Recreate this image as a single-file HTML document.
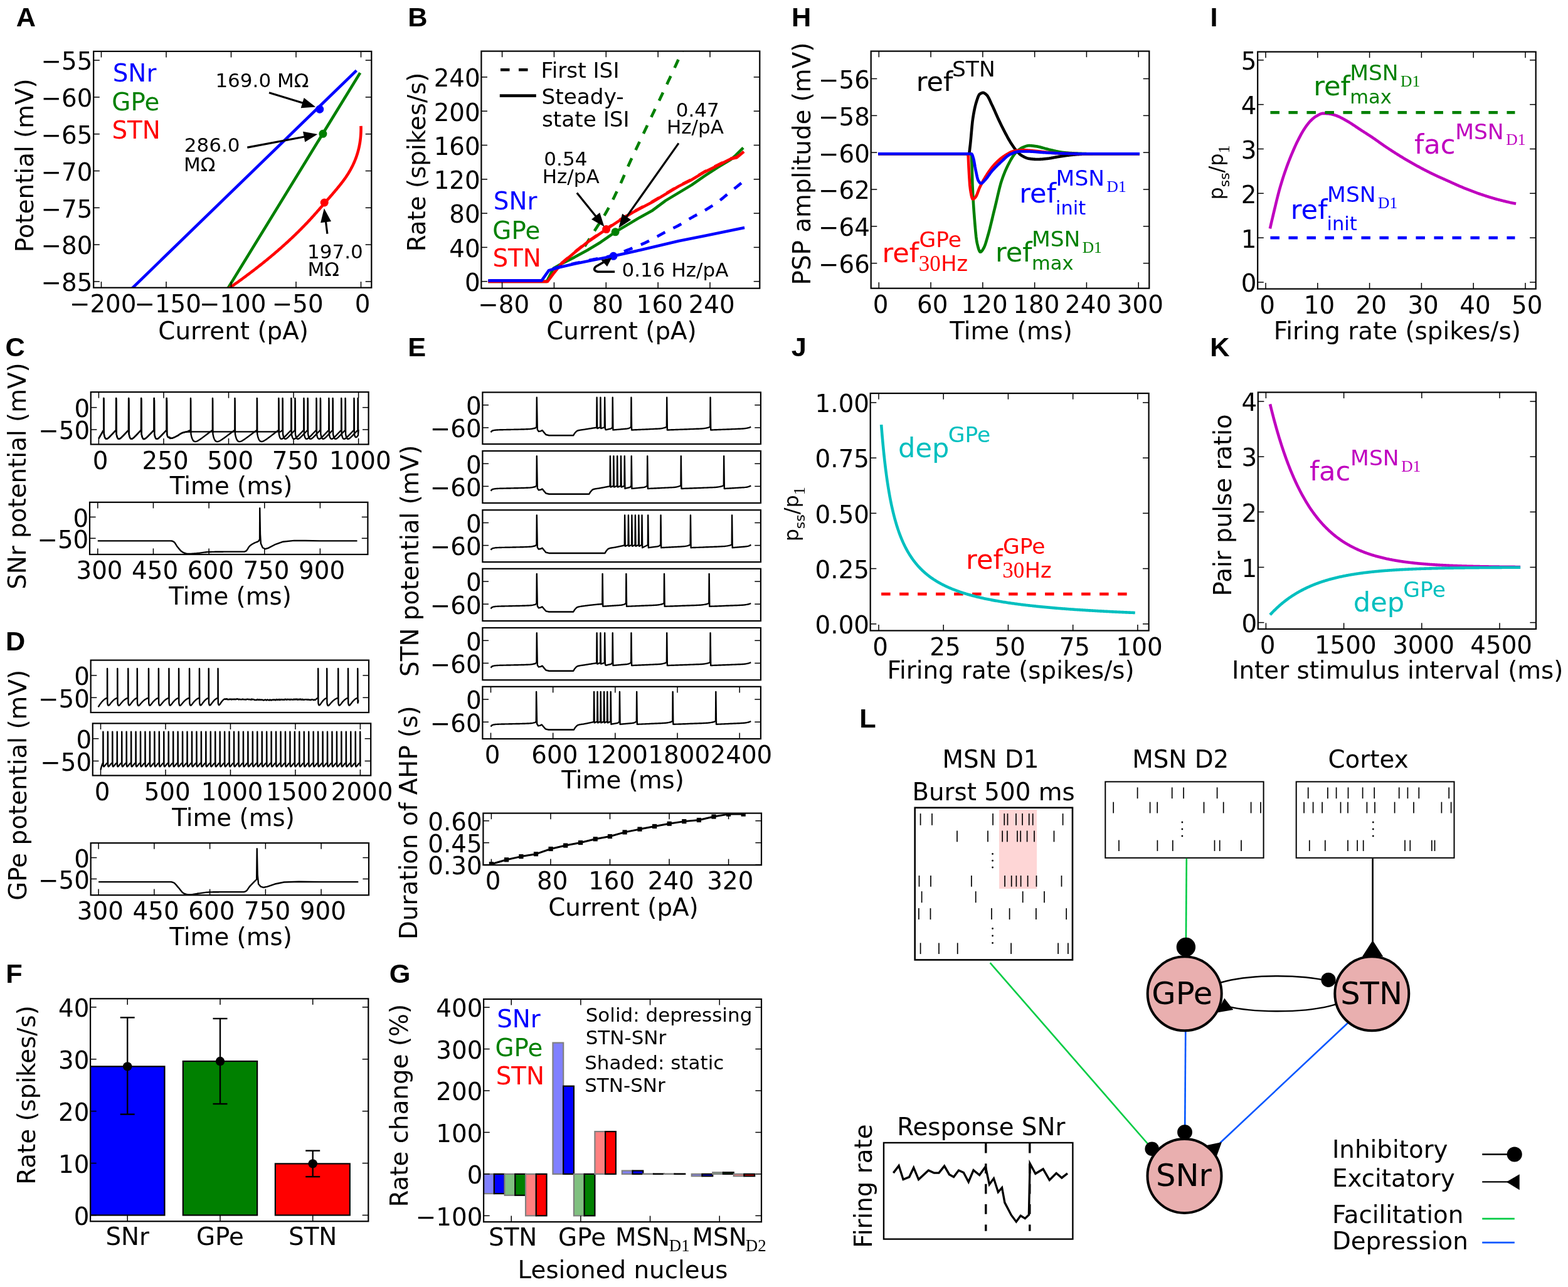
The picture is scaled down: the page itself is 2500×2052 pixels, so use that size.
<!DOCTYPE html>
<html><head><meta charset="utf-8"><title>Figure</title>
<style>html,body{margin:0;padding:0;background:#fff;}svg{display:block;}
text{font-family:'DejaVu Sans','Liberation Sans',sans-serif;}</style></head>
<body><svg xmlns="http://www.w3.org/2000/svg" width="2500" height="2052" viewBox="0 0 2500 2052">
<rect x="0" y="0" width="2500" height="2052" fill="#fff"/>
<text x="25.87" y="41.8" font-size="43.3" font-weight="bold" style="font-family:'Liberation Sans', Arial, sans-serif">A</text>
<text x="650.3" y="41.7" font-size="43.3" font-weight="bold" style="font-family:'Liberation Sans', Arial, sans-serif">B</text>
<text x="1262.1" y="41.7" font-size="43.3" font-weight="bold" style="font-family:'Liberation Sans', Arial, sans-serif">H</text>
<text x="1929.4" y="41.7" font-size="43.3" font-weight="bold" style="font-family:'Liberation Sans', Arial, sans-serif">I</text>
<text x="8.42" y="567.6" font-size="43.3" font-weight="bold" style="font-family:'Liberation Sans', Arial, sans-serif">C</text>
<text x="650.3" y="567.6" font-size="43.3" font-weight="bold" style="font-family:'Liberation Sans', Arial, sans-serif">E</text>
<text x="1261.64" y="567.6" font-size="43.3" font-weight="bold" style="font-family:'Liberation Sans', Arial, sans-serif">J</text>
<text x="1929.3" y="567.6" font-size="43.3" font-weight="bold" style="font-family:'Liberation Sans', Arial, sans-serif">K</text>
<text x="8.9" y="1037.1" font-size="43.3" font-weight="bold" style="font-family:'Liberation Sans', Arial, sans-serif">D</text>
<text x="1370.2" y="1160.2" font-size="43.3" font-weight="bold" style="font-family:'Liberation Sans', Arial, sans-serif">L</text>
<text x="9.2" y="1566.6" font-size="43.3" font-weight="bold" style="font-family:'Liberation Sans', Arial, sans-serif">F</text>
<text x="620.82" y="1566.6" font-size="43.3" font-weight="bold" style="font-family:'Liberation Sans', Arial, sans-serif">G</text>
<clipPath id="c1"><rect x="149.2" y="81.9" width="443.1" height="376.8"/></clipPath>
<polyline points="206.5,463.7 568.4,112.3" fill="none" stroke="#0000ff" stroke-width="4.6" stroke-linejoin="round" stroke-linecap="butt" clip-path="url(#c1)"/>
<polyline points="360.9,463.7 574.2,116.1" fill="none" stroke="#008000" stroke-width="4.6" stroke-linejoin="round" stroke-linecap="butt" clip-path="url(#c1)"/>
<polyline points="359.07,463.8 360.6,462.75 362.14,461.69 363.66,460.63 365.18,459.58 366.7,458.52 368.21,457.47 369.72,456.41 371.22,455.36 372.71,454.3 374.2,453.24 375.69,452.19 377.16,451.13 378.64,450.08 380.11,449.02 381.57,447.96 383.03,446.91 384.48,445.85 385.93,444.8 387.37,443.74 388.8,442.68 390.24,441.63 391.66,440.57 393.08,439.52 394.5,438.46 395.91,437.41 397.31,436.35 398.71,435.29 400.11,434.24 401.49,433.18 402.88,432.13 404.26,431.07 405.63,430.01 407,428.96 408.36,427.9 409.72,426.85 411.07,425.79 412.41,424.73 413.76,423.68 415.09,422.62 416.42,421.57 417.75,420.51 419.07,419.46 420.38,418.4 421.69,417.34 423,416.29 424.3,415.23 425.59,414.18 426.88,413.12 428.16,412.06 429.44,411.01 430.71,409.95 431.98,408.9 433.24,407.84 434.5,406.78 435.75,405.73 437,404.67 438.24,403.62 439.48,402.56 440.71,401.51 441.93,400.45 443.15,399.39 444.37,398.34 445.58,397.28 446.78,396.23 447.98,395.17 449.18,394.11 450.37,393.06 451.55,392 452.73,390.95 453.9,389.89 455.07,388.84 456.23,387.78 457.39,386.72 458.55,385.67 459.69,384.61 460.84,383.56 461.97,382.5 463.11,381.44 464.23,380.39 465.35,379.33 466.47,378.28 467.58,377.22 468.69,376.16 469.79,375.11 470.88,374.05 471.98,373 473.06,371.94 474.14,370.89 475.22,369.83 476.29,368.77 477.35,367.72 478.41,366.66 479.47,365.61 480.51,364.55 481.56,363.49 482.6,362.44 483.63,361.38 484.66,360.33 485.68,359.27 486.7,358.21 487.72,357.16 488.72,356.1 489.73,355.05 490.73,353.99 491.72,352.94 492.71,351.88 493.69,350.82 494.67,349.77 495.64,348.71 496.6,347.66 497.57,346.6 498.52,345.54 499.48,344.49 500.42,343.43 501.37,342.38 502.31,341.32 503.24,340.27 504.18,339.21 505.11,338.15 506.03,337.1 506.96,336.04 507.88,334.99 508.8,333.93 509.72,332.87 510.64,331.82 511.56,330.76 512.47,329.71 513.39,328.65 514.3,327.59 515.22,326.54 516.13,325.48 517.05,324.43 517.97,323.37 518.88,322.32 519.8,321.26 520.72,320.2 521.64,319.15 522.56,318.09 523.48,317.04 524.4,315.98 525.32,314.92 526.24,313.87 527.15,312.81 528.07,311.76 528.98,310.7 529.89,309.64 530.8,308.59 531.7,307.53 532.61,306.48 533.5,305.42 534.4,304.37 535.29,303.31 536.18,302.25 537.06,301.2 537.93,300.14 538.8,299.09 539.67,298.03 540.53,296.97 541.38,295.92 542.22,294.86 543.06,293.81 543.89,292.75 544.71,291.69 545.52,290.64 546.32,289.58 547.11,288.53 547.9,287.47 548.67,286.42 549.43,285.36 550.18,284.3 550.92,283.25 551.65,282.19 552.36,281.14 553.07,280.08 553.76,279.02 554.43,277.97 555.1,276.91 555.75,275.86 556.39,274.8 557.02,273.75 557.64,272.69 558.24,271.63 558.84,270.58 559.42,269.52 559.99,268.47 560.54,267.41 561.09,266.35 561.62,265.3 562.15,264.24 562.66,263.19 563.16,262.13 563.65,261.07 564.13,260.02 564.6,258.96 565.05,257.91 565.5,256.85 565.93,255.8 566.36,254.74 566.77,253.68 567.17,252.63 567.57,251.57 567.95,250.52 568.32,249.46 568.68,248.4 569.03,247.35 569.37,246.29 569.7,245.24 570.02,244.18 570.33,243.12 570.64,242.07 570.93,241.01 571.21,239.96 571.48,238.9 571.74,237.85 572,236.79 572.24,235.73 572.47,234.68 572.7,233.62 572.91,232.57 573.12,231.51 573.32,230.45 573.51,229.4 573.69,228.34 573.86,227.29 574.02,226.23 574.17,225.17 574.32,224.12 574.45,223.06 574.58,222.01 574.7,220.95 574.81,219.9 574.92,218.84 575.01,217.78 575.1,216.73 575.18,215.67 575.25,214.62 575.31,213.56 575.37,212.5 575.41,211.45 575.45,210.39 575.49,209.34 575.51,208.28 575.53,207.23 575.54,206.17 575.54,205.11 575.54,204.06 575.53,203 575.51,201.95 575.48,200.89" fill="none" stroke="#ff0000" stroke-width="4.6" stroke-linejoin="round" stroke-linecap="butt" clip-path="url(#c1)"/>
<circle cx="509.7" cy="174.2" r="6.5" fill="#0000ff" stroke="none" stroke-width="0"/>
<circle cx="514.9" cy="213.3" r="6.5" fill="#008000" stroke="none" stroke-width="0"/>
<circle cx="517.2" cy="323" r="6.5" fill="#ff0000" stroke="none" stroke-width="0"/>
<line x1="161.5" y1="458.7" x2="161.5" y2="449.1" stroke="#000" stroke-width="1.5" stroke-linecap="butt"/>
<line x1="161.5" y1="81.9" x2="161.5" y2="91.5" stroke="#000" stroke-width="1.5" stroke-linecap="butt"/>
<line x1="265" y1="458.7" x2="265" y2="449.1" stroke="#000" stroke-width="1.5" stroke-linecap="butt"/>
<line x1="265" y1="81.9" x2="265" y2="91.5" stroke="#000" stroke-width="1.5" stroke-linecap="butt"/>
<line x1="368.5" y1="458.7" x2="368.5" y2="449.1" stroke="#000" stroke-width="1.5" stroke-linecap="butt"/>
<line x1="368.5" y1="81.9" x2="368.5" y2="91.5" stroke="#000" stroke-width="1.5" stroke-linecap="butt"/>
<line x1="472" y1="458.7" x2="472" y2="449.1" stroke="#000" stroke-width="1.5" stroke-linecap="butt"/>
<line x1="472" y1="81.9" x2="472" y2="91.5" stroke="#000" stroke-width="1.5" stroke-linecap="butt"/>
<line x1="575.5" y1="458.7" x2="575.5" y2="449.1" stroke="#000" stroke-width="1.5" stroke-linecap="butt"/>
<line x1="575.5" y1="81.9" x2="575.5" y2="91.5" stroke="#000" stroke-width="1.5" stroke-linecap="butt"/>
<line x1="149.2" y1="96.1" x2="158.8" y2="96.1" stroke="#000" stroke-width="1.5" stroke-linecap="butt"/>
<line x1="592.3" y1="96.1" x2="582.7" y2="96.1" stroke="#000" stroke-width="1.5" stroke-linecap="butt"/>
<line x1="149.2" y1="154.9" x2="158.8" y2="154.9" stroke="#000" stroke-width="1.5" stroke-linecap="butt"/>
<line x1="592.3" y1="154.9" x2="582.7" y2="154.9" stroke="#000" stroke-width="1.5" stroke-linecap="butt"/>
<line x1="149.2" y1="213.7" x2="158.8" y2="213.7" stroke="#000" stroke-width="1.5" stroke-linecap="butt"/>
<line x1="592.3" y1="213.7" x2="582.7" y2="213.7" stroke="#000" stroke-width="1.5" stroke-linecap="butt"/>
<line x1="149.2" y1="272.5" x2="158.8" y2="272.5" stroke="#000" stroke-width="1.5" stroke-linecap="butt"/>
<line x1="592.3" y1="272.5" x2="582.7" y2="272.5" stroke="#000" stroke-width="1.5" stroke-linecap="butt"/>
<line x1="149.2" y1="331.3" x2="158.8" y2="331.3" stroke="#000" stroke-width="1.5" stroke-linecap="butt"/>
<line x1="592.3" y1="331.3" x2="582.7" y2="331.3" stroke="#000" stroke-width="1.5" stroke-linecap="butt"/>
<line x1="149.2" y1="390.1" x2="158.8" y2="390.1" stroke="#000" stroke-width="1.5" stroke-linecap="butt"/>
<line x1="592.3" y1="390.1" x2="582.7" y2="390.1" stroke="#000" stroke-width="1.5" stroke-linecap="butt"/>
<line x1="149.2" y1="448.9" x2="158.8" y2="448.9" stroke="#000" stroke-width="1.5" stroke-linecap="butt"/>
<line x1="592.3" y1="448.9" x2="582.7" y2="448.9" stroke="#000" stroke-width="1.5" stroke-linecap="butt"/>
<rect x="149.2" y="81.9" width="443.1" height="376.8" fill="none" stroke="#000" stroke-width="2.2"/>
<text x="164.2" y="497.7" font-size="38.8" text-anchor="middle">−200</text>
<text x="267.7" y="497.7" font-size="38.8" text-anchor="middle">−150</text>
<text x="371.2" y="497.7" font-size="38.8" text-anchor="middle">−100</text>
<text x="474.7" y="497.7" font-size="38.8" text-anchor="middle">−50</text>
<text x="578.2" y="497.7" font-size="38.8" text-anchor="middle">0</text>
<text x="147.5" y="111.44" font-size="38.8" text-anchor="end">−55</text>
<text x="147.5" y="170.24" font-size="38.8" text-anchor="end">−60</text>
<text x="147.5" y="229.04" font-size="38.8" text-anchor="end">−65</text>
<text x="147.5" y="287.84" font-size="38.8" text-anchor="end">−70</text>
<text x="147.5" y="346.64" font-size="38.8" text-anchor="end">−75</text>
<text x="147.5" y="405.44" font-size="38.8" text-anchor="end">−80</text>
<text x="147.5" y="464.24" font-size="38.8" text-anchor="end">−85</text>
<text x="372.08" y="540.7" font-size="38.8" text-anchor="middle">Current (pA)</text>
<text x="53.3" y="263.84" font-size="38.8" text-anchor="middle" transform="rotate(-90 53.3 263.84)">Potential (mV)</text>
<text x="179.74" y="129.7" font-size="38.8" fill="#0000ff">SNr</text>
<text x="178.32" y="175.8" font-size="38.8" fill="#008000">GPe</text>
<text x="178.44" y="221" font-size="38.8" fill="#ff0000">STN</text>
<text x="343.39" y="138.7" font-size="31">169.0 MΩ</text>
<text x="293.83" y="241.9" font-size="31">286.0</text>
<text x="293.06" y="272.6" font-size="31">MΩ</text>
<text x="490.09" y="412.3" font-size="31">197.0</text>
<text x="490.46" y="440.3" font-size="31">MΩ</text>
<line x1="429" y1="147.7" x2="483.13" y2="164.33" stroke="#000" stroke-width="3.2" stroke-linecap="butt"/>
<polygon points="503.2,170.5 479.67,172.16 484.67,155.91" fill="#000"/>
<line x1="394.3" y1="235.1" x2="485.66" y2="217.97" stroke="#000" stroke-width="3.2" stroke-linecap="butt"/>
<polygon points="506.3,214.1 486.24,226.51 483.11,209.8" fill="#000"/>
<line x1="521.9" y1="372.8" x2="519.42" y2="353.14" stroke="#000" stroke-width="3.2" stroke-linecap="butt"/>
<polygon points="516.8,332.3 527.98,353.07 511.12,355.19" fill="#000"/>
<clipPath id="c2"><rect x="767.4" y="81.6" width="443.9" height="378.1"/></clipPath>
<polyline points="778.32,448.83 871.93,448.83 882.34,428.03 894.82,420.75 915.62,410.35 936.42,398.91 957.23,386.42 981.15,369.78 998.83,359.38 1019.64,346.9 1040.44,335.46 1061.24,319.85 1082.04,307.37 1102.85,294.89 1123.65,280.33 1144.45,266.81 1165.26,254.32 1171.5,249.12 1185.02,235.6" fill="none" stroke="#008000" stroke-width="4.6" stroke-linejoin="round" stroke-linecap="butt" clip-path="url(#c2)"/>
<polyline points="932.26,392.66 933.63,390.54 934.99,388.41 936.35,386.27 937.72,384.14 939.08,382 940.44,379.85 941.81,377.71 943.17,375.56 944.54,373.41 945.9,371.25 947.26,369.09 948.63,366.95 949.99,364.83 951.35,362.72 952.72,360.61 954.08,358.51 955.44,356.41 956.81,354.29 958.17,352.16 959.53,350.01 960.9,347.84 962.26,345.62 963.63,343.38 964.99,341.08 966.35,338.74 967.72,336.34 969.08,333.89 970.44,331.38 971.81,328.83 973.17,326.23 974.53,323.59 975.9,320.91 977.26,318.19 978.62,315.44 979.99,312.65 981.35,309.84 982.72,307 984.08,304.14 985.44,301.26 986.81,298.36 988.17,295.45 989.53,292.5 990.9,289.47 992.26,286.38 993.62,283.24 994.99,280.06 996.35,276.87 997.71,273.67 999.08,270.5 1000.44,267.35 1001.8,264.25 1003.17,261.22 1004.53,258.24 1005.9,255.28 1007.26,252.36 1008.62,249.45 1009.99,246.56 1011.35,243.69 1012.71,240.82 1014.08,237.96 1015.44,235.09 1016.8,232.23 1018.17,229.35 1019.53,226.46 1020.89,223.57 1022.26,220.68 1023.62,217.79 1024.99,214.91 1026.35,212.03 1027.71,209.15 1029.08,206.28 1030.44,203.41 1031.8,200.55 1033.17,197.68 1034.53,194.82 1035.89,191.96 1037.26,189.1 1038.62,186.24 1039.98,183.38 1041.35,180.53 1042.71,177.67 1044.08,174.81 1045.44,171.96 1046.8,169.1 1048.17,166.24 1049.53,163.38 1050.89,160.52 1052.26,157.66 1053.62,154.79 1054.98,151.92 1056.35,149.05 1057.71,146.18 1059.07,143.3 1060.44,140.42 1061.8,137.53 1063.16,134.64 1064.53,131.75 1065.89,128.85 1067.26,125.95 1068.62,123.04 1069.98,120.12 1071.35,117.2 1072.71,114.27 1074.07,111.34 1075.44,108.39 1076.8,105.45 1078.16,102.49 1079.53,99.52 1080.89,96.55 1082.25,93.57 1083.62,90.58 1084.98,87.58 1086.35,84.57 1087.71,81.56 1089.07,78.51 1090.44,75.42 1091.8,72.31 1093.16,69.18 1094.53,66.06" fill="none" stroke="#008000" stroke-width="4.6" stroke-linejoin="round" stroke-linecap="butt" stroke-dasharray="14.5,14.5" clip-path="url(#c2)"/>
<polyline points="894.82,420.12 915.62,402.44 936.42,385.8 966.59,365 988.43,350.43 1009.23,337.95 1040.44,321.31 1061.24,308.83 1082.04,296.35 1102.85,285.95 1123.65,273.46 1144.45,263.06 1165.26,252.66 1174.62,250.58 1186.06,241.22" fill="none" stroke="#ff0000" stroke-width="4.6" stroke-linejoin="round" stroke-linecap="butt" stroke-dasharray="14.5,14.5" clip-path="url(#c2)"/>
<polyline points="778.32,448.83 872.97,448.83 882.34,436.35 894.82,420.75 915.62,403.07 936.42,386.42 966.59,365.62 988.43,351.06 1009.23,338.58 1040.44,321.93 1061.24,309.45 1082.04,296.97 1102.85,286.57 1123.65,274.09 1144.45,263.69 1165.26,253.28 1174.62,251.2 1186.06,241.84" fill="none" stroke="#ff0000" stroke-width="4.6" stroke-linejoin="round" stroke-linecap="butt" clip-path="url(#c2)"/>
<polyline points="882.34,428.03 884.37,427.52 886.41,427.02 888.45,426.51 890.49,426.02 892.53,425.52 894.57,425.03 896.61,424.53 898.64,424.05 900.68,423.56 902.72,423.08 904.76,422.61 906.8,422.13 908.84,421.66 910.87,421.2 912.91,420.73 914.95,420.27 916.99,419.82 919.03,419.37 921.07,418.92 923.1,418.48 925.14,418.04 927.18,417.6 929.22,417.17 931.26,416.74 933.3,416.31 935.33,415.88 937.37,415.46 939.41,415.04 941.45,414.62 943.49,414.2 945.53,413.78 947.57,413.36 949.6,412.94 951.64,412.53 953.68,412.11 955.72,411.7 957.76,411.28 959.8,410.88 961.83,410.5 963.87,410.13 965.91,409.77 967.95,409.4 969.99,409.01 972.03,408.61 974.06,408.18 976.1,407.71 978.14,407.2 980.18,406.62 982.22,405.96 984.26,405.24 986.3,404.47 988.33,403.66 990.37,402.82 992.41,401.97 994.45,401.11 996.49,400.27 998.53,399.44 1000.56,398.64 1002.6,397.84 1004.64,397.04 1006.68,396.24 1008.72,395.43 1010.76,394.63 1012.79,393.81 1014.83,392.99 1016.87,392.16 1018.91,391.31 1020.95,390.45 1022.99,389.58 1025.03,388.69 1027.06,387.79 1029.1,386.86 1031.14,385.9 1033.18,384.92 1035.22,383.89 1037.26,382.84 1039.29,381.76 1041.33,380.66 1043.37,379.55 1045.41,378.42 1047.45,377.29 1049.49,376.15 1051.52,375.02 1053.56,373.89 1055.6,372.78 1057.64,371.68 1059.68,370.59 1061.72,369.54 1063.76,368.51 1065.79,367.5 1067.83,366.51 1069.87,365.52 1071.91,364.53 1073.95,363.54 1075.99,362.53 1078.02,361.5 1080.06,360.44 1082.1,359.35 1084.14,358.21 1086.18,357.03 1088.22,355.81 1090.25,354.57 1092.29,353.31 1094.33,352.04 1096.37,350.78 1098.41,349.53 1100.45,348.3 1102.48,347.11 1104.52,345.95 1106.56,344.82 1108.6,343.72 1110.64,342.62 1112.68,341.54 1114.72,340.45 1116.75,339.35 1118.79,338.24 1120.83,337.1 1122.87,335.92 1124.91,334.7 1126.95,333.47 1128.98,332.22 1131.02,330.94 1133.06,329.65 1135.1,328.33 1137.14,326.99 1139.18,325.62 1141.21,324.22 1143.25,322.79 1145.29,321.33 1147.33,319.81 1149.37,318.24 1151.41,316.63 1153.45,314.98 1155.48,313.31 1157.52,311.63 1159.56,309.94 1161.6,308.26 1163.64,306.6 1165.68,304.96 1167.71,303.33 1169.75,301.7 1171.79,300.07 1173.83,298.43 1175.87,296.8 1177.91,295.17 1179.94,293.54 1181.98,291.91 1184.02,290.28 1186.06,288.65" fill="none" stroke="#0000ff" stroke-width="4.6" stroke-linejoin="round" stroke-linecap="butt" stroke-dasharray="14.5,14.5" clip-path="url(#c2)"/>
<polyline points="778.32,447.38 863.61,447.38 875.06,431.15 892.74,425.95 915.62,420.75 936.42,416.59 978.03,408.27 1019.64,398.91 1082.04,384.34 1123.65,376.02 1187.1,363.12" fill="none" stroke="#0000ff" stroke-width="4.6" stroke-linejoin="round" stroke-linecap="butt" clip-path="url(#c2)"/>
<circle cx="966.6" cy="365.6" r="6.5" fill="#ff0000" stroke="none" stroke-width="0"/>
<circle cx="981.1" cy="369.8" r="6.5" fill="#008000" stroke="none" stroke-width="0"/>
<circle cx="978" cy="408.3" r="6.5" fill="#0000ff" stroke="none" stroke-width="0"/>
<line x1="800.6" y1="459.7" x2="800.6" y2="450.1" stroke="#000" stroke-width="1.5" stroke-linecap="butt"/>
<line x1="800.6" y1="81.6" x2="800.6" y2="91.2" stroke="#000" stroke-width="1.5" stroke-linecap="butt"/>
<line x1="883.45" y1="459.7" x2="883.45" y2="450.1" stroke="#000" stroke-width="1.5" stroke-linecap="butt"/>
<line x1="883.45" y1="81.6" x2="883.45" y2="91.2" stroke="#000" stroke-width="1.5" stroke-linecap="butt"/>
<line x1="966.3" y1="459.7" x2="966.3" y2="450.1" stroke="#000" stroke-width="1.5" stroke-linecap="butt"/>
<line x1="966.3" y1="81.6" x2="966.3" y2="91.2" stroke="#000" stroke-width="1.5" stroke-linecap="butt"/>
<line x1="1049.15" y1="459.7" x2="1049.15" y2="450.1" stroke="#000" stroke-width="1.5" stroke-linecap="butt"/>
<line x1="1049.15" y1="81.6" x2="1049.15" y2="91.2" stroke="#000" stroke-width="1.5" stroke-linecap="butt"/>
<line x1="1132" y1="459.7" x2="1132" y2="450.1" stroke="#000" stroke-width="1.5" stroke-linecap="butt"/>
<line x1="1132" y1="81.6" x2="1132" y2="91.2" stroke="#000" stroke-width="1.5" stroke-linecap="butt"/>
<line x1="767.4" y1="448.7" x2="777" y2="448.7" stroke="#000" stroke-width="1.5" stroke-linecap="butt"/>
<line x1="1211.3" y1="448.7" x2="1201.7" y2="448.7" stroke="#000" stroke-width="1.5" stroke-linecap="butt"/>
<line x1="767.4" y1="394.4" x2="777" y2="394.4" stroke="#000" stroke-width="1.5" stroke-linecap="butt"/>
<line x1="1211.3" y1="394.4" x2="1201.7" y2="394.4" stroke="#000" stroke-width="1.5" stroke-linecap="butt"/>
<line x1="767.4" y1="340.1" x2="777" y2="340.1" stroke="#000" stroke-width="1.5" stroke-linecap="butt"/>
<line x1="1211.3" y1="340.1" x2="1201.7" y2="340.1" stroke="#000" stroke-width="1.5" stroke-linecap="butt"/>
<line x1="767.4" y1="285.8" x2="777" y2="285.8" stroke="#000" stroke-width="1.5" stroke-linecap="butt"/>
<line x1="1211.3" y1="285.8" x2="1201.7" y2="285.8" stroke="#000" stroke-width="1.5" stroke-linecap="butt"/>
<line x1="767.4" y1="231.5" x2="777" y2="231.5" stroke="#000" stroke-width="1.5" stroke-linecap="butt"/>
<line x1="1211.3" y1="231.5" x2="1201.7" y2="231.5" stroke="#000" stroke-width="1.5" stroke-linecap="butt"/>
<line x1="767.4" y1="177.2" x2="777" y2="177.2" stroke="#000" stroke-width="1.5" stroke-linecap="butt"/>
<line x1="1211.3" y1="177.2" x2="1201.7" y2="177.2" stroke="#000" stroke-width="1.5" stroke-linecap="butt"/>
<line x1="767.4" y1="122.9" x2="777" y2="122.9" stroke="#000" stroke-width="1.5" stroke-linecap="butt"/>
<line x1="1211.3" y1="122.9" x2="1201.7" y2="122.9" stroke="#000" stroke-width="1.5" stroke-linecap="butt"/>
<rect x="767.4" y="81.6" width="443.9" height="378.1" fill="none" stroke="#000" stroke-width="2.2"/>
<text x="803.3" y="498.7" font-size="38.8" text-anchor="middle">−80</text>
<text x="886.15" y="498.7" font-size="38.8" text-anchor="middle">0</text>
<text x="969" y="498.7" font-size="38.8" text-anchor="middle">80</text>
<text x="1051.85" y="498.7" font-size="38.8" text-anchor="middle">160</text>
<text x="1134.7" y="498.7" font-size="38.8" text-anchor="middle">240</text>
<text x="765.7" y="464.04" font-size="38.8" text-anchor="end">0</text>
<text x="765.7" y="409.74" font-size="38.8" text-anchor="end">40</text>
<text x="765.7" y="355.44" font-size="38.8" text-anchor="end">80</text>
<text x="765.7" y="301.14" font-size="38.8" text-anchor="end">120</text>
<text x="765.7" y="246.84" font-size="38.8" text-anchor="end">160</text>
<text x="765.7" y="192.54" font-size="38.8" text-anchor="end">200</text>
<text x="765.7" y="138.24" font-size="38.8" text-anchor="end">240</text>
<text x="990.98" y="540.7" font-size="38.8" text-anchor="middle">Current (pA)</text>
<text x="678.3" y="258.44" font-size="38.8" text-anchor="middle" transform="rotate(-90 678.3 258.44)">Rate (spikes/s)</text>
<line x1="798" y1="111.3" x2="842.6" y2="111.3" stroke="#000" stroke-width="4.6" stroke-linecap="butt" stroke-dasharray="14.5,14.5"/>
<line x1="796.8" y1="152.6" x2="854.8" y2="152.6" stroke="#000" stroke-width="4.6" stroke-linecap="butt"/>
<text x="862.43" y="124.2" font-size="34.3">First ISI</text>
<text x="863.54" y="166" font-size="34.3">Steady-</text>
<text x="863.94" y="201.6" font-size="34.3">state ISI</text>
<text x="786.84" y="333.9" font-size="38.8" fill="#0000ff">SNr</text>
<text x="785.32" y="380.6" font-size="38.8" fill="#008000">GPe</text>
<text x="785.44" y="425.2" font-size="38.8" fill="#ff0000">STN</text>
<text x="867.36" y="263.7" font-size="31">0.54</text>
<text x="864.76" y="291.8" font-size="31">Hz/pA</text>
<text x="1077.66" y="185.5" font-size="31">0.47</text>
<text x="1062.96" y="213" font-size="31">Hz/pA</text>
<text x="991.56" y="440.5" font-size="31">0.16 Hz/pA</text>
<line x1="919.8" y1="307.4" x2="950.3" y2="345.16" stroke="#000" stroke-width="3.2" stroke-linecap="butt"/>
<polygon points="963.5,361.5 943.06,349.73 956.29,339.04" fill="#000"/>
<line x1="1082" y1="228.3" x2="998.52" y2="346.35" stroke="#000" stroke-width="3.2" stroke-linecap="butt"/>
<polygon points="986.4,363.5 992.16,340.63 1006.04,350.44" fill="#000"/>
<path d="M 980.1 433.2 L 953 433.2 Q 944 431 950 425 L 966 416" fill="none" stroke="#000" stroke-width="3.6" stroke-linejoin="round" stroke-linecap="butt"/>
<polygon points="975.5,411 958.5,414.5 968,425" fill="#000"/>
<clipPath id="c3"><rect x="1388.7" y="81.6" width="443.6" height="378.1"/></clipPath>
<polyline points="1400,245.28 1400.84,245.28 1401.67,245.28 1402.51,245.28 1403.34,245.28 1404.18,245.28 1405.01,245.28 1405.85,245.28 1406.69,245.28 1407.52,245.28 1408.36,245.28 1409.19,245.28 1410.03,245.28 1410.86,245.28 1411.7,245.28 1412.54,245.28 1413.37,245.28 1414.21,245.28 1415.04,245.28 1415.88,245.28 1416.71,245.28 1417.55,245.28 1418.39,245.28 1419.22,245.28 1420.06,245.28 1420.89,245.28 1421.73,245.28 1422.56,245.28 1423.4,245.28 1424.24,245.28 1425.07,245.28 1425.91,245.28 1426.74,245.28 1427.58,245.28 1428.41,245.28 1429.25,245.28 1430.09,245.28 1430.92,245.28 1431.76,245.28 1432.59,245.28 1433.43,245.28 1434.27,245.28 1435.1,245.28 1435.94,245.28 1436.77,245.28 1437.61,245.28 1438.44,245.28 1439.28,245.28 1440.12,245.28 1440.95,245.28 1441.79,245.28 1442.62,245.28 1443.46,245.28 1444.29,245.28 1445.13,245.28 1445.97,245.28 1446.8,245.28 1447.64,245.28 1448.47,245.28 1449.31,245.28 1450.14,245.28 1450.98,245.28 1451.82,245.28 1452.65,245.28 1453.49,245.28 1454.32,245.28 1455.16,245.28 1455.99,245.28 1456.83,245.28 1457.67,245.28 1458.5,245.28 1459.34,245.28 1460.17,245.28 1461.01,245.28 1461.84,245.28 1462.68,245.28 1463.52,245.28 1464.35,245.28 1465.19,245.28 1466.02,245.28 1466.86,245.28 1467.69,245.28 1468.53,245.28 1469.37,245.28 1470.2,245.28 1471.04,245.28 1471.87,245.28 1472.71,245.28 1473.54,245.28 1474.38,245.28 1475.22,245.28 1476.05,245.28 1476.89,245.28 1477.72,245.28 1478.56,245.28 1479.39,245.28 1480.23,245.28 1481.07,245.28 1481.9,245.28 1482.74,245.28 1483.57,245.28 1484.41,245.28 1485.24,245.28 1486.08,245.28 1486.92,245.28 1487.75,245.28 1488.59,245.28 1489.42,245.28 1490.26,245.28 1491.1,245.28 1491.93,245.28 1492.77,245.28 1493.6,245.28 1494.44,245.28 1495.27,245.28 1496.11,245.28 1496.95,245.28 1497.78,245.28 1498.62,245.28 1499.45,245.28 1500.29,245.28 1501.12,245.28 1501.96,245.28 1502.8,245.28 1503.63,245.28 1504.47,245.28 1505.3,245.28 1506.14,245.28 1506.97,245.28 1507.81,245.28 1508.65,245.28 1509.48,245.28 1510.32,245.28 1511.15,245.28 1511.99,245.28 1512.82,245.28 1513.66,245.28 1514.5,245.28 1515.33,245.28 1516.17,245.28 1517,245.28 1517.84,245.28 1518.67,245.28 1519.51,245.28 1520.35,245.28 1521.18,245.28 1522.02,245.28 1522.85,245.28 1523.69,245.28 1524.52,245.28 1525.36,245.28 1526.2,245.28 1527.03,245.28 1527.87,245.28 1528.7,245.28 1529.54,245.28 1530.37,245.28 1531.21,245.28 1532.05,245.28 1532.88,245.28 1533.72,245.28 1534.55,245.28 1535.39,245.28 1536.22,245.28 1537.06,245.28 1537.9,245.28 1538.73,245.28 1539.57,245.28 1540.4,245.28 1541.24,245.28 1542.07,245.28 1542.91,245.28 1543.75,245.28 1544.58,245.28 1545.42,243.73 1546.25,236.9 1547.09,229.65 1547.93,221.15 1548.76,211.75 1549.6,202.44 1550.43,194.23 1551.27,188.05 1552.1,182.92 1552.94,178.27 1553.78,174.07 1554.61,170.3 1555.45,166.94 1556.28,163.97 1557.12,161.28 1557.95,158.66 1558.79,156.18 1559.63,153.97 1560.46,152.13 1561.3,150.76 1562.13,149.96 1562.97,149.42 1563.8,148.94 1564.64,148.53 1565.48,148.21 1566.31,147.98 1567.15,147.87 1567.98,147.91 1568.82,148.14 1569.65,148.56 1570.49,149.11 1571.33,149.75 1572.16,150.46 1573,151.2 1573.83,152.09 1574.67,153.23 1575.5,154.59 1576.34,156.13 1577.18,157.8 1578.01,159.58 1578.85,161.41 1579.68,163.26 1580.52,165.09 1581.35,166.86 1582.19,168.57 1583.03,170.31 1583.86,172.11 1584.7,173.94 1585.53,175.8 1586.37,177.68 1587.2,179.58 1588.04,181.48 1588.88,183.37 1589.71,185.25 1590.55,187.12 1591.38,188.95 1592.22,190.75 1593.05,192.5 1593.89,194.25 1594.73,195.98 1595.56,197.71 1596.4,199.42 1597.23,201.13 1598.07,202.81 1598.9,204.49 1599.74,206.15 1600.58,207.79 1601.41,209.41 1602.25,211.01 1603.08,212.59 1603.92,214.15 1604.75,215.7 1605.59,217.25 1606.43,218.78 1607.26,220.29 1608.1,221.78 1608.93,223.25 1609.77,224.68 1610.61,226.08 1611.44,227.44 1612.28,228.75 1613.11,230.04 1613.95,231.31 1614.78,232.57 1615.62,233.81 1616.46,235.01 1617.29,236.19 1618.13,237.32 1618.96,238.4 1619.8,239.42 1620.63,240.39 1621.47,241.29 1622.31,242.17 1623.14,243.03 1623.98,243.87 1624.81,244.68 1625.65,245.44 1626.48,246.17 1627.32,246.85 1628.16,247.48 1628.99,248.04 1629.83,248.55 1630.66,249.01 1631.5,249.46 1632.33,249.9 1633.17,250.32 1634.01,250.73 1634.84,251.11 1635.68,251.47 1636.51,251.8 1637.35,252.1 1638.18,252.36 1639.02,252.59 1639.86,252.78 1640.69,252.93 1641.53,253.04 1642.36,253.15 1643.2,253.26 1644.03,253.37 1644.87,253.46 1645.71,253.56 1646.54,253.64 1647.38,253.72 1648.21,253.79 1649.05,253.86 1649.88,253.91 1650.72,253.96 1651.56,253.99 1652.39,254.02 1653.23,254.03 1654.06,254.04 1654.9,254.03 1655.73,254.01 1656.57,253.99 1657.41,253.95 1658.24,253.91 1659.08,253.86 1659.91,253.81 1660.75,253.75 1661.58,253.68 1662.42,253.61 1663.26,253.53 1664.09,253.46 1664.93,253.37 1665.76,253.29 1666.6,253.21 1667.44,253.12 1668.27,253.04 1669.11,252.96 1669.94,252.87 1670.78,252.78 1671.61,252.67 1672.45,252.56 1673.29,252.43 1674.12,252.3 1674.96,252.17 1675.79,252.02 1676.63,251.88 1677.46,251.73 1678.3,251.57 1679.14,251.41 1679.97,251.26 1680.81,251.1 1681.64,250.94 1682.48,250.78 1683.31,250.62 1684.15,250.47 1684.99,250.31 1685.82,250.17 1686.66,250.02 1687.49,249.89 1688.33,249.75 1689.16,249.63 1690,249.51 1690.84,249.38 1691.67,249.26 1692.51,249.14 1693.34,249.01 1694.18,248.89 1695.01,248.76 1695.85,248.64 1696.69,248.52 1697.52,248.4 1698.36,248.28 1699.19,248.16 1700.03,248.05 1700.86,247.93 1701.7,247.82 1702.54,247.71 1703.37,247.61 1704.21,247.5 1705.04,247.4 1705.88,247.31 1706.71,247.21 1707.55,247.12 1708.39,247.04 1709.22,246.96 1710.06,246.88 1710.89,246.81 1711.73,246.74 1712.56,246.67 1713.4,246.6 1714.24,246.53 1715.07,246.46 1715.91,246.39 1716.74,246.32 1717.58,246.26 1718.41,246.19 1719.25,246.13 1720.09,246.08 1720.92,246.02 1721.76,245.97 1722.59,245.92 1723.43,245.88 1724.26,245.84 1725.1,245.8 1725.94,245.77 1726.77,245.75 1727.61,245.73 1728.44,245.72 1729.28,245.71 1730.12,245.7 1730.95,245.69 1731.79,245.68 1732.62,245.67 1733.46,245.66 1734.29,245.65 1735.13,245.65 1735.97,245.64 1736.8,245.63 1737.64,245.62 1738.47,245.61 1739.31,245.6 1740.14,245.6 1740.98,245.59 1741.82,245.58 1742.65,245.57 1743.49,245.57 1744.32,245.56 1745.16,245.55 1745.99,245.55 1746.83,245.54 1747.67,245.53 1748.5,245.52 1749.34,245.52 1750.17,245.51 1751.01,245.51 1751.84,245.5 1752.68,245.49 1753.52,245.49 1754.35,245.48 1755.19,245.47 1756.02,245.47 1756.86,245.46 1757.69,245.46 1758.53,245.45 1759.37,245.45 1760.2,245.44 1761.04,245.44 1761.87,245.43 1762.71,245.43 1763.54,245.42 1764.38,245.42 1765.22,245.41 1766.05,245.41 1766.89,245.4 1767.72,245.4 1768.56,245.39 1769.39,245.39 1770.23,245.39 1771.07,245.38 1771.9,245.38 1772.74,245.37 1773.57,245.37 1774.41,245.37 1775.24,245.36 1776.08,245.36 1776.92,245.36 1777.75,245.35 1778.59,245.35 1779.42,245.35 1780.26,245.34 1781.09,245.34 1781.93,245.34 1782.77,245.33 1783.6,245.33 1784.44,245.33 1785.27,245.33 1786.11,245.32 1786.95,245.32 1787.78,245.32 1788.62,245.32 1789.45,245.31 1790.29,245.31 1791.12,245.31 1791.96,245.31 1792.8,245.31 1793.63,245.3 1794.47,245.3 1795.3,245.3 1796.14,245.3 1796.97,245.3 1797.81,245.3 1798.65,245.29 1799.48,245.29 1800.32,245.29 1801.15,245.29 1801.99,245.29 1802.82,245.29 1803.66,245.29 1804.5,245.29 1805.33,245.29 1806.17,245.29 1807,245.28 1807.84,245.28 1808.67,245.28 1809.51,245.28 1810.35,245.28 1811.18,245.28 1812.02,245.28 1812.85,245.28 1813.69,245.28 1814.52,245.28 1815.36,245.28 1816.2,245.28 1817.03,245.28" fill="none" stroke="#000" stroke-width="4.6" stroke-linejoin="round" stroke-linecap="butt" clip-path="url(#c3)"/>
<polyline points="1400,245.28 1400.84,245.28 1401.67,245.28 1402.51,245.28 1403.34,245.28 1404.18,245.28 1405.01,245.28 1405.85,245.28 1406.69,245.28 1407.52,245.28 1408.36,245.28 1409.19,245.28 1410.03,245.28 1410.86,245.28 1411.7,245.28 1412.54,245.28 1413.37,245.28 1414.21,245.28 1415.04,245.28 1415.88,245.28 1416.71,245.28 1417.55,245.28 1418.39,245.28 1419.22,245.28 1420.06,245.28 1420.89,245.28 1421.73,245.28 1422.56,245.28 1423.4,245.28 1424.24,245.28 1425.07,245.28 1425.91,245.28 1426.74,245.28 1427.58,245.28 1428.41,245.28 1429.25,245.28 1430.09,245.28 1430.92,245.28 1431.76,245.28 1432.59,245.28 1433.43,245.28 1434.27,245.28 1435.1,245.28 1435.94,245.28 1436.77,245.28 1437.61,245.28 1438.44,245.28 1439.28,245.28 1440.12,245.28 1440.95,245.28 1441.79,245.28 1442.62,245.28 1443.46,245.28 1444.29,245.28 1445.13,245.28 1445.97,245.28 1446.8,245.28 1447.64,245.28 1448.47,245.28 1449.31,245.28 1450.14,245.28 1450.98,245.28 1451.82,245.28 1452.65,245.28 1453.49,245.28 1454.32,245.28 1455.16,245.28 1455.99,245.28 1456.83,245.28 1457.67,245.28 1458.5,245.28 1459.34,245.28 1460.17,245.28 1461.01,245.28 1461.84,245.28 1462.68,245.28 1463.52,245.28 1464.35,245.28 1465.19,245.28 1466.02,245.28 1466.86,245.28 1467.69,245.28 1468.53,245.28 1469.37,245.28 1470.2,245.28 1471.04,245.28 1471.87,245.28 1472.71,245.28 1473.54,245.28 1474.38,245.28 1475.22,245.28 1476.05,245.28 1476.89,245.28 1477.72,245.28 1478.56,245.28 1479.39,245.28 1480.23,245.28 1481.07,245.28 1481.9,245.28 1482.74,245.28 1483.57,245.28 1484.41,245.28 1485.24,245.28 1486.08,245.28 1486.92,245.28 1487.75,245.28 1488.59,245.28 1489.42,245.28 1490.26,245.28 1491.1,245.28 1491.93,245.28 1492.77,245.28 1493.6,245.28 1494.44,245.28 1495.27,245.28 1496.11,245.28 1496.95,245.28 1497.78,245.28 1498.62,245.28 1499.45,245.28 1500.29,245.28 1501.12,245.28 1501.96,245.28 1502.8,245.28 1503.63,245.28 1504.47,245.28 1505.3,245.28 1506.14,245.28 1506.97,245.28 1507.81,245.28 1508.65,245.28 1509.48,245.28 1510.32,245.28 1511.15,245.28 1511.99,245.28 1512.82,245.28 1513.66,245.28 1514.5,245.28 1515.33,245.28 1516.17,245.28 1517,245.28 1517.84,245.28 1518.67,245.28 1519.51,245.28 1520.35,245.28 1521.18,245.28 1522.02,245.28 1522.85,245.28 1523.69,245.28 1524.52,245.28 1525.36,245.28 1526.2,245.28 1527.03,245.28 1527.87,245.28 1528.7,245.28 1529.54,245.28 1530.37,245.28 1531.21,245.28 1532.05,245.28 1532.88,245.28 1533.72,245.28 1534.55,245.28 1535.39,245.28 1536.22,245.28 1537.06,245.28 1537.9,245.28 1538.73,245.28 1539.57,245.28 1540.4,245.28 1541.24,245.28 1542.07,245.28 1542.91,245.28 1543.75,245.28 1544.58,245.28 1545.42,245.28 1546.25,245.28 1547.09,245.28 1547.93,245.28 1548.76,245.28 1549.6,261.74 1550.43,294.12 1551.27,312.28 1552.1,326.68 1552.94,338.77 1553.78,349.51 1554.61,359.83 1555.45,369.32 1556.28,377.47 1557.12,383.79 1557.95,387.97 1558.79,391.52 1559.63,394.75 1560.46,397.52 1561.3,399.71 1562.13,401.18 1562.97,401.79 1563.8,401.64 1564.64,401.06 1565.48,400.14 1566.31,398.98 1567.15,397.65 1567.98,396.23 1568.82,394.78 1569.65,393.02 1570.49,390.87 1571.33,388.43 1572.16,385.75 1573,382.93 1573.83,380.02 1574.67,377.12 1575.5,374.26 1576.34,371.28 1577.18,368.18 1578.01,364.97 1578.85,361.66 1579.68,358.28 1580.52,354.83 1581.35,351.35 1582.19,347.84 1583.03,344.33 1583.86,340.83 1584.7,337.36 1585.53,333.94 1586.37,330.58 1587.2,327.14 1588.04,323.61 1588.88,320.02 1589.71,316.41 1590.55,312.79 1591.38,309.2 1592.22,305.67 1593.05,302.23 1593.89,298.9 1594.73,295.72 1595.56,292.72 1596.4,289.91 1597.23,287.34 1598.07,284.9 1598.9,282.55 1599.74,280.28 1600.58,278.09 1601.41,275.98 1602.25,273.95 1603.08,271.98 1603.92,270.08 1604.75,268.24 1605.59,266.46 1606.43,264.74 1607.26,263.07 1608.1,261.45 1608.93,259.86 1609.77,258.28 1610.61,256.74 1611.44,255.22 1612.28,253.75 1613.11,252.32 1613.95,250.95 1614.78,249.63 1615.62,248.38 1616.46,247.19 1617.29,246.09 1618.13,245.07 1618.96,244.13 1619.8,243.26 1620.63,242.4 1621.47,241.57 1622.31,240.78 1623.14,240.02 1623.98,239.29 1624.81,238.6 1625.65,237.95 1626.48,237.35 1627.32,236.8 1628.16,236.29 1628.99,235.84 1629.83,235.44 1630.66,235.08 1631.5,234.71 1632.33,234.35 1633.17,234.01 1634.01,233.67 1634.84,233.36 1635.68,233.08 1636.51,232.82 1637.35,232.6 1638.18,232.41 1639.02,232.27 1639.86,232.18 1640.69,232.15 1641.53,232.15 1642.36,232.18 1643.2,232.22 1644.03,232.28 1644.87,232.36 1645.71,232.44 1646.54,232.54 1647.38,232.64 1648.21,232.75 1649.05,232.86 1649.88,232.98 1650.72,233.1 1651.56,233.21 1652.39,233.33 1653.23,233.47 1654.06,233.61 1654.9,233.78 1655.73,233.95 1656.57,234.13 1657.41,234.33 1658.24,234.54 1659.08,234.75 1659.91,234.97 1660.75,235.2 1661.58,235.43 1662.42,235.66 1663.26,235.9 1664.09,236.14 1664.93,236.38 1665.76,236.63 1666.6,236.87 1667.44,237.11 1668.27,237.34 1669.11,237.57 1669.94,237.8 1670.78,238.02 1671.61,238.23 1672.45,238.44 1673.29,238.63 1674.12,238.82 1674.96,239.01 1675.79,239.2 1676.63,239.39 1677.46,239.59 1678.3,239.78 1679.14,239.98 1679.97,240.17 1680.81,240.37 1681.64,240.56 1682.48,240.75 1683.31,240.94 1684.15,241.13 1684.99,241.31 1685.82,241.49 1686.66,241.67 1687.49,241.83 1688.33,242 1689.16,242.15 1690,242.3 1690.84,242.45 1691.67,242.58 1692.51,242.71 1693.34,242.83 1694.18,242.94 1695.01,243.04 1695.85,243.12 1696.69,243.21 1697.52,243.29 1698.36,243.37 1699.19,243.45 1700.03,243.52 1700.86,243.59 1701.7,243.66 1702.54,243.73 1703.37,243.8 1704.21,243.86 1705.04,243.92 1705.88,243.98 1706.71,244.04 1707.55,244.1 1708.39,244.15 1709.22,244.2 1710.06,244.25 1710.89,244.3 1711.73,244.35 1712.56,244.39 1713.4,244.44 1714.24,244.48 1715.07,244.52 1715.91,244.56 1716.74,244.59 1717.58,244.63 1718.41,244.67 1719.25,244.7 1720.09,244.74 1720.92,244.77 1721.76,244.81 1722.59,244.84 1723.43,244.88 1724.26,244.91 1725.1,244.94 1725.94,244.98 1726.77,245.01 1727.61,245.04 1728.44,245.07 1729.28,245.1 1730.12,245.12 1730.95,245.15 1731.79,245.17 1732.62,245.19 1733.46,245.21 1734.29,245.23 1735.13,245.24 1735.97,245.26 1736.8,245.27 1737.64,245.27 1738.47,245.28 1739.31,245.28 1740.14,245.28 1740.98,245.28 1741.82,245.28 1742.65,245.28 1743.49,245.28 1744.32,245.28 1745.16,245.28 1745.99,245.28 1746.83,245.28 1747.67,245.28 1748.5,245.28 1749.34,245.28 1750.17,245.28 1751.01,245.28 1751.84,245.28 1752.68,245.28 1753.52,245.28 1754.35,245.28 1755.19,245.28 1756.02,245.28 1756.86,245.28 1757.69,245.28 1758.53,245.28 1759.37,245.28 1760.2,245.28 1761.04,245.28 1761.87,245.28 1762.71,245.28 1763.54,245.28 1764.38,245.28 1765.22,245.28 1766.05,245.28 1766.89,245.28 1767.72,245.28 1768.56,245.28 1769.39,245.28 1770.23,245.28 1771.07,245.28 1771.9,245.28 1772.74,245.28 1773.57,245.28 1774.41,245.28 1775.24,245.28 1776.08,245.28 1776.92,245.28 1777.75,245.28 1778.59,245.28 1779.42,245.28 1780.26,245.28 1781.09,245.28 1781.93,245.28 1782.77,245.28 1783.6,245.28 1784.44,245.28 1785.27,245.28 1786.11,245.28 1786.95,245.28 1787.78,245.28 1788.62,245.28 1789.45,245.28 1790.29,245.28 1791.12,245.28 1791.96,245.28 1792.8,245.28 1793.63,245.28 1794.47,245.28 1795.3,245.28 1796.14,245.28 1796.97,245.28 1797.81,245.28 1798.65,245.28 1799.48,245.28 1800.32,245.28 1801.15,245.28 1801.99,245.28 1802.82,245.28 1803.66,245.28 1804.5,245.28 1805.33,245.28 1806.17,245.28 1807,245.28 1807.84,245.28 1808.67,245.28 1809.51,245.28 1810.35,245.28 1811.18,245.28 1812.02,245.28 1812.85,245.28 1813.69,245.28 1814.52,245.28 1815.36,245.28 1816.2,245.28 1817.03,245.28" fill="none" stroke="#008000" stroke-width="4.6" stroke-linejoin="round" stroke-linecap="butt" clip-path="url(#c3)"/>
<polyline points="1400,245.28 1400.84,245.28 1401.67,245.28 1402.51,245.28 1403.34,245.28 1404.18,245.28 1405.01,245.28 1405.85,245.28 1406.69,245.28 1407.52,245.28 1408.36,245.28 1409.19,245.28 1410.03,245.28 1410.86,245.28 1411.7,245.28 1412.54,245.28 1413.37,245.28 1414.21,245.28 1415.04,245.28 1415.88,245.28 1416.71,245.28 1417.55,245.28 1418.39,245.28 1419.22,245.28 1420.06,245.28 1420.89,245.28 1421.73,245.28 1422.56,245.28 1423.4,245.28 1424.24,245.28 1425.07,245.28 1425.91,245.28 1426.74,245.28 1427.58,245.28 1428.41,245.28 1429.25,245.28 1430.09,245.28 1430.92,245.28 1431.76,245.28 1432.59,245.28 1433.43,245.28 1434.27,245.28 1435.1,245.28 1435.94,245.28 1436.77,245.28 1437.61,245.28 1438.44,245.28 1439.28,245.28 1440.12,245.28 1440.95,245.28 1441.79,245.28 1442.62,245.28 1443.46,245.28 1444.29,245.28 1445.13,245.28 1445.97,245.28 1446.8,245.28 1447.64,245.28 1448.47,245.28 1449.31,245.28 1450.14,245.28 1450.98,245.28 1451.82,245.28 1452.65,245.28 1453.49,245.28 1454.32,245.28 1455.16,245.28 1455.99,245.28 1456.83,245.28 1457.67,245.28 1458.5,245.28 1459.34,245.28 1460.17,245.28 1461.01,245.28 1461.84,245.28 1462.68,245.28 1463.52,245.28 1464.35,245.28 1465.19,245.28 1466.02,245.28 1466.86,245.28 1467.69,245.28 1468.53,245.28 1469.37,245.28 1470.2,245.28 1471.04,245.28 1471.87,245.28 1472.71,245.28 1473.54,245.28 1474.38,245.28 1475.22,245.28 1476.05,245.28 1476.89,245.28 1477.72,245.28 1478.56,245.28 1479.39,245.28 1480.23,245.28 1481.07,245.28 1481.9,245.28 1482.74,245.28 1483.57,245.28 1484.41,245.28 1485.24,245.28 1486.08,245.28 1486.92,245.28 1487.75,245.28 1488.59,245.28 1489.42,245.28 1490.26,245.28 1491.1,245.28 1491.93,245.28 1492.77,245.28 1493.6,245.28 1494.44,245.28 1495.27,245.28 1496.11,245.28 1496.95,245.28 1497.78,245.28 1498.62,245.28 1499.45,245.28 1500.29,245.28 1501.12,245.28 1501.96,245.28 1502.8,245.28 1503.63,245.28 1504.47,245.28 1505.3,245.28 1506.14,245.28 1506.97,245.28 1507.81,245.28 1508.65,245.28 1509.48,245.28 1510.32,245.28 1511.15,245.28 1511.99,245.28 1512.82,245.28 1513.66,245.28 1514.5,245.28 1515.33,245.28 1516.17,245.28 1517,245.28 1517.84,245.28 1518.67,245.28 1519.51,245.28 1520.35,245.28 1521.18,245.28 1522.02,245.28 1522.85,245.28 1523.69,245.28 1524.52,245.28 1525.36,245.28 1526.2,245.28 1527.03,245.28 1527.87,245.28 1528.7,245.28 1529.54,245.28 1530.37,245.28 1531.21,245.28 1532.05,245.28 1532.88,245.28 1533.72,245.28 1534.55,245.28 1535.39,245.28 1536.22,245.28 1537.06,245.28 1537.9,245.28 1538.73,245.28 1539.57,245.28 1540.4,245.28 1541.24,245.28 1542.07,245.28 1542.91,245.28 1543.75,249.15 1544.58,267.77 1545.42,282.52 1546.25,294.93 1547.09,301.8 1547.93,307.12 1548.76,311.61 1549.6,315 1550.43,317.04 1551.27,317.51 1552.1,317.25 1552.94,316.72 1553.78,315.99 1554.61,315.13 1555.45,314.22 1556.28,313.02 1557.12,311.36 1557.95,309.36 1558.79,307.15 1559.63,304.85 1560.46,302.59 1561.3,300.47 1562.13,298.64 1562.97,296.94 1563.8,295.28 1564.64,293.64 1565.48,292.04 1566.31,290.48 1567.15,288.94 1567.98,287.44 1568.82,285.97 1569.65,284.53 1570.49,283.13 1571.33,281.76 1572.16,280.43 1573,279.13 1573.83,277.85 1574.67,276.59 1575.5,275.34 1576.34,274.11 1577.18,272.91 1578.01,271.72 1578.85,270.56 1579.68,269.42 1580.52,268.31 1581.35,267.22 1582.19,266.17 1583.03,265.14 1583.86,264.15 1584.7,263.2 1585.53,262.28 1586.37,261.39 1587.2,260.53 1588.04,259.68 1588.88,258.85 1589.71,258.03 1590.55,257.23 1591.38,256.44 1592.22,255.68 1593.05,254.93 1593.89,254.2 1594.73,253.49 1595.56,252.8 1596.4,252.13 1597.23,251.48 1598.07,250.85 1598.9,250.24 1599.74,249.66 1600.58,249.1 1601.41,248.56 1602.25,248.03 1603.08,247.49 1603.92,246.96 1604.75,246.43 1605.59,245.9 1606.43,245.38 1607.26,244.88 1608.1,244.39 1608.93,243.91 1609.77,243.46 1610.61,243.03 1611.44,242.63 1612.28,242.26 1613.11,241.92 1613.95,241.62 1614.78,241.35 1615.62,241.13 1616.46,240.95 1617.29,240.81 1618.13,240.67 1618.96,240.54 1619.8,240.41 1620.63,240.29 1621.47,240.18 1622.31,240.06 1623.14,239.96 1623.98,239.86 1624.81,239.77 1625.65,239.69 1626.48,239.61 1627.32,239.55 1628.16,239.49 1628.99,239.45 1629.83,239.41 1630.66,239.39 1631.5,239.37 1632.33,239.37 1633.17,239.38 1634.01,239.4 1634.84,239.42 1635.68,239.46 1636.51,239.5 1637.35,239.55 1638.18,239.61 1639.02,239.67 1639.86,239.74 1640.69,239.81 1641.53,239.89 1642.36,239.97 1643.2,240.05 1644.03,240.13 1644.87,240.22 1645.71,240.31 1646.54,240.39 1647.38,240.48 1648.21,240.57 1649.05,240.65 1649.88,240.73 1650.72,240.81 1651.56,240.88 1652.39,240.96 1653.23,241.04 1654.06,241.12 1654.9,241.2 1655.73,241.28 1656.57,241.37 1657.41,241.46 1658.24,241.56 1659.08,241.65 1659.91,241.75 1660.75,241.84 1661.58,241.94 1662.42,242.04 1663.26,242.14 1664.09,242.24 1664.93,242.34 1665.76,242.44 1666.6,242.54 1667.44,242.64 1668.27,242.74 1669.11,242.84 1669.94,242.94 1670.78,243.03 1671.61,243.13 1672.45,243.22 1673.29,243.31 1674.12,243.39 1674.96,243.48 1675.79,243.56 1676.63,243.64 1677.46,243.71 1678.3,243.79 1679.14,243.85 1679.97,243.92 1680.81,243.98 1681.64,244.03 1682.48,244.08 1683.31,244.13 1684.15,244.17 1684.99,244.2 1685.82,244.24 1686.66,244.27 1687.49,244.3 1688.33,244.34 1689.16,244.37 1690,244.4 1690.84,244.44 1691.67,244.47 1692.51,244.5 1693.34,244.53 1694.18,244.56 1695.01,244.59 1695.85,244.62 1696.69,244.65 1697.52,244.68 1698.36,244.71 1699.19,244.74 1700.03,244.76 1700.86,244.79 1701.7,244.82 1702.54,244.84 1703.37,244.87 1704.21,244.89 1705.04,244.92 1705.88,244.94 1706.71,244.96 1707.55,244.99 1708.39,245.01 1709.22,245.03 1710.06,245.05 1710.89,245.07 1711.73,245.09 1712.56,245.11 1713.4,245.12 1714.24,245.14 1715.07,245.15 1715.91,245.17 1716.74,245.18 1717.58,245.2 1718.41,245.21 1719.25,245.22 1720.09,245.23 1720.92,245.24 1721.76,245.25 1722.59,245.26 1723.43,245.26 1724.26,245.27 1725.1,245.27 1725.94,245.28 1726.77,245.28 1727.61,245.28 1728.44,245.28 1729.28,245.28 1730.12,245.28 1730.95,245.28 1731.79,245.28 1732.62,245.28 1733.46,245.28 1734.29,245.28 1735.13,245.28 1735.97,245.28 1736.8,245.28 1737.64,245.28 1738.47,245.28 1739.31,245.28 1740.14,245.28 1740.98,245.28 1741.82,245.28 1742.65,245.28 1743.49,245.28 1744.32,245.28 1745.16,245.28 1745.99,245.28 1746.83,245.28 1747.67,245.28 1748.5,245.28 1749.34,245.28 1750.17,245.28 1751.01,245.28 1751.84,245.28 1752.68,245.28 1753.52,245.28 1754.35,245.28 1755.19,245.28 1756.02,245.28 1756.86,245.28 1757.69,245.28 1758.53,245.28 1759.37,245.28 1760.2,245.28 1761.04,245.28 1761.87,245.28 1762.71,245.28 1763.54,245.28 1764.38,245.28 1765.22,245.28 1766.05,245.28 1766.89,245.28 1767.72,245.28 1768.56,245.28 1769.39,245.28 1770.23,245.28 1771.07,245.28 1771.9,245.28 1772.74,245.28 1773.57,245.28 1774.41,245.28 1775.24,245.28 1776.08,245.28 1776.92,245.28 1777.75,245.28 1778.59,245.28 1779.42,245.28 1780.26,245.28 1781.09,245.28 1781.93,245.28 1782.77,245.28 1783.6,245.28 1784.44,245.28 1785.27,245.28 1786.11,245.28 1786.95,245.28 1787.78,245.28 1788.62,245.28 1789.45,245.28 1790.29,245.28 1791.12,245.28 1791.96,245.28 1792.8,245.28 1793.63,245.28 1794.47,245.28 1795.3,245.28 1796.14,245.28 1796.97,245.28 1797.81,245.28 1798.65,245.28 1799.48,245.28 1800.32,245.28 1801.15,245.28 1801.99,245.28 1802.82,245.28 1803.66,245.28 1804.5,245.28 1805.33,245.28 1806.17,245.28 1807,245.28 1807.84,245.28 1808.67,245.28 1809.51,245.28 1810.35,245.28 1811.18,245.28 1812.02,245.28 1812.85,245.28 1813.69,245.28 1814.52,245.28 1815.36,245.28 1816.2,245.28 1817.03,245.28" fill="none" stroke="#ff0000" stroke-width="4.6" stroke-linejoin="round" stroke-linecap="butt" clip-path="url(#c3)"/>
<polyline points="1400,245.28 1400.84,245.28 1401.67,245.28 1402.51,245.28 1403.34,245.28 1404.18,245.28 1405.01,245.28 1405.85,245.28 1406.69,245.28 1407.52,245.28 1408.36,245.28 1409.19,245.28 1410.03,245.28 1410.86,245.28 1411.7,245.28 1412.54,245.28 1413.37,245.28 1414.21,245.28 1415.04,245.28 1415.88,245.28 1416.71,245.28 1417.55,245.28 1418.39,245.28 1419.22,245.28 1420.06,245.28 1420.89,245.28 1421.73,245.28 1422.56,245.28 1423.4,245.28 1424.24,245.28 1425.07,245.28 1425.91,245.28 1426.74,245.28 1427.58,245.28 1428.41,245.28 1429.25,245.28 1430.09,245.28 1430.92,245.28 1431.76,245.28 1432.59,245.28 1433.43,245.28 1434.27,245.28 1435.1,245.28 1435.94,245.28 1436.77,245.28 1437.61,245.28 1438.44,245.28 1439.28,245.28 1440.12,245.28 1440.95,245.28 1441.79,245.28 1442.62,245.28 1443.46,245.28 1444.29,245.28 1445.13,245.28 1445.97,245.28 1446.8,245.28 1447.64,245.28 1448.47,245.28 1449.31,245.28 1450.14,245.28 1450.98,245.28 1451.82,245.28 1452.65,245.28 1453.49,245.28 1454.32,245.28 1455.16,245.28 1455.99,245.28 1456.83,245.28 1457.67,245.28 1458.5,245.28 1459.34,245.28 1460.17,245.28 1461.01,245.28 1461.84,245.28 1462.68,245.28 1463.52,245.28 1464.35,245.28 1465.19,245.28 1466.02,245.28 1466.86,245.28 1467.69,245.28 1468.53,245.28 1469.37,245.28 1470.2,245.28 1471.04,245.28 1471.87,245.28 1472.71,245.28 1473.54,245.28 1474.38,245.28 1475.22,245.28 1476.05,245.28 1476.89,245.28 1477.72,245.28 1478.56,245.28 1479.39,245.28 1480.23,245.28 1481.07,245.28 1481.9,245.28 1482.74,245.28 1483.57,245.28 1484.41,245.28 1485.24,245.28 1486.08,245.28 1486.92,245.28 1487.75,245.28 1488.59,245.28 1489.42,245.28 1490.26,245.28 1491.1,245.28 1491.93,245.28 1492.77,245.28 1493.6,245.28 1494.44,245.28 1495.27,245.28 1496.11,245.28 1496.95,245.28 1497.78,245.28 1498.62,245.28 1499.45,245.28 1500.29,245.28 1501.12,245.28 1501.96,245.28 1502.8,245.28 1503.63,245.28 1504.47,245.28 1505.3,245.28 1506.14,245.28 1506.97,245.28 1507.81,245.28 1508.65,245.28 1509.48,245.28 1510.32,245.28 1511.15,245.28 1511.99,245.28 1512.82,245.28 1513.66,245.28 1514.5,245.28 1515.33,245.28 1516.17,245.28 1517,245.28 1517.84,245.28 1518.67,245.28 1519.51,245.28 1520.35,245.28 1521.18,245.28 1522.02,245.28 1522.85,245.28 1523.69,245.28 1524.52,245.28 1525.36,245.28 1526.2,245.28 1527.03,245.28 1527.87,245.28 1528.7,245.28 1529.54,245.28 1530.37,245.28 1531.21,245.28 1532.05,245.28 1532.88,245.28 1533.72,245.28 1534.55,245.28 1535.39,245.28 1536.22,245.28 1537.06,245.28 1537.9,245.28 1538.73,245.28 1539.57,245.28 1540.4,245.28 1541.24,245.28 1542.07,245.28 1542.91,245.28 1543.75,245.28 1544.58,245.28 1545.42,245.28 1546.25,245.28 1547.09,245.28 1547.93,245.28 1548.76,245.28 1549.6,245.85 1550.43,247.59 1551.27,250.06 1552.1,252.81 1552.94,256.33 1553.78,261.07 1554.61,266.11 1555.45,270.54 1556.28,274.52 1557.12,278.56 1557.95,282.31 1558.79,285.45 1559.63,287.65 1560.46,288.99 1561.3,290.18 1562.13,291.18 1562.97,291.91 1563.8,292.3 1564.64,292.3 1565.48,292 1566.31,291.46 1567.15,290.74 1567.98,289.9 1568.82,288.98 1569.65,288.04 1570.49,287.14 1571.33,286.28 1572.16,285.34 1573,284.33 1573.83,283.25 1574.67,282.13 1575.5,280.97 1576.34,279.79 1577.18,278.61 1578.01,277.43 1578.85,276.27 1579.68,275.14 1580.52,274.06 1581.35,273.04 1582.19,272.09 1583.03,271.15 1583.86,270.24 1584.7,269.33 1585.53,268.44 1586.37,267.57 1587.2,266.71 1588.04,265.86 1588.88,265.02 1589.71,264.19 1590.55,263.38 1591.38,262.57 1592.22,261.77 1593.05,260.98 1593.89,260.2 1594.73,259.42 1595.56,258.65 1596.4,257.89 1597.23,257.13 1598.07,256.35 1598.9,255.56 1599.74,254.76 1600.58,253.96 1601.41,253.16 1602.25,252.36 1603.08,251.58 1603.92,250.82 1604.75,250.09 1605.59,249.38 1606.43,248.72 1607.26,248.1 1608.1,247.53 1608.93,247.01 1609.77,246.56 1610.61,246.17 1611.44,245.78 1612.28,245.4 1613.11,245.02 1613.95,244.65 1614.78,244.28 1615.62,243.93 1616.46,243.59 1617.29,243.27 1618.13,242.97 1618.96,242.7 1619.8,242.44 1620.63,242.22 1621.47,242.02 1622.31,241.85 1623.14,241.72 1623.98,241.63 1624.81,241.57 1625.65,241.56 1626.48,241.56 1627.32,241.56 1628.16,241.56 1628.99,241.56 1629.83,241.56 1630.66,241.56 1631.5,241.56 1632.33,241.56 1633.17,241.56 1634.01,241.56 1634.84,241.56 1635.68,241.56 1636.51,241.56 1637.35,241.56 1638.18,241.56 1639.02,241.56 1639.86,241.56 1640.69,241.56 1641.53,241.56 1642.36,241.57 1643.2,241.6 1644.03,241.63 1644.87,241.66 1645.71,241.71 1646.54,241.76 1647.38,241.81 1648.21,241.87 1649.05,241.94 1649.88,242.01 1650.72,242.08 1651.56,242.15 1652.39,242.23 1653.23,242.31 1654.06,242.38 1654.9,242.46 1655.73,242.54 1656.57,242.62 1657.41,242.69 1658.24,242.77 1659.08,242.84 1659.91,242.9 1660.75,242.97 1661.58,243.02 1662.42,243.08 1663.26,243.12 1664.09,243.17 1664.93,243.22 1665.76,243.26 1666.6,243.31 1667.44,243.36 1668.27,243.4 1669.11,243.45 1669.94,243.5 1670.78,243.54 1671.61,243.59 1672.45,243.63 1673.29,243.68 1674.12,243.72 1674.96,243.77 1675.79,243.81 1676.63,243.85 1677.46,243.89 1678.3,243.94 1679.14,243.98 1679.97,244.02 1680.81,244.06 1681.64,244.1 1682.48,244.13 1683.31,244.17 1684.15,244.21 1684.99,244.25 1685.82,244.28 1686.66,244.32 1687.49,244.35 1688.33,244.38 1689.16,244.41 1690,244.44 1690.84,244.47 1691.67,244.5 1692.51,244.53 1693.34,244.56 1694.18,244.58 1695.01,244.61 1695.85,244.63 1696.69,244.66 1697.52,244.68 1698.36,244.7 1699.19,244.73 1700.03,244.75 1700.86,244.77 1701.7,244.8 1702.54,244.82 1703.37,244.85 1704.21,244.87 1705.04,244.89 1705.88,244.91 1706.71,244.94 1707.55,244.96 1708.39,244.98 1709.22,245 1710.06,245.02 1710.89,245.04 1711.73,245.06 1712.56,245.08 1713.4,245.1 1714.24,245.12 1715.07,245.13 1715.91,245.15 1716.74,245.17 1717.58,245.18 1718.41,245.19 1719.25,245.21 1720.09,245.22 1720.92,245.23 1721.76,245.24 1722.59,245.25 1723.43,245.26 1724.26,245.26 1725.1,245.27 1725.94,245.27 1726.77,245.28 1727.61,245.28 1728.44,245.28 1729.28,245.28 1730.12,245.28 1730.95,245.28 1731.79,245.28 1732.62,245.28 1733.46,245.28 1734.29,245.28 1735.13,245.28 1735.97,245.28 1736.8,245.28 1737.64,245.28 1738.47,245.28 1739.31,245.28 1740.14,245.28 1740.98,245.28 1741.82,245.28 1742.65,245.28 1743.49,245.28 1744.32,245.28 1745.16,245.28 1745.99,245.28 1746.83,245.28 1747.67,245.28 1748.5,245.28 1749.34,245.28 1750.17,245.28 1751.01,245.28 1751.84,245.28 1752.68,245.28 1753.52,245.28 1754.35,245.28 1755.19,245.28 1756.02,245.28 1756.86,245.28 1757.69,245.28 1758.53,245.28 1759.37,245.28 1760.2,245.28 1761.04,245.28 1761.87,245.28 1762.71,245.28 1763.54,245.28 1764.38,245.28 1765.22,245.28 1766.05,245.28 1766.89,245.28 1767.72,245.28 1768.56,245.28 1769.39,245.28 1770.23,245.28 1771.07,245.28 1771.9,245.28 1772.74,245.28 1773.57,245.28 1774.41,245.28 1775.24,245.28 1776.08,245.28 1776.92,245.28 1777.75,245.28 1778.59,245.28 1779.42,245.28 1780.26,245.28 1781.09,245.28 1781.93,245.28 1782.77,245.28 1783.6,245.28 1784.44,245.28 1785.27,245.28 1786.11,245.28 1786.95,245.28 1787.78,245.28 1788.62,245.28 1789.45,245.28 1790.29,245.28 1791.12,245.28 1791.96,245.28 1792.8,245.28 1793.63,245.28 1794.47,245.28 1795.3,245.28 1796.14,245.28 1796.97,245.28 1797.81,245.28 1798.65,245.28 1799.48,245.28 1800.32,245.28 1801.15,245.28 1801.99,245.28 1802.82,245.28 1803.66,245.28 1804.5,245.28 1805.33,245.28 1806.17,245.28 1807,245.28 1807.84,245.28 1808.67,245.28 1809.51,245.28 1810.35,245.28 1811.18,245.28 1812.02,245.28 1812.85,245.28 1813.69,245.28 1814.52,245.28 1815.36,245.28 1816.2,245.28 1817.03,245.28" fill="none" stroke="#0000ff" stroke-width="4.6" stroke-linejoin="round" stroke-linecap="butt" clip-path="url(#c3)"/>
<line x1="1401.3" y1="459.7" x2="1401.3" y2="450.1" stroke="#000" stroke-width="1.5" stroke-linecap="butt"/>
<line x1="1401.3" y1="81.6" x2="1401.3" y2="91.2" stroke="#000" stroke-width="1.5" stroke-linecap="butt"/>
<line x1="1484.08" y1="459.7" x2="1484.08" y2="450.1" stroke="#000" stroke-width="1.5" stroke-linecap="butt"/>
<line x1="1484.08" y1="81.6" x2="1484.08" y2="91.2" stroke="#000" stroke-width="1.5" stroke-linecap="butt"/>
<line x1="1566.86" y1="459.7" x2="1566.86" y2="450.1" stroke="#000" stroke-width="1.5" stroke-linecap="butt"/>
<line x1="1566.86" y1="81.6" x2="1566.86" y2="91.2" stroke="#000" stroke-width="1.5" stroke-linecap="butt"/>
<line x1="1649.64" y1="459.7" x2="1649.64" y2="450.1" stroke="#000" stroke-width="1.5" stroke-linecap="butt"/>
<line x1="1649.64" y1="81.6" x2="1649.64" y2="91.2" stroke="#000" stroke-width="1.5" stroke-linecap="butt"/>
<line x1="1732.42" y1="459.7" x2="1732.42" y2="450.1" stroke="#000" stroke-width="1.5" stroke-linecap="butt"/>
<line x1="1732.42" y1="81.6" x2="1732.42" y2="91.2" stroke="#000" stroke-width="1.5" stroke-linecap="butt"/>
<line x1="1815.2" y1="459.7" x2="1815.2" y2="450.1" stroke="#000" stroke-width="1.5" stroke-linecap="butt"/>
<line x1="1815.2" y1="81.6" x2="1815.2" y2="91.2" stroke="#000" stroke-width="1.5" stroke-linecap="butt"/>
<line x1="1388.7" y1="125.5" x2="1398.3" y2="125.5" stroke="#000" stroke-width="1.5" stroke-linecap="butt"/>
<line x1="1832.3" y1="125.5" x2="1822.7" y2="125.5" stroke="#000" stroke-width="1.5" stroke-linecap="butt"/>
<line x1="1388.7" y1="184.34" x2="1398.3" y2="184.34" stroke="#000" stroke-width="1.5" stroke-linecap="butt"/>
<line x1="1832.3" y1="184.34" x2="1822.7" y2="184.34" stroke="#000" stroke-width="1.5" stroke-linecap="butt"/>
<line x1="1388.7" y1="243.18" x2="1398.3" y2="243.18" stroke="#000" stroke-width="1.5" stroke-linecap="butt"/>
<line x1="1832.3" y1="243.18" x2="1822.7" y2="243.18" stroke="#000" stroke-width="1.5" stroke-linecap="butt"/>
<line x1="1388.7" y1="302.02" x2="1398.3" y2="302.02" stroke="#000" stroke-width="1.5" stroke-linecap="butt"/>
<line x1="1832.3" y1="302.02" x2="1822.7" y2="302.02" stroke="#000" stroke-width="1.5" stroke-linecap="butt"/>
<line x1="1388.7" y1="360.86" x2="1398.3" y2="360.86" stroke="#000" stroke-width="1.5" stroke-linecap="butt"/>
<line x1="1832.3" y1="360.86" x2="1822.7" y2="360.86" stroke="#000" stroke-width="1.5" stroke-linecap="butt"/>
<line x1="1388.7" y1="419.7" x2="1398.3" y2="419.7" stroke="#000" stroke-width="1.5" stroke-linecap="butt"/>
<line x1="1832.3" y1="419.7" x2="1822.7" y2="419.7" stroke="#000" stroke-width="1.5" stroke-linecap="butt"/>
<rect x="1388.7" y="81.6" width="443.6" height="378.1" fill="none" stroke="#000" stroke-width="2.2"/>
<text x="1404" y="498.7" font-size="38.8" text-anchor="middle">0</text>
<text x="1486.78" y="498.7" font-size="38.8" text-anchor="middle">60</text>
<text x="1569.56" y="498.7" font-size="38.8" text-anchor="middle">120</text>
<text x="1652.34" y="498.7" font-size="38.8" text-anchor="middle">180</text>
<text x="1735.12" y="498.7" font-size="38.8" text-anchor="middle">240</text>
<text x="1817.9" y="498.7" font-size="38.8" text-anchor="middle">300</text>
<text x="1387" y="140.84" font-size="38.8" text-anchor="end">−56</text>
<text x="1387" y="199.68" font-size="38.8" text-anchor="end">−58</text>
<text x="1387" y="258.52" font-size="38.8" text-anchor="end">−60</text>
<text x="1387" y="317.36" font-size="38.8" text-anchor="end">−62</text>
<text x="1387" y="376.2" font-size="38.8" text-anchor="end">−64</text>
<text x="1387" y="435.04" font-size="38.8" text-anchor="end">−66</text>
<text x="1612.02" y="540.7" font-size="38.8" text-anchor="middle">Time (ms)</text>
<text x="1292.5" y="261.04" font-size="38.8" text-anchor="middle" transform="rotate(-90 1292.5 261.04)">PSP amplitude (mV)</text>
<text x="1460.68" y="144.9" font-size="43.2">ref</text>
<text x="1517.93" y="121.6" font-size="34.5">STN</text>
<text x="1625.28" y="323.4" font-size="43.2" fill="#0000ff">ref</text>
<text x="1683.61" y="295.9" font-size="34.5" fill="#0000ff">MSN</text>
<text x="1764.57" y="305.9" font-size="25.5" fill="#0000ff" style="font-family:'Liberation Serif', 'DejaVu Serif', serif">D1</text>
<text x="1682.93" y="341.7" font-size="30.5" fill="#0000ff">init</text>
<text x="1406.48" y="418.4" font-size="43.2" fill="#ff0000">ref</text>
<text x="1465.46" y="394.4" font-size="34.5" fill="#ff0000">GPe</text>
<text x="1464.73" y="432.4" font-size="35" fill="#ff0000" style="font-family:'Liberation Serif', 'DejaVu Serif', serif">30</text>
<text x="1500.23" y="432.4" font-size="33.5" fill="#ff0000">Hz</text>
<text x="1586.88" y="417.1" font-size="43.2" fill="#008000">ref</text>
<text x="1644.91" y="392.6" font-size="34.5" fill="#008000">MSN</text>
<text x="1725.67" y="402.8" font-size="25.5" fill="#008000" style="font-family:'Liberation Serif', 'DejaVu Serif', serif">D1</text>
<text x="1645.03" y="430.1" font-size="30.5" fill="#008000">max</text>
<clipPath id="c4"><rect x="2005.2" y="82.6" width="443.5" height="378"/></clipPath>
<polyline points="2024.89,364.53 2026.2,358.76 2027.52,353.06 2028.83,347.43 2030.14,341.86 2031.45,336.37 2032.76,330.92 2034.07,325.46 2035.39,320.04 2036.7,314.72 2038.01,309.57 2039.32,304.65 2040.63,299.98 2041.94,295.45 2043.26,291.06 2044.57,286.8 2045.88,282.66 2047.19,278.63 2048.5,274.72 2049.81,270.91 2051.13,267.21 2052.44,263.62 2053.75,260.12 2055.06,256.71 2056.37,253.38 2057.68,250.12 2059,246.94 2060.31,243.81 2061.62,240.74 2062.93,237.72 2064.24,234.77 2065.55,231.89 2066.86,229.08 2068.18,226.35 2069.49,223.71 2070.8,221.12 2072.11,218.58 2073.42,216.08 2074.73,213.66 2076.05,211.32 2077.36,209.08 2078.67,206.95 2079.98,204.95 2081.29,203.01 2082.6,201.12 2083.92,199.31 2085.23,197.58 2086.54,195.95 2087.85,194.42 2089.16,193.03 2090.47,191.74 2091.79,190.5 2093.1,189.32 2094.41,188.21 2095.72,187.18 2097.03,186.24 2098.34,185.4 2099.66,184.66 2100.97,183.94 2102.28,183.22 2103.59,182.53 2104.9,181.91 2106.21,181.4 2107.53,181.04 2108.84,180.86 2110.15,180.86 2111.46,180.89 2112.77,180.94 2114.08,181.02 2115.4,181.11 2116.71,181.22 2118.02,181.33 2119.33,181.46 2120.64,181.62 2121.95,181.86 2123.26,182.14 2124.58,182.47 2125.89,182.84 2127.2,183.23 2128.51,183.63 2129.82,184.05 2131.13,184.51 2132.45,185.02 2133.76,185.57 2135.07,186.16 2136.38,186.79 2137.69,187.45 2139,188.13 2140.32,188.83 2141.63,189.56 2142.94,190.29 2144.25,191.04 2145.56,191.79 2146.87,192.55 2148.19,193.3 2149.5,194.04 2150.81,194.81 2152.12,195.6 2153.43,196.41 2154.74,197.24 2156.06,198.09 2157.37,198.96 2158.68,199.83 2159.99,200.72 2161.3,201.6 2162.61,202.49 2163.93,203.38 2165.24,204.27 2166.55,205.14 2167.86,206.01 2169.17,206.87 2170.48,207.72 2171.79,208.57 2173.11,209.41 2174.42,210.25 2175.73,211.09 2177.04,211.94 2178.35,212.78 2179.66,213.62 2180.98,214.47 2182.29,215.32 2183.6,216.18 2184.91,217.04 2186.22,217.91 2187.53,218.78 2188.85,219.66 2190.16,220.55 2191.47,221.46 2192.78,222.37 2194.09,223.29 2195.4,224.22 2196.72,225.15 2198.03,226.08 2199.34,227.02 2200.65,227.95 2201.96,228.88 2203.27,229.81 2204.59,230.73 2205.9,231.64 2207.21,232.55 2208.52,233.44 2209.83,234.32 2211.14,235.2 2212.46,236.07 2213.77,236.94 2215.08,237.81 2216.39,238.67 2217.7,239.53 2219.01,240.38 2220.33,241.23 2221.64,242.08 2222.95,242.92 2224.26,243.75 2225.57,244.58 2226.88,245.41 2228.19,246.23 2229.51,247.05 2230.82,247.86 2232.13,248.67 2233.44,249.48 2234.75,250.28 2236.06,251.08 2237.38,251.87 2238.69,252.66 2240,253.44 2241.31,254.22 2242.62,255 2243.93,255.77 2245.25,256.54 2246.56,257.3 2247.87,258.05 2249.18,258.81 2250.49,259.55 2251.8,260.3 2253.12,261.04 2254.43,261.78 2255.74,262.51 2257.05,263.24 2258.36,263.96 2259.67,264.68 2260.99,265.39 2262.3,266.1 2263.61,266.81 2264.92,267.51 2266.23,268.21 2267.54,268.9 2268.86,269.59 2270.17,270.27 2271.48,270.95 2272.79,271.62 2274.1,272.3 2275.41,272.96 2276.73,273.63 2278.04,274.29 2279.35,274.94 2280.66,275.59 2281.97,276.24 2283.28,276.88 2284.59,277.51 2285.91,278.14 2287.22,278.77 2288.53,279.39 2289.84,280.01 2291.15,280.61 2292.46,281.22 2293.78,281.81 2295.09,282.4 2296.4,282.99 2297.71,283.57 2299.02,284.15 2300.33,284.74 2301.65,285.32 2302.96,285.9 2304.27,286.48 2305.58,287.06 2306.89,287.65 2308.2,288.23 2309.52,288.83 2310.83,289.43 2312.14,290.02 2313.45,290.63 2314.76,291.23 2316.07,291.83 2317.39,292.43 2318.7,293.03 2320.01,293.62 2321.32,294.21 2322.63,294.8 2323.94,295.38 2325.26,295.96 2326.57,296.52 2327.88,297.08 2329.19,297.64 2330.5,298.19 2331.81,298.73 2333.13,299.27 2334.44,299.81 2335.75,300.35 2337.06,300.88 2338.37,301.4 2339.68,301.92 2340.99,302.44 2342.31,302.95 2343.62,303.46 2344.93,303.96 2346.24,304.46 2347.55,304.95 2348.86,305.44 2350.18,305.92 2351.49,306.4 2352.8,306.88 2354.11,307.35 2355.42,307.82 2356.73,308.29 2358.05,308.75 2359.36,309.2 2360.67,309.66 2361.98,310.1 2363.29,310.55 2364.6,310.98 2365.92,311.41 2367.23,311.84 2368.54,312.26 2369.85,312.69 2371.16,313.1 2372.47,313.52 2373.79,313.93 2375.1,314.34 2376.41,314.74 2377.72,315.14 2379.03,315.53 2380.34,315.92 2381.66,316.3 2382.97,316.68 2384.28,317.05 2385.59,317.41 2386.9,317.76 2388.21,318.11 2389.52,318.45 2390.84,318.79 2392.15,319.13 2393.46,319.47 2394.77,319.8 2396.08,320.13 2397.39,320.45 2398.71,320.77 2400.02,321.09 2401.33,321.4 2402.64,321.71 2403.95,322.02 2405.26,322.32 2406.58,322.62 2407.89,322.91 2409.2,323.2 2410.51,323.48 2411.82,323.76 2413.13,324.03 2414.45,324.3 2415.76,324.56 2417.07,324.81" fill="none" stroke="#bf00bf" stroke-width="4.6" stroke-linejoin="round" stroke-linecap="butt" clip-path="url(#c4)"/>
<line x1="2025.45" y1="179.39" x2="2415.44" y2="179.39" stroke="#008000" stroke-width="4.6" stroke-linecap="butt" stroke-dasharray="14.5,14.5"/>
<line x1="2025.45" y1="379.16" x2="2415.44" y2="379.16" stroke="#0000ff" stroke-width="4.6" stroke-linecap="butt" stroke-dasharray="14.5,14.5"/>
<line x1="2018" y1="460.6" x2="2018" y2="451" stroke="#000" stroke-width="1.5" stroke-linecap="butt"/>
<line x1="2018" y1="82.6" x2="2018" y2="92.2" stroke="#000" stroke-width="1.5" stroke-linecap="butt"/>
<line x1="2100.8" y1="460.6" x2="2100.8" y2="451" stroke="#000" stroke-width="1.5" stroke-linecap="butt"/>
<line x1="2100.8" y1="82.6" x2="2100.8" y2="92.2" stroke="#000" stroke-width="1.5" stroke-linecap="butt"/>
<line x1="2183.6" y1="460.6" x2="2183.6" y2="451" stroke="#000" stroke-width="1.5" stroke-linecap="butt"/>
<line x1="2183.6" y1="82.6" x2="2183.6" y2="92.2" stroke="#000" stroke-width="1.5" stroke-linecap="butt"/>
<line x1="2266.4" y1="460.6" x2="2266.4" y2="451" stroke="#000" stroke-width="1.5" stroke-linecap="butt"/>
<line x1="2266.4" y1="82.6" x2="2266.4" y2="92.2" stroke="#000" stroke-width="1.5" stroke-linecap="butt"/>
<line x1="2349.2" y1="460.6" x2="2349.2" y2="451" stroke="#000" stroke-width="1.5" stroke-linecap="butt"/>
<line x1="2349.2" y1="82.6" x2="2349.2" y2="92.2" stroke="#000" stroke-width="1.5" stroke-linecap="butt"/>
<line x1="2432" y1="460.6" x2="2432" y2="451" stroke="#000" stroke-width="1.5" stroke-linecap="butt"/>
<line x1="2432" y1="82.6" x2="2432" y2="92.2" stroke="#000" stroke-width="1.5" stroke-linecap="butt"/>
<line x1="2005.2" y1="450" x2="2014.8" y2="450" stroke="#000" stroke-width="1.5" stroke-linecap="butt"/>
<line x1="2448.7" y1="450" x2="2439.1" y2="450" stroke="#000" stroke-width="1.5" stroke-linecap="butt"/>
<line x1="2005.2" y1="379.16" x2="2014.8" y2="379.16" stroke="#000" stroke-width="1.5" stroke-linecap="butt"/>
<line x1="2448.7" y1="379.16" x2="2439.1" y2="379.16" stroke="#000" stroke-width="1.5" stroke-linecap="butt"/>
<line x1="2005.2" y1="308.32" x2="2014.8" y2="308.32" stroke="#000" stroke-width="1.5" stroke-linecap="butt"/>
<line x1="2448.7" y1="308.32" x2="2439.1" y2="308.32" stroke="#000" stroke-width="1.5" stroke-linecap="butt"/>
<line x1="2005.2" y1="237.48" x2="2014.8" y2="237.48" stroke="#000" stroke-width="1.5" stroke-linecap="butt"/>
<line x1="2448.7" y1="237.48" x2="2439.1" y2="237.48" stroke="#000" stroke-width="1.5" stroke-linecap="butt"/>
<line x1="2005.2" y1="166.64" x2="2014.8" y2="166.64" stroke="#000" stroke-width="1.5" stroke-linecap="butt"/>
<line x1="2448.7" y1="166.64" x2="2439.1" y2="166.64" stroke="#000" stroke-width="1.5" stroke-linecap="butt"/>
<line x1="2005.2" y1="95.8" x2="2014.8" y2="95.8" stroke="#000" stroke-width="1.5" stroke-linecap="butt"/>
<line x1="2448.7" y1="95.8" x2="2439.1" y2="95.8" stroke="#000" stroke-width="1.5" stroke-linecap="butt"/>
<rect x="2005.2" y="82.6" width="443.5" height="378" fill="none" stroke="#000" stroke-width="2.2"/>
<text x="2020.7" y="499.6" font-size="38.8" text-anchor="middle">0</text>
<text x="2103.5" y="499.6" font-size="38.8" text-anchor="middle">10</text>
<text x="2186.3" y="499.6" font-size="38.8" text-anchor="middle">20</text>
<text x="2269.1" y="499.6" font-size="38.8" text-anchor="middle">30</text>
<text x="2351.9" y="499.6" font-size="38.8" text-anchor="middle">40</text>
<text x="2434.7" y="499.6" font-size="38.8" text-anchor="middle">50</text>
<text x="2003.5" y="465.34" font-size="38.8" text-anchor="end">0</text>
<text x="2003.5" y="394.5" font-size="38.8" text-anchor="end">1</text>
<text x="2003.5" y="323.66" font-size="38.8" text-anchor="end">2</text>
<text x="2003.5" y="252.82" font-size="38.8" text-anchor="end">3</text>
<text x="2003.5" y="181.98" font-size="38.8" text-anchor="end">4</text>
<text x="2003.5" y="111.14" font-size="38.8" text-anchor="end">5</text>
<text x="2227.76" y="540.7" font-size="38.8" text-anchor="middle">Firing rate (spikes/s)</text>
<text transform="translate(1949.9,275) rotate(-90)" font-size="31.8" text-anchor="middle">p<tspan font-size="22" dy="10">ss</tspan><tspan dy="-10">/p</tspan><tspan font-size="26" dy="10" style="font-family:'Liberation Serif', 'DejaVu Serif', serif">1</tspan></text>
<text x="2094.18" y="152.1" font-size="43.2" fill="#008000">ref</text>
<text x="2152.21" y="127.6" font-size="34.5" fill="#008000">MSN</text>
<text x="2232.97" y="137.8" font-size="25.5" fill="#008000" style="font-family:'Liberation Serif', 'DejaVu Serif', serif">D1</text>
<text x="2152.33" y="165.1" font-size="30.5" fill="#008000">max</text>
<text x="2255.01" y="244.9" font-size="43.2" fill="#bf00bf">fac</text>
<text x="2320.21" y="221.6" font-size="34.5" fill="#bf00bf">MSN</text>
<text x="2401.27" y="231.2" font-size="25.5" fill="#bf00bf" style="font-family:'Liberation Serif', 'DejaVu Serif', serif">D1</text>
<text x="2057.78" y="349" font-size="43.2" fill="#0000ff">ref</text>
<text x="2116.11" y="321.5" font-size="34.5" fill="#0000ff">MSN</text>
<text x="2197.07" y="331.5" font-size="25.5" fill="#0000ff" style="font-family:'Liberation Serif', 'DejaVu Serif', serif">D1</text>
<text x="2115.43" y="367.3" font-size="30.5" fill="#0000ff">init</text>
<clipPath id="c5"><rect x="144.8" y="625.1" width="442.8" height="83.4"/></clipPath>
<polyline points="157.4,699.12 157.89,698.28 158.37,697.44 158.86,696.6 159.35,695.77 159.83,694.93 160.32,694.09 160.81,693.25 161.29,692.41 161.78,691.57 162.27,690.74 162.75,689.9 163.24,689.06 163.73,688.22 164.21,687.38 164.7,686.54 165.19,685.71 165.19,685.71 165.33,634.87 165.56,639.11 165.81,692.06 166.64,695.85 167.48,698.09 168.31,699.29 169.14,699.8 169.98,699.84 170.81,699.58 171.64,699.11 172.48,698.49 173.31,697.79 174.15,697.03 174.98,696.22 175.81,695.39 176.65,694.53 177.48,693.67 178.32,692.79 179.15,691.91 179.98,691.03 180.82,690.15 181.65,689.26 182.48,688.37 183.32,687.48 184.15,686.59 184.99,685.7 184.99,685.71 185.13,634.87 185.36,639.11 185.61,692.06 186.45,695.89 187.29,698.14 188.14,699.34 188.98,699.85 189.82,699.88 190.66,699.61 191.51,699.13 192.35,698.51 193.19,697.81 194.04,697.04 194.88,696.23 195.72,695.39 196.56,694.54 197.41,693.67 198.25,692.8 199.09,691.92 199.93,691.03 200.78,690.15 201.62,689.26 202.46,688.37 203.31,687.48 204.15,686.59 204.99,685.7 204.99,685.71 205.14,634.87 205.36,639.11 205.61,692.06 206.46,695.89 207.3,698.14 208.14,699.34 208.98,699.85 209.83,699.88 210.67,699.61 211.51,699.13 212.36,698.51 213.2,697.81 214.04,697.04 214.88,696.23 215.73,695.39 216.57,694.54 217.41,693.67 218.25,692.8 219.1,691.92 219.94,691.03 220.78,690.15 221.63,689.26 222.47,688.37 223.31,687.48 224.15,686.59 225,685.7 225,685.71 225.14,634.87 225.37,639.11 225.62,692.06 226.45,695.88 227.28,698.15 228.11,699.39 228.95,699.94 229.78,700.02 230.61,699.79 231.44,699.36 232.27,698.79 233.11,698.12 233.94,697.39 234.77,696.63 235.6,695.83 236.43,695.01 237.26,694.19 238.1,693.35 238.93,692.51 239.76,691.66 240.59,690.81 241.42,689.96 242.26,689.11 243.09,688.26 243.92,687.41 244.75,686.56 245.58,685.71 245.58,685.71 245.73,634.87 245.96,639.11 246.2,692.06 247.05,695.89 247.89,698.14 248.73,699.34 249.58,699.85 250.42,699.88 251.26,699.61 252.1,699.13 252.95,698.51 253.79,697.81 254.63,697.04 255.48,696.23 256.32,695.39 257.16,694.54 258,693.67 258.85,692.8 259.69,691.92 260.53,691.03 261.38,690.15 262.22,689.26 263.06,688.37 263.9,687.48 264.75,686.59 265.59,685.7 265.59,685.71 265.73,634.87 265.96,639.11 266.21,692.06 266.6,693.75 266.98,695.03 267.37,695.98 267.75,696.65 268.14,697.08 268.52,697.32 268.91,697.4 269.29,697.34 269.68,697.18 270.06,696.92 270.93,699.08 271.79,698.99 272.66,698.88 273.52,698.74 274.39,698.56 275.26,698.32 276.12,698.02 276.99,697.67 277.85,697.29 278.72,696.89 279.58,696.47 280.45,696.04 281.31,695.62 282.18,695.18 283.05,694.69 283.91,694.15 284.78,693.56 285.64,692.96 286.51,692.36 287.37,691.77 288.24,691.22 289.1,690.71 289.97,690.27 290.84,689.92 291.7,689.63 292.57,689.38 293.43,689.16 294.3,688.96 295.16,688.77 296.03,688.57 296.9,688.35 297.76,688.11 298.63,687.83 299.49,687.53 300.36,687.2 301.22,686.85 302.09,686.48 302.95,686.1 303.82,685.71 303.82,685.71 303.82,685.71 303.82,685.71 303.82,685.71 303.82,685.71 303.82,685.71 303.82,685.71 303.82,685.71 303.82,685.71 303.82,685.71 303.82,685.71 303.82,685.71 303.82,685.71 303.82,685.71 303.82,685.71 303.82,685.71 303.82,685.71 303.96,634.87 304.19,639.11 304.44,692.06 305.28,695.84 306.12,698.64 306.96,700.66 307.8,702.1 308.63,703.06 309.47,703.67 310.31,704.01 311.15,704.12 311.99,704.07 312.83,703.88 313.66,703.6 314.5,703.23 315.34,702.81 316.18,702.34 317.02,701.83 317.86,701.29 318.7,700.73 319.53,700.15 320.37,699.56 321.21,698.96 322.05,698.35 322.89,697.74 323.73,697.12 324.57,696.49 325.4,695.86 326.24,695.24 327.08,694.6 327.92,693.97 328.76,693.34 329.6,692.7 330.43,692.07 331.27,691.43 332.11,690.8 332.95,690.16 333.79,689.53 334.63,688.89 335.47,688.25 336.3,687.62 337.14,686.98 337.98,686.34 338.82,685.71 338.82,685.71 338.96,634.87 339.19,639.11 339.44,692.06 340.27,695.82 341.1,698.61 341.93,700.64 342.76,702.09 343.59,703.07 344.42,703.7 345.25,704.05 346.08,704.19 346.91,704.16 347.74,704 348.57,703.73 349.41,703.39 350.24,702.98 351.07,702.53 351.9,702.04 352.73,701.52 353.56,700.98 354.39,700.42 355.22,699.84 356.05,699.26 356.88,698.66 357.71,698.07 358.54,697.46 359.37,696.85 360.2,696.24 361.03,695.63 361.86,695.01 362.69,694.4 363.52,693.78 364.35,693.16 365.18,692.54 366.01,691.92 366.84,691.3 367.67,690.68 368.5,690.06 369.33,689.44 370.16,688.81 371,688.19 371.83,687.57 372.66,686.95 373.49,686.33 374.32,685.71 374.32,685.71 374.46,634.87 374.69,639.11 374.94,692.06 375.78,695.88 376.63,698.69 377.47,700.72 378.32,702.16 379.17,703.12 380.01,703.73 380.86,704.06 381.7,704.16 382.55,704.11 383.39,703.92 384.24,703.63 385.08,703.26 385.93,702.83 386.78,702.35 387.62,701.84 388.47,701.3 389.31,700.74 390.16,700.16 391,699.57 391.85,698.97 392.69,698.36 393.54,697.74 394.39,697.12 395.23,696.49 396.08,695.87 396.92,695.24 397.77,694.61 398.61,693.97 399.46,693.34 400.31,692.7 401.15,692.07 402,691.43 402.84,690.8 403.69,690.16 404.53,689.53 405.38,688.89 406.22,688.25 407.07,687.62 407.92,686.98 408.76,686.34 409.61,685.71 409.61,685.71 409.75,634.87 409.98,639.11 410.23,692.06 411.06,695.8 411.88,698.56 412.71,700.58 413.54,702.01 414.37,702.98 415.2,703.59 416.03,703.93 416.85,704.06 417.68,704.01 418.51,703.83 419.34,703.56 420.17,703.2 421,702.78 421.83,702.31 422.65,701.81 423.48,701.27 424.31,700.71 425.14,700.14 425.97,699.55 426.8,698.95 427.62,698.34 428.45,697.73 429.28,697.11 430.11,696.49 430.94,695.86 431.77,695.23 432.59,694.6 433.42,693.97 434.25,693.34 435.08,692.7 435.91,692.07 436.74,691.43 437.56,690.8 438.39,690.16 439.22,689.53 440.05,688.89 440.88,688.25 441.71,687.62 442.54,686.98 443.36,686.34 444.19,685.71 444.19,685.71 444.19,685.71 444.19,685.71 444.19,685.71 444.19,685.71 444.19,685.71 444.19,685.71 444.19,685.71 444.19,685.71 444.19,685.71 444.19,685.71 444.19,685.71 444.19,685.71 444.19,685.71 444.19,685.71 444.19,685.71 444.19,685.71 444.34,634.87 444.56,639.11 444.81,692.06 445.66,695.89 446.5,698.14 447.34,699.34 448.18,699.85 449.03,699.88 449.87,699.61 450.71,699.13 451.56,698.51 452.4,697.81 453.24,697.04 454.08,696.23 454.93,695.39 455.77,694.54 456.61,693.67 457.46,692.8 458.3,691.92 459.14,691.03 459.98,690.15 460.83,689.26 461.67,688.37 462.51,687.48 463.36,686.59 464.2,685.7 464.2,685.71 464.34,634.87 464.57,639.11 464.82,692.06 465.67,695.91 466.51,698.16 467.36,699.37 468.2,699.87 469.05,699.9 469.9,699.62 470.74,699.14 471.59,698.52 472.44,697.81 473.28,697.04 474.13,696.23 474.98,695.39 475.82,694.54 476.67,693.67 477.52,692.8 478.36,691.92 479.21,691.03 480.05,690.15 480.9,689.26 481.75,688.37 482.59,687.48 483.44,686.59 484.29,685.7 484.29,685.71 484.43,634.87 484.66,639.11 484.91,692.06 485.75,695.89 486.59,698.14 487.44,699.34 488.28,699.85 489.12,699.88 489.96,699.61 490.81,699.13 491.65,698.51 492.49,697.81 493.34,697.04 494.18,696.23 495.02,695.39 495.86,694.54 496.71,693.67 497.55,692.8 498.39,691.92 499.24,691.03 500.08,690.15 500.92,689.26 501.76,688.37 502.61,687.48 503.45,686.59 504.29,685.7 504.29,685.71 504.44,634.87 504.67,639.11 504.91,692.06 505.75,695.87 506.59,698.12 507.43,699.32 508.27,699.83 509.11,699.87 509.95,699.6 510.79,699.12 511.63,698.51 512.47,697.8 513.31,697.03 514.15,696.22 514.98,695.39 515.82,694.53 516.66,693.67 517.5,692.8 518.34,691.92 519.18,691.03 520.02,690.15 520.86,689.26 521.7,688.37 522.54,687.48 523.38,686.59 524.22,685.7 524.22,685.71 524.36,634.87 524.59,639.11 524.84,692.06 525.67,695.87 526.51,698.11 527.35,699.31 528.19,699.82 529.02,699.86 529.86,699.59 530.7,699.12 531.54,698.5 532.37,697.8 533.21,697.03 534.05,696.22 534.89,695.39 535.72,694.53 536.56,693.67 537.4,692.79 538.24,691.92 539.07,691.03 539.91,690.15 540.75,689.26 541.58,688.37 542.42,687.48 543.26,686.59 544.1,685.7 544.1,685.71 544.24,634.87 544.47,639.11 544.72,692.06 545.57,695.93 546.42,698.2 547.27,699.4 548.13,699.89 548.98,699.92 549.83,699.64 550.68,699.16 551.53,698.53 552.38,697.82 553.24,697.05 554.09,696.24 554.94,695.4 555.79,694.54 556.64,693.67 557.5,692.8 558.35,691.92 559.2,691.03 560.05,690.15 560.9,689.26 561.75,688.37 562.61,687.48 563.46,686.59 564.31,685.7 564.31,685.71 564.46,634.87 564.68,639.11 564.93,692.06 565.6,694.68 566.27,696.22 566.93,696.99 567.6,697.2 568.27,697 568.93,696.51 569.6,695.8 570.27,694.94 570.93,693.96 571.6,692.91" fill="none" stroke="#000" stroke-width="2.4" stroke-linejoin="round" stroke-linecap="butt" clip-path="url(#c5)"/>
<polyline points="157.4,699.12 157.89,698.28 158.37,697.44 158.86,696.6 159.35,695.77 159.83,694.93 160.32,694.09 160.81,693.25 161.29,692.41 161.78,691.57 162.27,690.74 162.75,689.9 163.24,689.06 163.73,688.22 164.21,687.38 164.7,686.54 165.19,685.71 165.19,685.71 165.33,634.87 165.56,639.11 165.81,692.06 166.64,695.85 167.48,698.09 168.31,699.29 169.14,699.8 169.98,699.84 170.81,699.58 171.64,699.11 172.48,698.49 173.31,697.79 174.15,697.03 174.98,696.22 175.81,695.39 176.65,694.53 177.48,693.67 178.32,692.79 179.15,691.91 179.98,691.03 180.82,690.15 181.65,689.26 182.48,688.37 183.32,687.48 184.15,686.59 184.99,685.7 184.99,685.71 185.13,634.87 185.36,639.11 185.61,692.06 186.45,695.89 187.29,698.14 188.14,699.34 188.98,699.85 189.82,699.88 190.66,699.61 191.51,699.13 192.35,698.51 193.19,697.81 194.04,697.04 194.88,696.23 195.72,695.39 196.56,694.54 197.41,693.67 198.25,692.8 199.09,691.92 199.93,691.03 200.78,690.15 201.62,689.26 202.46,688.37 203.31,687.48 204.15,686.59 204.99,685.7 204.99,685.71 205.14,634.87 205.36,639.11 205.61,692.06 206.46,695.89 207.3,698.14 208.14,699.34 208.98,699.85 209.83,699.88 210.67,699.61 211.51,699.13 212.36,698.51 213.2,697.81 214.04,697.04 214.88,696.23 215.73,695.39 216.57,694.54 217.41,693.67 218.25,692.8 219.1,691.92 219.94,691.03 220.78,690.15 221.63,689.26 222.47,688.37 223.31,687.48 224.15,686.59 225,685.7 225,685.71 225.14,634.87 225.37,639.11 225.62,692.06 226.45,695.88 227.28,698.15 228.11,699.39 228.95,699.94 229.78,700.02 230.61,699.79 231.44,699.36 232.27,698.79 233.11,698.12 233.94,697.39 234.77,696.63 235.6,695.83 236.43,695.01 237.26,694.19 238.1,693.35 238.93,692.51 239.76,691.66 240.59,690.81 241.42,689.96 242.26,689.11 243.09,688.26 243.92,687.41 244.75,686.56 245.58,685.71 245.58,685.71 245.73,634.87 245.96,639.11 246.2,692.06 247.05,695.89 247.89,698.14 248.73,699.34 249.58,699.85 250.42,699.88 251.26,699.61 252.1,699.13 252.95,698.51 253.79,697.81 254.63,697.04 255.48,696.23 256.32,695.39 257.16,694.54 258,693.67 258.85,692.8 259.69,691.92 260.53,691.03 261.38,690.15 262.22,689.26 263.06,688.37 263.9,687.48 264.75,686.59 265.59,685.7 265.59,685.71 265.73,634.87 265.96,639.11 266.21,692.06 266.6,693.75 266.98,695.03 267.37,695.98 267.75,696.65 268.14,697.08 268.52,697.32 268.91,697.4 269.29,697.34 269.68,697.18 270.06,696.92 272.31,698.92 274.55,698.52 276.79,697.74 279.04,696.72 281.28,695.63 283.53,694.43 285.77,692.98 288.01,691.57 290.26,690.47 292.5,689.78 294.75,689.19 296.99,688.79 299.23,688.61 301.48,688.5 303.72,688.43 305.97,688.39 308.21,688.39 310.45,688.39 312.7,688.39 314.94,688.39 317.19,688.39 319.43,688.39 321.67,688.39 323.92,688.39 326.16,688.39 328.41,688.39 330.65,688.39 332.89,688.39 335.14,688.39 337.38,688.39 339.63,688.39 341.87,688.39 344.12,688.39 346.36,688.39 348.6,688.39 350.85,688.39 353.09,688.39 355.34,688.39 357.58,688.39 359.82,688.39 362.07,688.39 364.31,688.39 366.56,688.39 368.8,688.39 371.04,688.39 373.29,688.39 375.53,688.39 377.78,688.39 380.02,688.39 382.26,688.39 384.51,688.39 386.75,688.39 389,688.39 391.24,688.39 393.48,688.39 395.73,688.39 397.97,688.39 400.22,688.39 402.46,688.39 404.7,688.39 406.95,688.39 409.19,688.39 411.44,688.39 413.68,688.39 415.92,688.39 418.17,688.39 420.41,688.39 422.66,688.39 424.9,688.39 427.14,688.39 429.39,688.39 431.63,688.39 433.88,688.39 436.12,688.39 438.36,688.39 440.61,688.39 442.85,688.39 445.1,688.39 447.34,688.39 447.53,688.22 447.72,688.05 447.91,687.89 448.11,687.72 448.3,687.55 448.49,687.38 448.68,687.22 448.87,687.05 449.06,686.88 449.26,686.71 449.45,686.54 449.64,686.38 449.83,686.21 450.02,686.04 450.21,685.87 450.41,685.71 450.41,685.71 450.55,634.87 450.78,639.11 451.03,692.06 451.86,695.87 452.7,698.11 453.54,699.31 454.38,699.82 455.21,699.86 456.05,699.59 456.89,699.12 457.73,698.5 458.56,697.8 459.4,697.03 460.24,696.22 461.08,695.39 461.91,694.53 462.75,693.67 463.59,692.79 464.42,691.92 465.26,691.03 466.1,690.15 466.94,689.26 467.77,688.37 468.61,687.48 469.45,686.59 470.29,685.7 470.29,685.71 470.43,634.87 470.66,639.11 470.91,692.06 471.76,695.93 472.61,698.2 473.46,699.4 474.32,699.89 475.17,699.92 476.02,699.64 476.87,699.16 477.72,698.53 478.57,697.82 479.43,697.05 480.28,696.24 481.13,695.4 481.98,694.54 482.83,693.67 483.69,692.8 484.54,691.92 485.39,691.03 486.24,690.15 487.09,689.26 487.94,688.37 488.8,687.48 489.65,686.59 490.5,685.7 490.5,685.71 490.64,634.87 490.87,639.11 491.12,692.06 491.97,695.93 492.82,698.2 493.68,699.4 494.53,699.89 495.38,699.92 496.23,699.64 497.08,699.16 497.94,698.53 498.79,697.82 499.64,697.05 500.49,696.24 501.34,695.4 502.19,694.54 503.05,693.67 503.9,692.8 504.75,691.92 505.6,691.03 506.45,690.15 507.31,689.26 508.16,688.37 509.01,687.48 509.86,686.59 510.71,685.7 510.71,685.71 510.86,634.87 511.09,639.11 511.33,692.06 512.16,695.83 512.99,698.07 513.82,699.27 514.65,699.78 515.48,699.83 516.32,699.56 517.15,699.1 517.98,698.49 518.81,697.79 519.64,697.02 520.47,696.22 521.3,695.38 522.13,694.53 522.96,693.67 523.79,692.79 524.62,691.91 525.45,691.03 526.28,690.15 527.11,689.26 527.94,688.37 528.77,687.48 529.6,686.59 530.43,685.7 530.43,685.71 530.57,634.87 530.8,639.11 531.05,692.06 531.89,695.89 532.74,698.14 533.58,699.34 534.42,699.85 535.26,699.88 536.11,699.61 536.95,699.13 537.79,698.51 538.64,697.81 539.48,697.04 540.32,696.23 541.16,695.39 542.01,694.54 542.85,693.67 543.69,692.8 544.53,691.92 545.38,691.03 546.22,690.15 547.06,689.26 547.91,688.37 548.75,687.48 549.59,686.59 550.43,685.7 550.43,685.71 550.58,634.87 550.81,639.11 551.06,692.06 551.9,695.9 552.74,698.15 553.59,699.36 554.43,699.86 555.28,699.89 556.12,699.62 556.97,699.14 557.81,698.52 558.66,697.81 559.5,697.04 560.35,696.23 561.19,695.39 562.04,694.54 562.88,693.67 563.72,692.8 564.57,691.92 565.41,691.03 566.26,690.15 567.1,689.26 567.95,688.37 568.79,687.48 569.64,686.59 570.48,685.7 570.48,685.71 570.63,634.87 570.85,639.11 571.1,692.06 571.15,691.41 571.2,690.74 571.25,690.08 571.3,689.4 571.35,688.71 571.4,688.02 571.45,687.32 571.5,686.62 571.55,685.91 571.6,685.19" fill="none" stroke="#000" stroke-width="2.4" stroke-linejoin="round" stroke-linecap="butt" clip-path="url(#c5)"/>
<line x1="157.4" y1="708.5" x2="157.4" y2="698.9" stroke="#000" stroke-width="1.5" stroke-linecap="butt"/>
<line x1="157.4" y1="625.1" x2="157.4" y2="634.7" stroke="#000" stroke-width="1.5" stroke-linecap="butt"/>
<line x1="260.95" y1="708.5" x2="260.95" y2="698.9" stroke="#000" stroke-width="1.5" stroke-linecap="butt"/>
<line x1="260.95" y1="625.1" x2="260.95" y2="634.7" stroke="#000" stroke-width="1.5" stroke-linecap="butt"/>
<line x1="364.5" y1="708.5" x2="364.5" y2="698.9" stroke="#000" stroke-width="1.5" stroke-linecap="butt"/>
<line x1="364.5" y1="625.1" x2="364.5" y2="634.7" stroke="#000" stroke-width="1.5" stroke-linecap="butt"/>
<line x1="468.05" y1="708.5" x2="468.05" y2="698.9" stroke="#000" stroke-width="1.5" stroke-linecap="butt"/>
<line x1="468.05" y1="625.1" x2="468.05" y2="634.7" stroke="#000" stroke-width="1.5" stroke-linecap="butt"/>
<line x1="571.6" y1="708.5" x2="571.6" y2="698.9" stroke="#000" stroke-width="1.5" stroke-linecap="butt"/>
<line x1="571.6" y1="625.1" x2="571.6" y2="634.7" stroke="#000" stroke-width="1.5" stroke-linecap="butt"/>
<line x1="144.8" y1="649.7" x2="154.4" y2="649.7" stroke="#000" stroke-width="1.5" stroke-linecap="butt"/>
<line x1="587.6" y1="649.7" x2="578" y2="649.7" stroke="#000" stroke-width="1.5" stroke-linecap="butt"/>
<line x1="144.8" y1="685" x2="154.4" y2="685" stroke="#000" stroke-width="1.5" stroke-linecap="butt"/>
<line x1="587.6" y1="685" x2="578" y2="685" stroke="#000" stroke-width="1.5" stroke-linecap="butt"/>
<rect x="144.8" y="625.1" width="442.8" height="83.4" fill="none" stroke="#000" stroke-width="2.2"/>
<text x="160.1" y="747.5" font-size="38.8" text-anchor="middle">0</text>
<text x="263.65" y="747.5" font-size="38.8" text-anchor="middle">250</text>
<text x="367.2" y="747.5" font-size="38.8" text-anchor="middle">500</text>
<text x="470.75" y="747.5" font-size="38.8" text-anchor="middle">750</text>
<text x="574.3" y="747.5" font-size="38.8" text-anchor="middle">1000</text>
<text x="143.1" y="665.04" font-size="38.8" text-anchor="end">0</text>
<text x="143.1" y="700.34" font-size="38.8" text-anchor="end">−50</text>
<text x="368.62" y="788.1" font-size="38.8" text-anchor="middle">Time (ms)</text>
<clipPath id="c6"><rect x="143" y="800.8" width="443.4" height="83.2"/></clipPath>
<polyline points="155.8,862.37 157.53,862.37 159.27,862.37 161,862.37 162.73,862.37 164.47,862.37 166.2,862.37 167.93,862.37 169.67,862.37 171.4,862.37 173.13,862.37 174.87,862.37 176.6,862.37 178.33,862.37 180.07,862.37 181.8,862.37 183.53,862.37 185.27,862.37 187,862.37 188.73,862.37 190.47,862.37 192.2,862.37 193.93,862.37 195.67,862.37 197.4,862.37 199.13,862.37 200.87,862.37 202.6,862.37 204.33,862.37 206.07,862.37 207.8,862.37 209.53,862.37 211.27,862.37 213,862.37 214.73,862.37 216.47,862.37 218.2,862.37 219.93,862.37 221.67,862.37 223.4,862.37 225.13,862.37 226.87,862.37 228.6,862.37 230.33,862.37 232.07,862.37 233.8,862.37 235.53,862.37 237.27,862.37 239,862.37 240.73,862.37 242.47,862.37 244.2,862.37 245.93,862.37 247.67,862.37 249.4,862.37 251.13,862.37 252.87,862.37 254.6,862.37 256.33,862.37 258.07,862.37 259.8,862.37 261.53,862.37 263.27,862.37 265,862.37 266.73,862.37 268.47,862.37 270.2,862.37 271.93,862.37 273.67,862.45 275.4,862.98 277.13,863.83 278.87,865.69 280.6,868.46 282.33,871.18 284.07,873.29 285.8,875.38 287.53,877.35 289.27,879.05 291,880.31 292.73,881.09 294.47,881.76 296.2,882.34 297.93,882.77 299.67,883.01 301.4,883.04 303.13,883 304.87,882.92 306.6,882.8 308.33,882.67 310.07,882.52 311.8,882.35 313.53,882.19 315.27,882.04 317,881.87 318.73,881.66 320.47,881.42 322.2,881.17 323.93,880.92 325.67,880.67 327.4,880.44 329.13,880.25 330.87,880.1 332.6,880.01 334.33,879.97 336.07,879.93 337.8,879.9 339.53,879.87 341.27,879.84 343,879.81 344.73,879.78 346.47,879.76 348.2,879.74 349.93,879.72 351.67,879.71 353.4,879.69 355.13,879.68 356.87,879.67 358.6,879.66 360.33,879.66 362.07,879.66 363.8,879.66 365.53,879.66 367.27,879.66 369,879.66 370.73,879.66 372.47,879.66 374.2,879.66 375.93,879.66 377.67,879.66 379.4,879.66 381.13,879.66 382.87,879.66 384.6,879.66 386.33,879.66 388.07,879.66 389.8,879.61 391.53,878.98 393.27,877.71 395,875.1 396.73,872.2 398.47,870.2 400.2,868.88 401.93,867.76 403.67,866.78 405.4,865.89 407.13,865 408.87,864.34 410.6,863.76 412.33,862.82 414.07,859.66 414.24,810.16 414.95,851.52 415.84,866.44 418.79,873.22 422.93,875.25 427.66,873.89 439.48,867.79 451.3,863.72 469.03,861.83 486.76,862.03 510.4,862.37 569.5,862.37" fill="none" stroke="#000" stroke-width="2.4" stroke-linejoin="round" stroke-linecap="butt" clip-path="url(#c6)"/>
<line x1="155.8" y1="884" x2="155.8" y2="874.4" stroke="#000" stroke-width="1.5" stroke-linecap="butt"/>
<line x1="155.8" y1="800.8" x2="155.8" y2="810.4" stroke="#000" stroke-width="1.5" stroke-linecap="butt"/>
<line x1="244.45" y1="884" x2="244.45" y2="874.4" stroke="#000" stroke-width="1.5" stroke-linecap="butt"/>
<line x1="244.45" y1="800.8" x2="244.45" y2="810.4" stroke="#000" stroke-width="1.5" stroke-linecap="butt"/>
<line x1="333.1" y1="884" x2="333.1" y2="874.4" stroke="#000" stroke-width="1.5" stroke-linecap="butt"/>
<line x1="333.1" y1="800.8" x2="333.1" y2="810.4" stroke="#000" stroke-width="1.5" stroke-linecap="butt"/>
<line x1="421.75" y1="884" x2="421.75" y2="874.4" stroke="#000" stroke-width="1.5" stroke-linecap="butt"/>
<line x1="421.75" y1="800.8" x2="421.75" y2="810.4" stroke="#000" stroke-width="1.5" stroke-linecap="butt"/>
<line x1="510.4" y1="884" x2="510.4" y2="874.4" stroke="#000" stroke-width="1.5" stroke-linecap="butt"/>
<line x1="510.4" y1="800.8" x2="510.4" y2="810.4" stroke="#000" stroke-width="1.5" stroke-linecap="butt"/>
<line x1="143" y1="824.4" x2="152.6" y2="824.4" stroke="#000" stroke-width="1.5" stroke-linecap="butt"/>
<line x1="586.4" y1="824.4" x2="576.8" y2="824.4" stroke="#000" stroke-width="1.5" stroke-linecap="butt"/>
<line x1="143" y1="858.3" x2="152.6" y2="858.3" stroke="#000" stroke-width="1.5" stroke-linecap="butt"/>
<line x1="586.4" y1="858.3" x2="576.8" y2="858.3" stroke="#000" stroke-width="1.5" stroke-linecap="butt"/>
<rect x="143" y="800.8" width="443.4" height="83.2" fill="none" stroke="#000" stroke-width="2.2"/>
<text x="158.5" y="923" font-size="38.8" text-anchor="middle">300</text>
<text x="247.15" y="923" font-size="38.8" text-anchor="middle">450</text>
<text x="335.8" y="923" font-size="38.8" text-anchor="middle">600</text>
<text x="424.45" y="923" font-size="38.8" text-anchor="middle">750</text>
<text x="513.1" y="923" font-size="38.8" text-anchor="middle">900</text>
<text x="141.3" y="839.74" font-size="38.8" text-anchor="end">0</text>
<text x="141.3" y="873.64" font-size="38.8" text-anchor="end">−50</text>
<text x="367.12" y="964.2" font-size="38.8" text-anchor="middle">Time (ms)</text>
<text x="40.7" y="759.11" font-size="38.8" text-anchor="middle" transform="rotate(-90 40.7 759.11)">SNr potential (mV)</text>
<clipPath id="c7"><rect x="144.7" y="1052.6" width="443.3" height="83.4"/></clipPath>
<polyline points="156.6,1127.38 157.5,1125.91 158.4,1124.51 159.3,1123.18 160.2,1121.91 161.1,1120.7 162,1119.57 162.9,1118.52 163.8,1117.54 164.7,1116.63 165.6,1115.81 166.5,1115.08 167.4,1114.43 168.3,1113.89 169.2,1113.46 170.1,1113.15 171,1113.01 171,1113.01 171.07,1066 171.18,1070.24 171.31,1120.8 171.73,1122.91 172.14,1124.1 172.56,1124.68 172.98,1124.85 173.4,1124.75 173.82,1124.48 174.23,1124.1 174.65,1123.65 175.07,1123.16 175.49,1122.65 175.91,1122.12 176.32,1121.59 176.74,1121.07 177.16,1120.55 177.58,1120.04 178,1119.54 178.41,1119.06 178.83,1118.59 179.25,1118.13 179.67,1117.69 180.09,1117.27 180.5,1116.86 180.92,1116.47 181.34,1116.09 181.76,1115.73 182.18,1115.39 182.6,1115.07 183.01,1114.77 183.43,1114.48 183.85,1114.22 184.27,1113.98 184.69,1113.76 185.1,1113.56 185.52,1113.39 185.94,1113.24 186.36,1113.13 186.78,1113.05 187.19,1113.01 187.19,1113.01 187.27,1066 187.38,1070.24 187.5,1120.8 187.92,1122.94 188.34,1124.16 188.76,1124.77 189.17,1124.98 189.59,1124.91 190.01,1124.67 190.42,1124.32 190.84,1123.9 191.26,1123.43 191.68,1122.94 192.09,1122.43 192.51,1121.93 192.93,1121.42 193.34,1120.92 193.76,1120.43 194.18,1119.95 194.6,1119.47 195.01,1119.01 195.43,1118.57 195.85,1118.13 196.26,1117.72 196.68,1117.31 197.1,1116.92 197.52,1116.54 197.93,1116.18 198.35,1115.84 198.77,1115.51 199.18,1115.2 199.6,1114.9 200.02,1114.62 200.44,1114.36 200.85,1114.12 201.27,1113.9 201.69,1113.7 202.1,1113.52 202.52,1113.36 202.94,1113.23 203.36,1113.12 203.77,1113.04 204.19,1113.01 204.19,1113.01 204.26,1066 204.38,1070.24 204.5,1120.8 204.92,1122.82 205.33,1123.93 205.75,1124.43 206.17,1124.53 206.59,1124.37 207,1124.03 207.42,1123.59 207.84,1123.08 208.26,1122.54 208.67,1121.97 209.09,1121.4 209.51,1120.82 209.92,1120.26 210.34,1119.7 210.76,1119.16 211.18,1118.64 211.59,1118.13 212.01,1117.64 212.43,1117.17 212.84,1116.72 213.26,1116.29 213.68,1115.88 214.1,1115.49 214.51,1115.13 214.93,1114.78 215.35,1114.47 215.77,1114.18 216.18,1113.91 216.6,1113.68 217.02,1113.47 217.43,1113.29 217.85,1113.15 218.27,1113.05 218.69,1113.01 218.69,1113.01 218.76,1066 218.87,1070.24 219,1120.8 219.41,1122.98 219.83,1124.25 220.24,1124.9 220.66,1125.14 221.08,1125.12 221.49,1124.92 221.91,1124.61 222.32,1124.22 222.74,1123.79 223.16,1123.33 223.57,1122.86 223.99,1122.38 224.4,1121.9 224.82,1121.42 225.24,1120.95 225.65,1120.49 226.07,1120.04 226.48,1119.6 226.9,1119.17 227.32,1118.74 227.73,1118.34 228.15,1117.94 228.56,1117.55 228.98,1117.18 229.39,1116.82 229.81,1116.48 230.23,1116.14 230.64,1115.82 231.06,1115.52 231.47,1115.23 231.89,1114.95 232.31,1114.69 232.72,1114.44 233.14,1114.21 233.55,1114 233.97,1113.8 234.39,1113.62 234.8,1113.46 235.22,1113.32 235.63,1113.2 236.05,1113.11 236.47,1113.04 236.88,1113.01 236.88,1113.01 236.95,1066 237.07,1070.24 237.19,1120.8 237.61,1122.91 238.03,1124.09 238.46,1124.65 238.88,1124.8 239.3,1124.68 239.72,1124.39 240.14,1124 240.56,1123.53 240.98,1123.02 241.4,1122.49 241.83,1121.96 242.25,1121.42 242.67,1120.88 243.09,1120.35 243.51,1119.84 243.93,1119.33 244.35,1118.84 244.77,1118.36 245.2,1117.9 245.62,1117.46 246.04,1117.03 246.46,1116.62 246.88,1116.23 247.3,1115.86 247.72,1115.5 248.14,1115.16 248.57,1114.85 248.99,1114.55 249.41,1114.28 249.83,1114.02 250.25,1113.79 250.67,1113.59 251.09,1113.41 251.51,1113.26 251.94,1113.13 252.36,1113.05 252.78,1113.01 252.78,1113.01 252.85,1066 252.96,1070.24 253.09,1120.8 253.5,1122.91 253.92,1124.11 254.33,1124.71 254.75,1124.9 255.16,1124.82 255.58,1124.57 255.99,1124.21 256.41,1123.77 256.82,1123.29 257.24,1122.79 257.65,1122.28 258.07,1121.76 258.48,1121.25 258.9,1120.74 259.31,1120.24 259.73,1119.75 260.14,1119.27 260.56,1118.81 260.97,1118.35 261.39,1117.92 261.8,1117.49 262.22,1117.09 262.63,1116.7 263.05,1116.32 263.46,1115.96 263.88,1115.62 264.29,1115.29 264.71,1114.98 265.12,1114.69 265.54,1114.42 265.95,1114.17 266.37,1113.94 266.78,1113.73 267.2,1113.54 267.61,1113.37 268.03,1113.23 268.44,1113.12 268.86,1113.04 269.27,1113.01 269.27,1113.01 269.35,1066 269.46,1070.24 269.58,1120.8 270,1122.88 270.42,1124.05 270.83,1124.61 271.25,1124.76 271.66,1124.65 272.08,1124.37 272.49,1123.98 272.91,1123.52 273.33,1123.01 273.74,1122.49 274.16,1121.95 274.57,1121.41 274.99,1120.88 275.41,1120.35 275.82,1119.83 276.24,1119.33 276.65,1118.84 277.07,1118.36 277.48,1117.9 277.9,1117.46 278.32,1117.03 278.73,1116.62 279.15,1116.23 279.56,1115.86 279.98,1115.5 280.4,1115.16 280.81,1114.85 281.23,1114.55 281.64,1114.28 282.06,1114.02 282.47,1113.79 282.89,1113.59 283.31,1113.41 283.72,1113.26 284.14,1113.13 284.55,1113.05 284.97,1113.01 284.97,1113.01 285.04,1066 285.16,1070.24 285.28,1120.8 285.7,1122.94 286.11,1124.16 286.53,1124.77 286.95,1124.98 287.37,1124.91 287.78,1124.67 288.2,1124.32 288.62,1123.9 289.03,1123.43 289.45,1122.94 289.87,1122.43 290.29,1121.93 290.7,1121.42 291.12,1120.92 291.54,1120.43 291.95,1119.95 292.37,1119.47 292.79,1119.01 293.21,1118.57 293.62,1118.13 294.04,1117.72 294.46,1117.31 294.87,1116.92 295.29,1116.54 295.71,1116.18 296.13,1115.84 296.54,1115.51 296.96,1115.2 297.38,1114.9 297.79,1114.62 298.21,1114.36 298.63,1114.12 299.05,1113.9 299.46,1113.7 299.88,1113.52 300.3,1113.36 300.71,1113.23 301.13,1113.12 301.55,1113.04 301.97,1113.01 301.97,1113.01 302.04,1066 302.15,1070.24 302.28,1120.8 302.7,1122.91 303.12,1124.09 303.54,1124.65 303.96,1124.8 304.38,1124.68 304.8,1124.39 305.22,1124 305.65,1123.53 306.07,1123.02 306.49,1122.49 306.91,1121.96 307.33,1121.42 307.75,1120.88 308.17,1120.35 308.59,1119.84 309.02,1119.33 309.44,1118.84 309.86,1118.36 310.28,1117.9 310.7,1117.46 311.12,1117.03 311.54,1116.62 311.96,1116.23 312.39,1115.86 312.81,1115.5 313.23,1115.16 313.65,1114.85 314.07,1114.55 314.49,1114.28 314.91,1114.02 315.33,1113.79 315.76,1113.59 316.18,1113.41 316.6,1113.26 317.02,1113.13 317.44,1113.05 317.86,1113.01 317.86,1113.01 317.93,1066 318.05,1070.24 318.17,1120.8 318.6,1122.87 319.02,1124 319.45,1124.5 319.88,1124.59 320.3,1124.42 320.73,1124.07 321.15,1123.62 321.58,1123.11 322.01,1122.55 322.43,1121.98 322.86,1121.41 323.29,1120.83 323.71,1120.26 324.14,1119.71 324.56,1119.16 324.99,1118.64 325.42,1118.13 325.84,1117.64 326.27,1117.17 326.69,1116.72 327.12,1116.29 327.55,1115.88 327.97,1115.49 328.4,1115.13 328.82,1114.78 329.25,1114.47 329.68,1114.18 330.1,1113.91 330.53,1113.68 330.95,1113.47 331.38,1113.29 331.81,1113.15 332.23,1113.05 332.66,1113.01 332.66,1113.01 332.73,1066 332.84,1070.24 332.97,1120.8 333.39,1122.87 333.82,1124 334.25,1124.5 334.67,1124.59 335.1,1124.42 335.53,1124.07 335.95,1123.62 336.38,1123.11 336.8,1122.55 337.23,1121.98 337.66,1121.41 338.08,1120.83 338.51,1120.26 338.93,1119.71 339.36,1119.16 339.79,1118.64 340.21,1118.13 340.64,1117.64 341.06,1117.17 341.49,1116.72 341.92,1116.29 342.34,1115.88 342.77,1115.49 343.19,1115.13 343.62,1114.78 344.05,1114.47 344.47,1114.18 344.9,1113.91 345.32,1113.68 345.75,1113.47 346.18,1113.29 346.6,1113.15 347.03,1113.05 347.45,1113.01 347.45,1113.01 347.53,1066 347.64,1070.24 347.77,1120.8 348.19,1122.7 348.61,1123.68 349.03,1124.05 349.46,1124.02 349.88,1123.74 350.3,1123.29 350.72,1122.75 351.15,1122.16 351.57,1121.53 351.99,1120.9 352.41,1120.27 352.84,1119.66 353.26,1119.07 353.68,1118.49 354.1,1117.95 354.53,1117.44 354.95,1116.95 355.37,1116.5 355.79,1116.09 356.22,1115.71 356.64,1115.38 357.06,1115.08 357.48,1114.83 357.91,1114.63 358.33,1114.49 358.75,1114.42 358.95,1114.71 359.57,1114.52 360.19,1115.06 360.81,1114.78 361.44,1114.3 362.06,1114.3 362.68,1115.29 363.3,1115.19 363.92,1115.39 364.54,1114.9 365.16,1115.43 365.78,1114.89 366.4,1114.65 367.02,1115.13 367.64,1114.63 368.26,1114.74 368.89,1115.47 369.51,1114.79 370.13,1115.18 370.75,1114.99 371.37,1115.16 371.99,1114.64 372.61,1114.97 373.23,1115.34 373.85,1114.85 374.47,1114.55 375.09,1115.16 375.72,1115.28 376.34,1115.07 376.96,1114.38 377.58,1114.33 378.2,1114.72 378.82,1114.44 379.44,1114.51 380.06,1115.12 380.68,1115.49 381.3,1114.78 381.92,1114.9 382.54,1115.16 383.17,1115.34 383.79,1115.11 384.41,1115.04 385.03,1115.3 385.65,1115.27 386.27,1115.07 386.89,1114.56 387.51,1114.91 388.13,1115.31 388.75,1115.32 389.37,1115.1 389.99,1115.42 390.62,1115.43 391.24,1115.04 391.86,1115.59 392.48,1115.09 393.1,1115.25 393.72,1114.81 394.34,1114.77 394.96,1114.85 395.58,1114.85 396.2,1115.26 396.82,1114.89 397.44,1115.31 398.07,1115.02 398.69,1115.34 399.31,1115.2 399.93,1115.69 400.55,1115.49 401.17,1114.6 401.79,1115.57 402.41,1115.02 403.03,1115.1 403.65,1115.04 404.27,1115.39 404.89,1115.27 405.52,1115.98 406.14,1116.01 406.76,1115.88 407.38,1115.97 408,1116.07 408.62,1116.07 409.24,1115.56 409.86,1116.06 410.48,1115.12 411.1,1115.49 411.72,1115.71 412.35,1115.53 412.97,1116.12 413.59,1115.31 414.21,1115.46 414.83,1115.63 415.45,1115.98 416.07,1115.55 416.69,1115.71 417.31,1115.85 417.93,1115.56 418.55,1115.95 419.17,1116.32 419.8,1116.12 420.42,1116.57 421.04,1116.56 421.66,1115.87 422.28,1115.78 422.9,1115.52 423.52,1115.66 424.14,1116.04 424.76,1116.6 425.38,1116.08 426,1115.51 426.62,1115.67 427.25,1116.04 427.87,1116.06 428.49,1116.35 429.11,1116.39 429.73,1116.51 430.35,1115.45 430.97,1115.75 431.59,1116.37 432.21,1116.01 432.83,1116.46 433.45,1116.25 434.07,1115.57 434.7,1115.65 435.32,1115.86 435.94,1116.1 436.56,1115.61 437.18,1115.21 437.8,1115.85 438.42,1116.31 439.04,1116.31 439.66,1116.26 440.28,1115.13 440.9,1115.65 441.53,1115.25 442.15,1116.09 442.77,1115.96 443.39,1115.4 444.01,1115.12 444.63,1115.81 445.25,1116.15 445.87,1115.12 446.49,1115.83 447.11,1115.25 447.73,1115.97 448.35,1115.27 448.98,1115.07 449.6,1115.2 450.22,1115.66 450.84,1115.19 451.46,1115.93 452.08,1115.7 452.7,1115.56 453.32,1114.97 453.94,1115.88 454.56,1114.95 455.18,1115.04 455.8,1114.82 456.43,1115.58 457.05,1115.78 457.67,1115.73 458.29,1114.97 458.91,1114.79 459.53,1115.12 460.15,1115.39 460.77,1115.63 461.39,1114.93 462.01,1114.87 462.63,1115.86 463.25,1115.69 463.88,1114.9 464.5,1114.87 465.12,1115.54 465.74,1115.58 466.36,1115.38 466.98,1115.23 467.6,1115.79 468.22,1114.84 468.84,1115.22 469.46,1114.91 470.08,1115.59 470.71,1114.65 471.33,1114.91 471.95,1115.43 472.57,1114.65 473.19,1114.96 473.81,1114.77 474.43,1115.78 475.05,1115.76 475.67,1114.87 476.29,1115.42 476.91,1115.15 477.53,1115.6 478.16,1114.54 478.78,1115.14 479.4,1114.72 480.02,1115.68 480.64,1115.18 481.26,1115.72 481.88,1114.69 482.5,1115.26 483.12,1115.76 483.74,1115.77 484.36,1115.19 484.98,1115.8 485.61,1115.67 486.23,1115.37 486.85,1115.31 487.47,1115.21 488.09,1115.18 488.71,1115.51 489.33,1115.21 489.95,1115.82 490.57,1115.68 491.19,1115.03 491.81,1115.87 492.43,1115.79 493.06,1115.78 493.68,1115.5 494.3,1116.12 494.92,1116.1 495.54,1115.57 496.16,1115.96 496.78,1115.32 497.4,1115.19 498.02,1115.48 498.64,1115.34 499.26,1115.75 499.89,1116.2 500.51,1115.72 501.13,1115.82 501.75,1115.55 502.37,1116.15 503.18,1115.55 503.44,1115.27 503.7,1115.01 503.97,1114.76 504.23,1114.52 504.49,1114.3 504.75,1114.09 505.02,1113.9 505.28,1113.72 505.54,1113.56 505.8,1113.42 506.07,1113.29 506.33,1113.18 506.59,1113.1 506.85,1113.04 507.12,1113.01 507.12,1113.01 507.19,1066 507.3,1070.24 507.43,1120.8 507.84,1122.79 508.26,1123.87 508.67,1124.35 509.09,1124.43 509.5,1124.25 509.92,1123.9 510.33,1123.44 510.74,1122.92 511.16,1122.36 511.57,1121.78 511.99,1121.19 512.4,1120.61 512.82,1120.03 513.23,1119.47 513.65,1118.92 514.06,1118.38 514.48,1117.87 514.89,1117.38 515.31,1116.9 515.72,1116.45 516.14,1116.02 516.55,1115.62 516.97,1115.23 517.38,1114.88 517.8,1114.54 518.21,1114.24 518.62,1113.96 519.04,1113.71 519.45,1113.49 519.87,1113.31 520.28,1113.16 520.7,1113.06 521.11,1113.01 521.11,1113.01 521.19,1066 521.3,1070.24 521.42,1120.8 521.84,1123 522.27,1124.26 522.69,1124.89 523.11,1125.12 523.53,1125.08 523.95,1124.86 524.37,1124.53 524.79,1124.13 525.21,1123.68 525.63,1123.21 526.06,1122.73 526.48,1122.24 526.9,1121.75 527.32,1121.26 527.74,1120.79 528.16,1120.32 528.58,1119.86 529,1119.41 529.42,1118.97 529.84,1118.55 530.27,1118.14 530.69,1117.74 531.11,1117.35 531.53,1116.97 531.95,1116.61 532.37,1116.27 532.79,1115.94 533.21,1115.62 533.63,1115.31 534.06,1115.03 534.48,1114.75 534.9,1114.5 535.32,1114.26 535.74,1114.03 536.16,1113.83 536.58,1113.64 537,1113.48 537.42,1113.33 537.85,1113.21 538.27,1113.11 538.69,1113.04 539.11,1113.01 539.11,1113.01 539.18,1066 539.29,1070.24 539.42,1120.8 539.84,1122.9 540.26,1124.07 540.67,1124.63 541.09,1124.78 541.51,1124.67 541.93,1124.38 542.35,1123.99 542.77,1123.52 543.19,1123.02 543.6,1122.49 544.02,1121.95 544.44,1121.41 544.86,1120.88 545.28,1120.35 545.7,1119.83 546.12,1119.33 546.53,1118.84 546.95,1118.36 547.37,1117.9 547.79,1117.46 548.21,1117.03 548.63,1116.62 549.05,1116.23 549.46,1115.86 549.88,1115.5 550.3,1115.16 550.72,1114.85 551.14,1114.55 551.56,1114.28 551.97,1114.02 552.39,1113.79 552.81,1113.59 553.23,1113.41 553.65,1113.26 554.07,1113.13 554.49,1113.05 554.9,1113.01 554.9,1113.01 554.98,1066 555.09,1070.24 555.22,1120.8 555.63,1122.86 556.05,1124.01 556.46,1124.55 556.88,1124.69 557.3,1124.56 557.71,1124.26 558.13,1123.86 558.55,1123.38 558.96,1122.86 559.38,1122.32 559.79,1121.77 560.21,1121.22 560.63,1120.68 561.04,1120.14 561.46,1119.62 561.88,1119.11 562.29,1118.61 562.71,1118.13 563.12,1117.67 563.54,1117.22 563.96,1116.79 564.37,1116.38 564.79,1115.99 565.21,1115.62 565.62,1115.26 566.04,1114.93 566.45,1114.62 566.87,1114.34 567.29,1114.07 567.7,1113.83 568.12,1113.61 568.54,1113.43 568.95,1113.27 569.37,1113.14 569.78,1113.05 570.2,1113.01 570.2,1113.01 570.27,1066 570.39,1070.24 570.51,1120.8 570.65,1120.27 570.79,1119.72 570.93,1119.17 571.07,1118.64 571.21,1118.16 571.34,1117.74 571.48,1117.39 571.62,1117.16 571.76,1117.06 571.9,1117.16" fill="none" stroke="#000" stroke-width="2.4" stroke-linejoin="round" stroke-linecap="butt" clip-path="url(#c7)"/>
<line x1="144.7" y1="1076.9" x2="154.3" y2="1076.9" stroke="#000" stroke-width="1.5" stroke-linecap="butt"/>
<line x1="588" y1="1076.9" x2="578.4" y2="1076.9" stroke="#000" stroke-width="1.5" stroke-linecap="butt"/>
<line x1="144.7" y1="1112.3" x2="154.3" y2="1112.3" stroke="#000" stroke-width="1.5" stroke-linecap="butt"/>
<line x1="588" y1="1112.3" x2="578.4" y2="1112.3" stroke="#000" stroke-width="1.5" stroke-linecap="butt"/>
<rect x="144.7" y="1052.6" width="443.3" height="83.4" fill="none" stroke="#000" stroke-width="2.2"/>
<text x="143" y="1092.24" font-size="38.8" text-anchor="end">0</text>
<text x="143" y="1127.64" font-size="38.8" text-anchor="end">−50</text>
<clipPath id="c8"><rect x="147.8" y="1153.4" width="443.4" height="83.1"/></clipPath>
<polyline points="160.5,1227.39 160.74,1226.41 160.98,1225.46 161.21,1224.54 161.45,1223.64 161.69,1222.78 161.93,1221.95 162.17,1221.15 162.4,1220.39 162.64,1219.68 162.88,1219 163.12,1218.37 163.36,1217.79 163.59,1217.28 163.83,1216.83 164.07,1216.47 164.31,1216.26 164.31,1216.26 164.38,1166.63 164.49,1170.92 164.62,1220.54 165.04,1221.94 165.46,1222.31 165.88,1222.19 166.3,1221.81 166.72,1221.32 167.14,1220.78 167.56,1220.23 167.98,1219.69 168.4,1219.17 168.82,1218.66 169.24,1218.19 169.66,1217.75 170.08,1217.34 170.5,1216.97 170.92,1216.66 171.34,1216.41 171.76,1216.26 171.76,1216.26 171.83,1166.63 171.94,1170.92 172.07,1220.54 172.49,1221.94 172.91,1222.31 173.33,1222.19 173.75,1221.81 174.17,1221.32 174.59,1220.78 175.01,1220.23 175.43,1219.69 175.85,1219.17 176.27,1218.66 176.69,1218.19 177.11,1217.75 177.53,1217.34 177.95,1216.97 178.37,1216.66 178.79,1216.41 179.21,1216.26 179.21,1216.26 179.28,1166.63 179.39,1170.92 179.52,1220.54 179.94,1221.94 180.36,1222.31 180.78,1222.19 181.2,1221.81 181.62,1221.32 182.04,1220.78 182.46,1220.23 182.88,1219.69 183.3,1219.17 183.72,1218.66 184.14,1218.19 184.56,1217.75 184.98,1217.34 185.4,1216.97 185.82,1216.66 186.24,1216.41 186.66,1216.26 186.66,1216.26 186.73,1166.63 186.84,1170.92 186.97,1220.54 187.39,1221.94 187.81,1222.31 188.23,1222.19 188.65,1221.81 189.07,1221.32 189.49,1220.78 189.91,1220.23 190.33,1219.69 190.75,1219.17 191.17,1218.66 191.59,1218.19 192.01,1217.75 192.43,1217.34 192.85,1216.97 193.27,1216.66 193.69,1216.41 194.11,1216.26 194.11,1216.26 194.18,1166.63 194.29,1170.92 194.42,1220.54 194.84,1221.94 195.26,1222.31 195.68,1222.19 196.1,1221.81 196.52,1221.32 196.94,1220.78 197.36,1220.23 197.78,1219.69 198.2,1219.17 198.62,1218.66 199.04,1218.19 199.46,1217.75 199.88,1217.34 200.3,1216.97 200.72,1216.66 201.14,1216.41 201.56,1216.26 201.56,1216.26 201.63,1166.63 201.75,1170.92 201.87,1220.54 202.29,1221.94 202.71,1222.31 203.13,1222.19 203.55,1221.81 203.97,1221.32 204.39,1220.78 204.81,1220.23 205.23,1219.69 205.65,1219.17 206.07,1218.66 206.49,1218.19 206.91,1217.75 207.33,1217.34 207.75,1216.97 208.17,1216.66 208.59,1216.41 209.01,1216.26 209.01,1216.26 209.08,1166.63 209.2,1170.92 209.32,1220.54 209.74,1221.94 210.16,1222.31 210.58,1222.19 211,1221.81 211.42,1221.32 211.84,1220.78 212.26,1220.23 212.68,1219.69 213.1,1219.17 213.52,1218.66 213.94,1218.19 214.36,1217.75 214.78,1217.34 215.2,1216.97 215.62,1216.66 216.04,1216.41 216.46,1216.26 216.46,1216.26 216.53,1166.63 216.65,1170.92 216.77,1220.54 217.19,1221.94 217.61,1222.31 218.03,1222.19 218.45,1221.81 218.87,1221.32 219.29,1220.78 219.71,1220.23 220.13,1219.69 220.55,1219.17 220.97,1218.66 221.39,1218.19 221.81,1217.75 222.23,1217.34 222.65,1216.97 223.07,1216.66 223.49,1216.41 223.91,1216.26 223.91,1216.26 223.98,1166.63 224.1,1170.92 224.22,1220.54 224.64,1221.94 225.06,1222.31 225.48,1222.19 225.9,1221.81 226.32,1221.32 226.74,1220.78 227.16,1220.23 227.58,1219.69 228,1219.17 228.42,1218.66 228.84,1218.19 229.26,1217.75 229.68,1217.34 230.1,1216.97 230.52,1216.66 230.94,1216.41 231.36,1216.26 231.36,1216.26 231.43,1166.63 231.55,1170.92 231.67,1220.54 232.09,1221.94 232.51,1222.31 232.93,1222.19 233.35,1221.81 233.77,1221.32 234.19,1220.78 234.61,1220.23 235.03,1219.69 235.45,1219.17 235.87,1218.66 236.29,1218.19 236.71,1217.75 237.13,1217.34 237.55,1216.97 237.97,1216.66 238.39,1216.41 238.81,1216.26 238.81,1216.26 238.88,1166.63 239,1170.92 239.12,1220.54 239.54,1221.94 239.96,1222.31 240.38,1222.19 240.8,1221.81 241.22,1221.32 241.64,1220.78 242.06,1220.23 242.48,1219.69 242.9,1219.17 243.32,1218.66 243.74,1218.19 244.16,1217.75 244.58,1217.34 245,1216.97 245.42,1216.66 245.84,1216.41 246.26,1216.26 246.26,1216.26 246.33,1166.63 246.45,1170.92 246.57,1220.54 246.99,1221.94 247.41,1222.31 247.83,1222.19 248.25,1221.81 248.67,1221.32 249.09,1220.78 249.51,1220.23 249.93,1219.69 250.35,1219.17 250.77,1218.66 251.19,1218.19 251.61,1217.75 252.03,1217.34 252.45,1216.97 252.87,1216.66 253.29,1216.41 253.71,1216.26 253.71,1216.26 253.78,1166.63 253.9,1170.92 254.02,1220.54 254.44,1221.94 254.86,1222.31 255.28,1222.19 255.7,1221.81 256.12,1221.32 256.54,1220.78 256.96,1220.23 257.38,1219.69 257.8,1219.17 258.22,1218.66 258.64,1218.19 259.06,1217.75 259.48,1217.34 259.9,1216.97 260.32,1216.66 260.74,1216.41 261.16,1216.26 261.16,1216.26 261.23,1166.63 261.35,1170.92 261.47,1220.54 261.89,1221.94 262.31,1222.31 262.73,1222.19 263.15,1221.81 263.57,1221.32 263.99,1220.78 264.41,1220.23 264.83,1219.69 265.25,1219.17 265.67,1218.66 266.09,1218.19 266.51,1217.75 266.93,1217.34 267.35,1216.97 267.77,1216.66 268.19,1216.41 268.61,1216.26 268.61,1216.26 268.68,1166.63 268.8,1170.92 268.92,1220.54 269.34,1221.94 269.76,1222.31 270.18,1222.19 270.6,1221.81 271.02,1221.32 271.44,1220.78 271.86,1220.23 272.28,1219.69 272.7,1219.17 273.12,1218.66 273.54,1218.19 273.96,1217.75 274.38,1217.34 274.8,1216.97 275.22,1216.66 275.64,1216.41 276.06,1216.26 276.06,1216.26 276.13,1166.63 276.25,1170.92 276.37,1220.54 276.79,1221.94 277.21,1222.31 277.63,1222.19 278.05,1221.81 278.47,1221.32 278.89,1220.78 279.31,1220.23 279.73,1219.69 280.15,1219.17 280.57,1218.66 280.99,1218.19 281.41,1217.75 281.83,1217.34 282.25,1216.97 282.67,1216.66 283.09,1216.41 283.51,1216.26 283.51,1216.26 283.58,1166.63 283.7,1170.92 283.82,1220.54 284.24,1221.94 284.66,1222.31 285.08,1222.19 285.5,1221.81 285.92,1221.32 286.34,1220.78 286.76,1220.23 287.18,1219.69 287.6,1219.17 288.02,1218.66 288.44,1218.19 288.86,1217.75 289.28,1217.34 289.7,1216.97 290.12,1216.66 290.54,1216.41 290.96,1216.26 290.96,1216.26 291.03,1166.63 291.15,1170.92 291.27,1220.54 291.69,1221.94 292.11,1222.31 292.53,1222.19 292.95,1221.81 293.37,1221.32 293.79,1220.78 294.21,1220.23 294.63,1219.69 295.05,1219.17 295.47,1218.66 295.89,1218.19 296.31,1217.75 296.73,1217.34 297.15,1216.97 297.57,1216.66 297.99,1216.41 298.41,1216.26 298.41,1216.26 298.48,1166.63 298.6,1170.92 298.72,1220.54 299.14,1221.94 299.56,1222.31 299.98,1222.19 300.4,1221.81 300.82,1221.32 301.24,1220.78 301.66,1220.23 302.08,1219.69 302.5,1219.17 302.92,1218.66 303.34,1218.19 303.76,1217.75 304.18,1217.34 304.6,1216.97 305.02,1216.66 305.44,1216.41 305.86,1216.26 305.86,1216.26 305.93,1166.63 306.05,1170.92 306.17,1220.54 306.59,1221.94 307.01,1222.31 307.43,1222.19 307.85,1221.81 308.27,1221.32 308.69,1220.78 309.11,1220.23 309.53,1219.69 309.95,1219.17 310.37,1218.66 310.79,1218.19 311.21,1217.75 311.63,1217.34 312.05,1216.97 312.47,1216.66 312.89,1216.41 313.31,1216.26 313.31,1216.26 313.38,1166.63 313.5,1170.92 313.62,1220.54 314.04,1221.94 314.46,1222.31 314.88,1222.19 315.3,1221.81 315.72,1221.32 316.14,1220.78 316.56,1220.23 316.98,1219.69 317.4,1219.17 317.82,1218.66 318.24,1218.19 318.66,1217.75 319.08,1217.34 319.5,1216.97 319.92,1216.66 320.34,1216.41 320.76,1216.26 320.76,1216.26 320.83,1166.63 320.95,1170.92 321.07,1220.54 321.49,1221.94 321.91,1222.31 322.33,1222.19 322.75,1221.81 323.17,1221.32 323.59,1220.78 324.01,1220.23 324.43,1219.69 324.85,1219.17 325.27,1218.66 325.69,1218.19 326.11,1217.75 326.53,1217.34 326.95,1216.97 327.37,1216.66 327.79,1216.41 328.21,1216.26 328.21,1216.26 328.28,1166.63 328.4,1170.92 328.52,1220.54 328.94,1221.94 329.36,1222.31 329.78,1222.19 330.2,1221.81 330.62,1221.32 331.04,1220.78 331.46,1220.23 331.88,1219.69 332.3,1219.17 332.72,1218.66 333.14,1218.19 333.56,1217.75 333.98,1217.34 334.4,1216.97 334.82,1216.66 335.24,1216.41 335.66,1216.26 335.66,1216.26 335.73,1166.63 335.85,1170.92 335.97,1220.54 336.39,1221.94 336.81,1222.31 337.23,1222.19 337.65,1221.81 338.07,1221.32 338.49,1220.78 338.91,1220.23 339.33,1219.69 339.75,1219.17 340.17,1218.66 340.59,1218.19 341.01,1217.75 341.43,1217.34 341.85,1216.97 342.27,1216.66 342.69,1216.41 343.11,1216.26 343.11,1216.26 343.19,1166.63 343.3,1170.92 343.42,1220.54 343.84,1221.94 344.26,1222.31 344.68,1222.19 345.1,1221.81 345.52,1221.32 345.94,1220.78 346.36,1220.23 346.78,1219.69 347.2,1219.17 347.62,1218.66 348.04,1218.19 348.46,1217.75 348.88,1217.34 349.3,1216.97 349.72,1216.66 350.14,1216.41 350.56,1216.26 350.56,1216.26 350.64,1166.63 350.75,1170.92 350.87,1220.54 351.29,1221.94 351.71,1222.31 352.13,1222.19 352.55,1221.81 352.97,1221.32 353.39,1220.78 353.81,1220.23 354.23,1219.69 354.65,1219.17 355.07,1218.66 355.49,1218.19 355.91,1217.75 356.33,1217.34 356.75,1216.97 357.17,1216.66 357.59,1216.41 358.01,1216.26 358.01,1216.26 358.09,1166.63 358.2,1170.92 358.32,1220.54 358.74,1221.94 359.16,1222.31 359.58,1222.19 360,1221.81 360.42,1221.32 360.84,1220.78 361.26,1220.23 361.68,1219.69 362.1,1219.17 362.52,1218.66 362.94,1218.19 363.36,1217.75 363.78,1217.34 364.2,1216.97 364.62,1216.66 365.04,1216.41 365.46,1216.26 365.46,1216.26 365.54,1166.63 365.65,1170.92 365.77,1220.54 366.19,1221.94 366.61,1222.31 367.03,1222.19 367.45,1221.81 367.87,1221.32 368.29,1220.78 368.71,1220.23 369.13,1219.69 369.55,1219.17 369.97,1218.66 370.39,1218.19 370.81,1217.75 371.23,1217.34 371.65,1216.97 372.07,1216.66 372.49,1216.41 372.91,1216.26 372.91,1216.26 372.99,1166.63 373.1,1170.92 373.22,1220.54 373.64,1221.94 374.06,1222.31 374.48,1222.19 374.9,1221.81 375.32,1221.32 375.74,1220.78 376.16,1220.23 376.58,1219.69 377,1219.17 377.42,1218.66 377.84,1218.19 378.26,1217.75 378.68,1217.34 379.1,1216.97 379.52,1216.66 379.94,1216.41 380.36,1216.26 380.36,1216.26 380.44,1166.63 380.55,1170.92 380.67,1220.54 381.09,1221.94 381.51,1222.31 381.93,1222.19 382.35,1221.81 382.77,1221.32 383.19,1220.78 383.61,1220.23 384.03,1219.69 384.45,1219.17 384.87,1218.66 385.29,1218.19 385.71,1217.75 386.13,1217.34 386.55,1216.97 386.97,1216.66 387.39,1216.41 387.81,1216.26 387.81,1216.26 387.89,1166.63 388,1170.92 388.12,1220.54 388.54,1221.94 388.96,1222.31 389.38,1222.19 389.8,1221.81 390.22,1221.32 390.64,1220.78 391.06,1220.23 391.48,1219.69 391.9,1219.17 392.32,1218.66 392.74,1218.19 393.16,1217.75 393.58,1217.34 394,1216.97 394.42,1216.66 394.84,1216.41 395.26,1216.26 395.26,1216.26 395.34,1166.63 395.45,1170.92 395.57,1220.54 395.99,1221.94 396.41,1222.31 396.83,1222.19 397.25,1221.81 397.67,1221.32 398.09,1220.78 398.51,1220.23 398.93,1219.69 399.35,1219.17 399.77,1218.66 400.19,1218.19 400.61,1217.75 401.03,1217.34 401.45,1216.97 401.87,1216.66 402.29,1216.41 402.71,1216.26 402.71,1216.26 402.79,1166.63 402.9,1170.92 403.02,1220.54 403.44,1221.94 403.86,1222.31 404.28,1222.19 404.7,1221.81 405.12,1221.32 405.54,1220.78 405.96,1220.23 406.38,1219.69 406.8,1219.17 407.22,1218.66 407.64,1218.19 408.06,1217.75 408.48,1217.34 408.9,1216.97 409.32,1216.66 409.74,1216.41 410.16,1216.26 410.16,1216.26 410.24,1166.63 410.35,1170.92 410.47,1220.54 410.89,1221.94 411.31,1222.31 411.73,1222.19 412.15,1221.81 412.57,1221.32 412.99,1220.78 413.41,1220.23 413.83,1219.69 414.25,1219.17 414.67,1218.66 415.09,1218.19 415.51,1217.75 415.93,1217.34 416.35,1216.97 416.77,1216.66 417.19,1216.41 417.61,1216.26 417.61,1216.26 417.69,1166.63 417.8,1170.92 417.93,1220.54 418.35,1221.94 418.77,1222.31 419.19,1222.19 419.61,1221.81 420.03,1221.32 420.45,1220.78 420.87,1220.23 421.28,1219.69 421.7,1219.17 422.12,1218.66 422.54,1218.19 422.96,1217.75 423.38,1217.34 423.8,1216.97 424.22,1216.66 424.64,1216.41 425.06,1216.26 425.06,1216.26 425.14,1166.63 425.25,1170.92 425.38,1220.54 425.8,1221.94 426.22,1222.31 426.64,1222.19 427.06,1221.81 427.48,1221.32 427.9,1220.78 428.32,1220.23 428.74,1219.69 429.16,1219.17 429.58,1218.66 430,1218.19 430.42,1217.75 430.84,1217.34 431.26,1216.97 431.68,1216.66 432.1,1216.41 432.52,1216.26 432.52,1216.26 432.59,1166.63 432.7,1170.92 432.83,1220.54 433.25,1221.94 433.67,1222.31 434.09,1222.19 434.51,1221.81 434.93,1221.32 435.35,1220.78 435.77,1220.23 436.19,1219.69 436.61,1219.17 437.03,1218.66 437.45,1218.19 437.87,1217.75 438.29,1217.34 438.71,1216.97 439.13,1216.66 439.55,1216.41 439.97,1216.26 439.97,1216.26 440.04,1166.63 440.15,1170.92 440.28,1220.54 440.7,1221.94 441.12,1222.31 441.54,1222.19 441.96,1221.81 442.38,1221.32 442.8,1220.78 443.22,1220.23 443.64,1219.69 444.06,1219.17 444.48,1218.66 444.9,1218.19 445.32,1217.75 445.74,1217.34 446.16,1216.97 446.58,1216.66 447,1216.41 447.42,1216.26 447.42,1216.26 447.49,1166.63 447.6,1170.92 447.73,1220.54 448.15,1221.94 448.57,1222.31 448.99,1222.19 449.41,1221.81 449.83,1221.32 450.25,1220.78 450.67,1220.23 451.09,1219.69 451.51,1219.17 451.93,1218.66 452.35,1218.19 452.77,1217.75 453.19,1217.34 453.61,1216.97 454.03,1216.66 454.45,1216.41 454.87,1216.26 454.87,1216.26 454.94,1166.63 455.05,1170.92 455.18,1220.54 455.6,1221.94 456.02,1222.31 456.44,1222.19 456.86,1221.81 457.28,1221.32 457.7,1220.78 458.12,1220.23 458.54,1219.69 458.96,1219.17 459.38,1218.66 459.8,1218.19 460.22,1217.75 460.64,1217.34 461.06,1216.97 461.48,1216.66 461.9,1216.41 462.32,1216.26 462.32,1216.26 462.39,1166.63 462.5,1170.92 462.63,1220.54 463.05,1221.94 463.47,1222.31 463.89,1222.19 464.31,1221.81 464.73,1221.32 465.15,1220.78 465.57,1220.23 465.99,1219.69 466.41,1219.17 466.83,1218.66 467.25,1218.19 467.67,1217.75 468.09,1217.34 468.51,1216.97 468.93,1216.66 469.35,1216.41 469.77,1216.26 469.77,1216.26 469.84,1166.63 469.95,1170.92 470.08,1220.54 470.5,1221.94 470.92,1222.31 471.34,1222.19 471.76,1221.81 472.18,1221.32 472.6,1220.78 473.02,1220.23 473.44,1219.69 473.86,1219.17 474.28,1218.66 474.7,1218.19 475.12,1217.75 475.54,1217.34 475.96,1216.97 476.38,1216.66 476.8,1216.41 477.22,1216.26 477.22,1216.26 477.29,1166.63 477.4,1170.92 477.53,1220.54 477.95,1221.94 478.37,1222.31 478.79,1222.19 479.21,1221.81 479.63,1221.32 480.05,1220.78 480.47,1220.23 480.89,1219.69 481.31,1219.17 481.73,1218.66 482.15,1218.19 482.57,1217.75 482.99,1217.34 483.41,1216.97 483.83,1216.66 484.25,1216.41 484.67,1216.26 484.67,1216.26 484.74,1166.63 484.85,1170.92 484.98,1220.54 485.4,1221.94 485.82,1222.31 486.24,1222.19 486.66,1221.81 487.08,1221.32 487.5,1220.78 487.92,1220.23 488.34,1219.69 488.76,1219.17 489.18,1218.66 489.6,1218.19 490.02,1217.75 490.44,1217.34 490.86,1216.97 491.28,1216.66 491.7,1216.41 492.12,1216.26 492.12,1216.26 492.19,1166.63 492.3,1170.92 492.43,1220.54 492.85,1221.94 493.27,1222.31 493.69,1222.19 494.11,1221.81 494.53,1221.32 494.95,1220.78 495.37,1220.23 495.79,1219.69 496.21,1219.17 496.63,1218.66 497.05,1218.19 497.47,1217.75 497.89,1217.34 498.31,1216.97 498.73,1216.66 499.15,1216.41 499.57,1216.26 499.57,1216.26 499.64,1166.63 499.75,1170.92 499.88,1220.54 500.3,1221.94 500.72,1222.31 501.14,1222.19 501.56,1221.81 501.98,1221.32 502.4,1220.78 502.82,1220.23 503.24,1219.69 503.66,1219.17 504.08,1218.66 504.5,1218.19 504.92,1217.75 505.34,1217.34 505.76,1216.97 506.18,1216.66 506.6,1216.41 507.02,1216.26 507.02,1216.26 507.09,1166.63 507.2,1170.92 507.33,1220.54 507.75,1221.94 508.17,1222.31 508.59,1222.19 509.01,1221.81 509.43,1221.32 509.85,1220.78 510.27,1220.23 510.69,1219.69 511.11,1219.17 511.53,1218.66 511.95,1218.19 512.37,1217.75 512.79,1217.34 513.21,1216.97 513.63,1216.66 514.05,1216.41 514.47,1216.26 514.47,1216.26 514.54,1166.63 514.65,1170.92 514.78,1220.54 515.2,1221.94 515.62,1222.31 516.04,1222.19 516.46,1221.81 516.88,1221.32 517.3,1220.78 517.72,1220.23 518.14,1219.69 518.56,1219.17 518.98,1218.66 519.4,1218.19 519.82,1217.75 520.24,1217.34 520.66,1216.97 521.08,1216.66 521.5,1216.41 521.92,1216.26 521.92,1216.26 521.99,1166.63 522.1,1170.92 522.23,1220.54 522.65,1221.94 523.07,1222.31 523.49,1222.19 523.91,1221.81 524.33,1221.32 524.75,1220.78 525.17,1220.23 525.59,1219.69 526.01,1219.17 526.43,1218.66 526.85,1218.19 527.27,1217.75 527.69,1217.34 528.11,1216.97 528.53,1216.66 528.95,1216.41 529.37,1216.26 529.37,1216.26 529.44,1166.63 529.55,1170.92 529.68,1220.54 530.1,1221.94 530.52,1222.31 530.94,1222.19 531.36,1221.81 531.78,1221.32 532.2,1220.78 532.62,1220.23 533.04,1219.69 533.46,1219.17 533.88,1218.66 534.3,1218.19 534.72,1217.75 535.14,1217.34 535.56,1216.97 535.98,1216.66 536.4,1216.41 536.82,1216.26 536.82,1216.26 536.89,1166.63 537,1170.92 537.13,1220.54 537.55,1221.94 537.97,1222.31 538.39,1222.19 538.81,1221.81 539.23,1221.32 539.65,1220.78 540.07,1220.23 540.49,1219.69 540.91,1219.17 541.33,1218.66 541.75,1218.19 542.17,1217.75 542.59,1217.34 543.01,1216.97 543.43,1216.66 543.85,1216.41 544.27,1216.26 544.27,1216.26 544.34,1166.63 544.45,1170.92 544.58,1220.54 545,1221.94 545.42,1222.31 545.84,1222.19 546.26,1221.81 546.68,1221.32 547.1,1220.78 547.52,1220.23 547.94,1219.69 548.36,1219.17 548.78,1218.66 549.2,1218.19 549.62,1217.75 550.04,1217.34 550.46,1216.97 550.88,1216.66 551.3,1216.41 551.72,1216.26 551.72,1216.26 551.79,1166.63 551.9,1170.92 552.03,1220.54 552.45,1221.94 552.87,1222.31 553.29,1222.19 553.71,1221.81 554.13,1221.32 554.55,1220.78 554.97,1220.23 555.39,1219.69 555.81,1219.17 556.23,1218.66 556.65,1218.19 557.07,1217.75 557.49,1217.34 557.91,1216.97 558.33,1216.66 558.75,1216.41 559.17,1216.26 559.17,1216.26 559.24,1166.63 559.35,1170.92 559.48,1220.54 559.9,1221.94 560.32,1222.31 560.74,1222.19 561.16,1221.81 561.58,1221.32 562,1220.78 562.42,1220.23 562.84,1219.69 563.26,1219.17 563.68,1218.66 564.1,1218.19 564.52,1217.75 564.94,1217.34 565.36,1216.97 565.78,1216.66 566.2,1216.41 566.62,1216.26 566.62,1216.26 566.69,1166.63 566.8,1170.92 566.93,1220.54 567.35,1221.94 567.77,1222.31 568.19,1222.19 568.61,1221.81 569.03,1221.32 569.45,1220.78 569.87,1220.23 570.29,1219.69 570.71,1219.17 571.13,1218.66 571.55,1218.19 571.97,1217.75 572.39,1217.34 572.81,1216.97 573.23,1216.66 573.65,1216.41 574.07,1216.26 574.07,1216.26 574.14,1166.63 574.26,1170.92 574.38,1220.54 574.48,1220.81 574.59,1221 574.7,1221.11 574.8,1221.17 574.91,1221.2 575.01,1221.19 575.12,1221.18 575.22,1221.16 575.33,1221.15 575.43,1221.19" fill="none" stroke="#000" stroke-width="2.4" stroke-linejoin="round" stroke-linecap="butt" clip-path="url(#c8)"/>
<line x1="160.5" y1="1236.5" x2="160.5" y2="1226.9" stroke="#000" stroke-width="1.5" stroke-linecap="butt"/>
<line x1="160.5" y1="1153.4" x2="160.5" y2="1163" stroke="#000" stroke-width="1.5" stroke-linecap="butt"/>
<line x1="263.98" y1="1236.5" x2="263.98" y2="1226.9" stroke="#000" stroke-width="1.5" stroke-linecap="butt"/>
<line x1="263.98" y1="1153.4" x2="263.98" y2="1163" stroke="#000" stroke-width="1.5" stroke-linecap="butt"/>
<line x1="367.45" y1="1236.5" x2="367.45" y2="1226.9" stroke="#000" stroke-width="1.5" stroke-linecap="butt"/>
<line x1="367.45" y1="1153.4" x2="367.45" y2="1163" stroke="#000" stroke-width="1.5" stroke-linecap="butt"/>
<line x1="470.93" y1="1236.5" x2="470.93" y2="1226.9" stroke="#000" stroke-width="1.5" stroke-linecap="butt"/>
<line x1="470.93" y1="1153.4" x2="470.93" y2="1163" stroke="#000" stroke-width="1.5" stroke-linecap="butt"/>
<line x1="574.4" y1="1236.5" x2="574.4" y2="1226.9" stroke="#000" stroke-width="1.5" stroke-linecap="butt"/>
<line x1="574.4" y1="1153.4" x2="574.4" y2="1163" stroke="#000" stroke-width="1.5" stroke-linecap="butt"/>
<line x1="147.8" y1="1177.7" x2="157.4" y2="1177.7" stroke="#000" stroke-width="1.5" stroke-linecap="butt"/>
<line x1="591.2" y1="1177.7" x2="581.6" y2="1177.7" stroke="#000" stroke-width="1.5" stroke-linecap="butt"/>
<line x1="147.8" y1="1213.4" x2="157.4" y2="1213.4" stroke="#000" stroke-width="1.5" stroke-linecap="butt"/>
<line x1="591.2" y1="1213.4" x2="581.6" y2="1213.4" stroke="#000" stroke-width="1.5" stroke-linecap="butt"/>
<rect x="147.8" y="1153.4" width="443.4" height="83.1" fill="none" stroke="#000" stroke-width="2.2"/>
<text x="163.2" y="1275.5" font-size="38.8" text-anchor="middle">0</text>
<text x="266.68" y="1275.5" font-size="38.8" text-anchor="middle">500</text>
<text x="370.15" y="1275.5" font-size="38.8" text-anchor="middle">1000</text>
<text x="473.62" y="1275.5" font-size="38.8" text-anchor="middle">1500</text>
<text x="577.1" y="1275.5" font-size="38.8" text-anchor="middle">2000</text>
<text x="146.1" y="1193.04" font-size="38.8" text-anchor="end">0</text>
<text x="146.1" y="1228.74" font-size="38.8" text-anchor="end">−50</text>
<text x="372.02" y="1317.4" font-size="38.8" text-anchor="middle">Time (ms)</text>
<clipPath id="c9"><rect x="144.7" y="1344.1" width="443.3" height="83.1"/></clipPath>
<polyline points="157.1,1406.15 158.79,1406.15 160.48,1406.15 162.17,1406.15 163.87,1406.15 165.56,1406.15 167.25,1406.15 168.94,1406.15 170.63,1406.15 172.32,1406.15 174.02,1406.15 175.71,1406.15 177.4,1406.15 179.09,1406.15 180.78,1406.15 182.47,1406.15 184.17,1406.15 185.86,1406.15 187.55,1406.15 189.24,1406.15 190.93,1406.15 192.62,1406.15 194.32,1406.15 196.01,1406.15 197.7,1406.15 199.39,1406.15 201.08,1406.15 202.77,1406.15 204.47,1406.15 206.16,1406.15 207.85,1406.15 209.54,1406.15 211.23,1406.15 212.92,1406.15 214.61,1406.15 216.31,1406.15 218,1406.15 219.69,1406.15 221.38,1406.15 223.07,1406.15 224.76,1406.15 226.46,1406.15 228.15,1406.15 229.84,1406.15 231.53,1406.15 233.22,1406.15 234.91,1406.15 236.61,1406.15 238.3,1406.15 239.99,1406.15 241.68,1406.15 243.37,1406.15 245.06,1406.15 246.76,1406.15 248.45,1406.15 250.14,1406.15 251.83,1406.15 253.52,1406.15 255.21,1406.15 256.91,1406.15 258.6,1406.15 260.29,1406.15 261.98,1406.15 263.67,1406.15 265.36,1406.15 267.05,1406.15 268.75,1406.15 270.44,1406.15 272.13,1406.15 273.82,1406.29 275.51,1406.76 277.2,1407.44 278.9,1408.74 280.59,1410.57 282.28,1412.62 283.97,1414.6 285.66,1416.5 287.35,1418.65 289.05,1420.81 290.74,1422.71 292.43,1424.08 294.12,1424.8 295.81,1425.37 297.5,1425.86 299.2,1426.22 300.89,1426.44 302.58,1426.48 304.27,1426.4 305.96,1426.23 307.65,1426 309.34,1425.72 311.04,1425.42 312.73,1425.11 314.42,1424.81 316.11,1424.55 317.8,1424.33 319.49,1424.1 321.19,1423.85 322.88,1423.61 324.57,1423.37 326.26,1423.14 327.95,1422.92 329.64,1422.74 331.34,1422.59 333.03,1422.48 334.72,1422.42 336.41,1422.38 338.1,1422.34 339.79,1422.31 341.49,1422.28 343.18,1422.25 344.87,1422.23 346.56,1422.2 348.25,1422.18 349.94,1422.16 351.64,1422.14 353.33,1422.13 355.02,1422.11 356.71,1422.1 358.4,1422.09 360.09,1422.09 361.78,1422.08 363.48,1422.08 365.17,1422.08 366.86,1422.08 368.55,1422.08 370.24,1422.08 371.93,1422.08 373.63,1422.08 375.32,1422.08 377.01,1422.08 378.7,1422.08 380.39,1422.08 382.08,1422.08 383.78,1422.08 385.47,1422.08 387.16,1422.08 388.85,1422 390.54,1421.59 392.23,1420.95 393.93,1419.33 395.62,1416.86 397.31,1414.35 399,1412.39 400.69,1410.6 402.38,1408.88 404.08,1407.17 405.77,1405.45 407.46,1403.76 409.15,1402.08 409.74,1353.26 410.63,1394.62 412.11,1409.54 415.66,1413.6 419.8,1414.96 426.31,1413.6 438.14,1409.54 452.93,1406.49 476.6,1405.81 512.1,1406.15 571.27,1406.15" fill="none" stroke="#000" stroke-width="2.4" stroke-linejoin="round" stroke-linecap="butt" clip-path="url(#c9)"/>
<line x1="157.1" y1="1427.2" x2="157.1" y2="1417.6" stroke="#000" stroke-width="1.5" stroke-linecap="butt"/>
<line x1="157.1" y1="1344.1" x2="157.1" y2="1353.7" stroke="#000" stroke-width="1.5" stroke-linecap="butt"/>
<line x1="245.85" y1="1427.2" x2="245.85" y2="1417.6" stroke="#000" stroke-width="1.5" stroke-linecap="butt"/>
<line x1="245.85" y1="1344.1" x2="245.85" y2="1353.7" stroke="#000" stroke-width="1.5" stroke-linecap="butt"/>
<line x1="334.6" y1="1427.2" x2="334.6" y2="1417.6" stroke="#000" stroke-width="1.5" stroke-linecap="butt"/>
<line x1="334.6" y1="1344.1" x2="334.6" y2="1353.7" stroke="#000" stroke-width="1.5" stroke-linecap="butt"/>
<line x1="423.35" y1="1427.2" x2="423.35" y2="1417.6" stroke="#000" stroke-width="1.5" stroke-linecap="butt"/>
<line x1="423.35" y1="1344.1" x2="423.35" y2="1353.7" stroke="#000" stroke-width="1.5" stroke-linecap="butt"/>
<line x1="512.1" y1="1427.2" x2="512.1" y2="1417.6" stroke="#000" stroke-width="1.5" stroke-linecap="butt"/>
<line x1="512.1" y1="1344.1" x2="512.1" y2="1353.7" stroke="#000" stroke-width="1.5" stroke-linecap="butt"/>
<line x1="144.7" y1="1367.5" x2="154.3" y2="1367.5" stroke="#000" stroke-width="1.5" stroke-linecap="butt"/>
<line x1="588" y1="1367.5" x2="578.4" y2="1367.5" stroke="#000" stroke-width="1.5" stroke-linecap="butt"/>
<line x1="144.7" y1="1401.4" x2="154.3" y2="1401.4" stroke="#000" stroke-width="1.5" stroke-linecap="butt"/>
<line x1="588" y1="1401.4" x2="578.4" y2="1401.4" stroke="#000" stroke-width="1.5" stroke-linecap="butt"/>
<rect x="144.7" y="1344.1" width="443.3" height="83.1" fill="none" stroke="#000" stroke-width="2.2"/>
<text x="159.8" y="1466.2" font-size="38.8" text-anchor="middle">300</text>
<text x="248.55" y="1466.2" font-size="38.8" text-anchor="middle">450</text>
<text x="337.3" y="1466.2" font-size="38.8" text-anchor="middle">600</text>
<text x="426.05" y="1466.2" font-size="38.8" text-anchor="middle">750</text>
<text x="514.8" y="1466.2" font-size="38.8" text-anchor="middle">900</text>
<text x="143" y="1382.84" font-size="38.8" text-anchor="end">0</text>
<text x="143" y="1416.74" font-size="38.8" text-anchor="end">−50</text>
<text x="368.12" y="1506.5" font-size="38.8" text-anchor="middle">Time (ms)</text>
<text x="42.2" y="1251.82" font-size="38.8" text-anchor="middle" transform="rotate(-90 42.2 1251.82)">GPe potential (mV)</text>
<clipPath id="c10"><rect x="769.4" y="625.5" width="443.5" height="82.5"/></clipPath>
<polyline points="782.5,689.12 783.7,687.69 784.91,686.74 786.11,686.39 787.32,686.11 788.52,685.89 789.73,685.73 790.93,685.61 792.14,685.53 793.34,685.46 794.55,685.41 795.75,685.36 796.96,685.32 798.16,685.28 799.37,685.25 800.57,685.22 801.77,685.19 802.98,685.16 804.18,685.14 805.39,685.12 806.59,685.09 807.8,685.07 809,685.05 810.21,685.03 811.41,685.01 812.62,684.98 813.82,684.95 815.03,684.92 816.23,684.89 817.44,684.86 818.64,684.83 819.84,684.8 821.05,684.78 822.25,684.75 823.46,684.72 824.66,684.7 825.87,684.68 827.07,684.65 828.28,684.63 829.48,684.6 830.69,684.57 831.89,684.54 833.1,684.51 834.3,684.48 835.51,684.44 836.71,684.4 837.91,684.36 839.12,684.31 840.32,684.26 841.53,684.21 842.73,684.15 843.94,684.08 845.14,684.02 846.35,683.92 847.55,683.76 848.76,683.55 849.96,683.31 851.17,683.04 852.37,682.77 853.58,682.5 855.48,680.7 855.81,633.77 856.8,684.91 858.79,687.92 862.09,687.31 864.57,686.11 867.05,689.12 870.36,693.03 875.32,694.23 914.19,694.23 915.12,692.58 916.05,691.12 916.98,689.97 917.91,688.93 918.84,688 919.77,687.25 920.7,686.75 921.63,686.46 922.56,686.21 923.49,686 924.42,685.83 925.35,685.67 926.28,685.53 927.21,685.41 928.14,685.28 929.07,685.16 930,685.02 930.93,684.87 931.86,684.72 932.79,684.56 933.72,684.41 934.65,684.26 935.58,684.11 936.51,683.96 937.44,683.81 938.37,683.66 939.3,683.52 940.23,683.37 941.16,683.23 942.09,683.09 943.02,682.95 943.95,682.81 944.88,682.68 945.81,682.54 946.74,682.41 947.67,682.28 948.6,682.15 949.53,682.02 950.46,681.9 951.28,680.7 951.61,633.77 952.27,683.1 956.92,681.3 957.09,680.7 957.42,633.77 958.08,683.1 963.7,681.3 963.86,680.7 964.19,633.77 964.85,683.1 965.25,684.31 965.64,685.16 966.04,685.2 966.43,685.17 966.82,685.12 967.22,685.05 967.61,684.96 968,684.87 968.4,684.76 968.79,684.66 969.19,684.55 969.58,684.44 969.97,684.35 970.37,684.26 970.76,684.18 971.16,684.11 971.55,684.03 971.94,683.96 972.34,683.87 972.73,683.78 973.13,683.67 973.52,683.55 973.91,683.41 974.31,683.23 974.7,683 975.09,682.7 975.49,682.3 975.88,681.78 976.28,680.7 976.44,680.7 976.77,633.77 977.43,685.51 978.42,685.42 979.4,685.34 980.38,685.25 981.37,685.17 982.35,685.08 983.33,685 984.32,684.92 985.3,684.83 986.28,684.75 987.27,684.67 988.25,684.58 989.23,684.49 990.22,684.4 991.2,684.31 992.18,684.23 993.17,684.14 994.15,684.07 995.13,683.99 996.12,683.9 997.1,683.81 998.09,683.7 999.07,683.57 1000.05,683.43 1001.04,683.24 1002.02,682.98 1003,682.65 1003.99,682.23 1004.97,681.67 1005.95,680.7 1006.12,680.7 1006.45,633.77 1007.11,685.51 1009.03,685.44 1010.94,685.36 1012.86,685.28 1014.78,685.2 1016.7,685.12 1018.62,685.04 1020.53,684.96 1022.45,684.87 1024.37,684.78 1026.29,684.7 1028.2,684.61 1030.12,684.52 1032.04,684.43 1033.96,684.33 1035.88,684.24 1037.79,684.16 1039.71,684.08 1041.63,684 1043.55,683.91 1045.46,683.82 1047.38,683.71 1049.3,683.58 1051.22,683.43 1053.14,683.24 1055.05,682.98 1056.97,682.63 1058.89,682.2 1060.81,681.64 1062.72,680.7 1062.89,680.7 1063.22,633.77 1063.88,685.51 1066.23,685.44 1068.58,685.36 1070.94,685.29 1073.29,685.21 1075.64,685.13 1077.99,685.05 1080.34,684.96 1082.69,684.88 1085.04,684.79 1087.4,684.7 1089.75,684.61 1092.1,684.52 1094.45,684.43 1096.8,684.34 1099.15,684.25 1101.51,684.16 1103.86,684.08 1106.21,684 1108.56,683.91 1110.91,683.82 1113.26,683.71 1115.61,683.58 1117.97,683.43 1120.32,683.24 1122.67,682.97 1125.02,682.63 1127.37,682.2 1129.72,681.63 1132.08,680.7 1132.24,680.7 1132.57,633.77 1133.23,685.51 1135.44,685.44 1137.64,685.36 1139.85,685.29 1142.06,685.21 1144.26,685.13 1146.47,685.04 1148.68,684.96 1150.88,684.88 1153.09,684.79 1155.3,684.7 1157.5,684.61 1159.71,684.52 1161.91,684.43 1164.12,684.34 1166.33,684.24 1168.53,684.16 1170.74,684.08 1172.95,684 1175.15,683.91 1177.36,683.82 1179.57,683.71 1181.77,683.58 1183.98,683.43 1186.18,683.24 1188.39,682.97 1190.6,682.63 1192.8,682.2 1195.01,681.63 1197.22,680.7" fill="none" stroke="#000" stroke-width="2.4" stroke-linejoin="round" stroke-linecap="butt" clip-path="url(#c10)"/>
<line x1="769.4" y1="645.8" x2="779" y2="645.8" stroke="#000" stroke-width="1.5" stroke-linecap="butt"/>
<line x1="1212.9" y1="645.8" x2="1203.3" y2="645.8" stroke="#000" stroke-width="1.5" stroke-linecap="butt"/>
<line x1="769.4" y1="681.9" x2="779" y2="681.9" stroke="#000" stroke-width="1.5" stroke-linecap="butt"/>
<line x1="1212.9" y1="681.9" x2="1203.3" y2="681.9" stroke="#000" stroke-width="1.5" stroke-linecap="butt"/>
<rect x="769.4" y="625.5" width="443.5" height="82.5" fill="none" stroke="#000" stroke-width="2.2"/>
<text x="767.7" y="661.14" font-size="38.8" text-anchor="end">0</text>
<text x="767.7" y="697.24" font-size="38.8" text-anchor="end">−60</text>
<clipPath id="c11"><rect x="769.4" y="719" width="443.5" height="83"/></clipPath>
<polyline points="782.5,782.62 783.7,781.19 784.91,780.24 786.11,779.89 787.32,779.61 788.52,779.39 789.73,779.23 790.93,779.11 792.14,779.03 793.34,778.96 794.55,778.91 795.75,778.86 796.96,778.82 798.16,778.78 799.37,778.75 800.57,778.72 801.77,778.69 802.98,778.66 804.18,778.64 805.39,778.62 806.59,778.59 807.8,778.57 809,778.55 810.21,778.53 811.41,778.51 812.62,778.48 813.82,778.45 815.03,778.42 816.23,778.39 817.44,778.36 818.64,778.33 819.84,778.3 821.05,778.28 822.25,778.25 823.46,778.22 824.66,778.2 825.87,778.18 827.07,778.15 828.28,778.13 829.48,778.1 830.69,778.07 831.89,778.04 833.1,778.01 834.3,777.98 835.51,777.94 836.71,777.9 837.91,777.86 839.12,777.81 840.32,777.76 841.53,777.71 842.73,777.65 843.94,777.58 845.14,777.52 846.35,777.42 847.55,777.26 848.76,777.05 849.96,776.81 851.17,776.54 852.37,776.27 853.58,776 855.48,774.2 855.81,727.27 856.8,778.41 858.79,781.42 862.09,780.81 864.57,779.61 867.05,782.62 870.36,786.53 875.32,787.73 939.35,787.73 940.18,786.25 941.01,784.91 941.84,783.81 942.67,782.86 943.5,781.98 944.33,781.2 945.16,780.59 945.99,780.2 946.82,779.95 947.65,779.73 948.48,779.55 949.32,779.39 950.15,779.25 950.98,779.12 951.81,779.01 952.64,778.9 953.47,778.79 954.3,778.67 955.13,778.54 955.96,778.39 956.79,778.24 957.62,778.08 958.45,777.93 959.28,777.77 960.11,777.62 960.95,777.46 961.78,777.31 962.61,777.15 963.44,776.99 964.27,776.83 965.1,776.68 965.93,776.52 966.76,776.36 967.59,776.2 968.42,776.04 969.25,775.88 970.08,775.72 970.91,775.56 971.74,775.4 972.57,774.2 972.9,727.27 973.56,776.6 977.89,774.8 978.05,774.2 978.39,727.27 979.05,776.6 983.7,774.8 983.86,774.2 984.19,727.27 984.85,776.6 989.5,774.8 989.67,774.2 990,727.27 990.66,776.6 995.31,774.8 995.47,774.2 995.8,727.27 996.46,779.01 996.8,778.84 997.14,778.7 997.48,778.59 997.82,778.5 998.16,778.41 998.49,778.33 998.83,778.26 999.17,778.19 999.51,778.12 999.85,778.05 1000.19,777.98 1000.52,777.91 1000.86,777.83 1001.2,777.75 1001.54,777.67 1001.88,777.6 1002.22,777.52 1002.55,777.45 1002.89,777.36 1003.23,777.27 1003.57,777.17 1003.91,777.05 1004.25,776.9 1004.58,776.73 1004.92,776.51 1005.26,776.21 1005.6,775.82 1005.94,775.32 1006.28,774.2 1006.44,774.2 1006.77,727.27 1007.43,779.01 1008.27,778.92 1009.11,778.83 1009.95,778.74 1010.79,778.65 1011.63,778.57 1012.46,778.49 1013.3,778.4 1014.14,778.32 1014.98,778.24 1015.82,778.15 1016.66,778.07 1017.5,777.99 1018.34,777.9 1019.18,777.81 1020.01,777.72 1020.85,777.64 1021.69,777.56 1022.53,777.48 1023.37,777.4 1024.21,777.3 1025.05,777.2 1025.89,777.07 1026.72,776.92 1027.56,776.74 1028.4,776.48 1029.24,776.15 1030.08,775.74 1030.92,775.18 1031.76,774.2 1031.92,774.2 1032.25,727.27 1032.91,779.01 1034.72,778.94 1036.53,778.86 1038.33,778.78 1040.14,778.7 1041.95,778.62 1043.75,778.54 1045.56,778.45 1047.37,778.37 1049.17,778.28 1050.98,778.19 1052.79,778.11 1054.59,778.02 1056.4,777.92 1058.21,777.83 1060.01,777.74 1061.82,777.66 1063.63,777.58 1065.43,777.5 1067.24,777.41 1069.04,777.32 1070.85,777.21 1072.66,777.08 1074.46,776.93 1076.27,776.74 1078.08,776.48 1079.88,776.13 1081.69,775.7 1083.5,775.14 1085.3,774.2 1085.47,774.2 1085.8,727.27 1086.46,779.01 1088.78,778.94 1091.1,778.86 1093.41,778.79 1095.73,778.71 1098.05,778.63 1100.37,778.55 1102.69,778.46 1105.01,778.38 1107.32,778.29 1109.64,778.2 1111.96,778.11 1114.28,778.02 1116.6,777.93 1118.91,777.84 1121.23,777.75 1123.55,777.66 1125.87,777.58 1128.19,777.5 1130.51,777.41 1132.82,777.32 1135.14,777.21 1137.46,777.08 1139.78,776.93 1142.1,776.74 1144.41,776.47 1146.73,776.13 1149.05,775.7 1151.37,775.13 1153.69,774.2 1153.85,774.2 1154.18,727.27 1154.84,779.01 1156.31,778.93 1157.77,778.85 1159.23,778.77 1160.69,778.69 1162.15,778.61 1163.61,778.53 1165.07,778.44 1166.53,778.36 1167.99,778.27 1169.46,778.19 1170.92,778.1 1172.38,778.01 1173.84,777.92 1175.3,777.83 1176.76,777.74 1178.22,777.65 1179.68,777.57 1181.14,777.49 1182.61,777.41 1184.07,777.31 1185.53,777.2 1186.99,777.08 1188.45,776.93 1189.91,776.74 1191.37,776.48 1192.83,776.14 1194.29,775.71 1195.76,775.15 1197.22,774.2" fill="none" stroke="#000" stroke-width="2.4" stroke-linejoin="round" stroke-linecap="butt" clip-path="url(#c11)"/>
<line x1="769.4" y1="739.3" x2="779" y2="739.3" stroke="#000" stroke-width="1.5" stroke-linecap="butt"/>
<line x1="1212.9" y1="739.3" x2="1203.3" y2="739.3" stroke="#000" stroke-width="1.5" stroke-linecap="butt"/>
<line x1="769.4" y1="775.4" x2="779" y2="775.4" stroke="#000" stroke-width="1.5" stroke-linecap="butt"/>
<line x1="1212.9" y1="775.4" x2="1203.3" y2="775.4" stroke="#000" stroke-width="1.5" stroke-linecap="butt"/>
<rect x="769.4" y="719" width="443.5" height="83" fill="none" stroke="#000" stroke-width="2.2"/>
<text x="767.7" y="754.64" font-size="38.8" text-anchor="end">0</text>
<text x="767.7" y="790.74" font-size="38.8" text-anchor="end">−60</text>
<clipPath id="c12"><rect x="769.4" y="813.2" width="443.5" height="82.9"/></clipPath>
<polyline points="782.5,876.82 783.7,875.39 784.91,874.44 786.11,874.09 787.32,873.81 788.52,873.59 789.73,873.43 790.93,873.31 792.14,873.23 793.34,873.16 794.55,873.11 795.75,873.06 796.96,873.02 798.16,872.98 799.37,872.95 800.57,872.92 801.77,872.89 802.98,872.86 804.18,872.84 805.39,872.82 806.59,872.79 807.8,872.77 809,872.75 810.21,872.73 811.41,872.71 812.62,872.68 813.82,872.65 815.03,872.62 816.23,872.59 817.44,872.56 818.64,872.53 819.84,872.5 821.05,872.48 822.25,872.45 823.46,872.42 824.66,872.4 825.87,872.38 827.07,872.35 828.28,872.33 829.48,872.3 830.69,872.27 831.89,872.24 833.1,872.21 834.3,872.18 835.51,872.14 836.71,872.1 837.91,872.06 839.12,872.01 840.32,871.96 841.53,871.91 842.73,871.85 843.94,871.78 845.14,871.72 846.35,871.62 847.55,871.46 848.76,871.25 849.96,871.01 851.17,870.74 852.37,870.47 853.58,870.2 855.48,868.4 855.81,821.47 856.8,872.61 858.79,875.62 862.09,875.01 864.57,873.81 867.05,876.82 870.36,880.73 875.32,881.93 964.51,881.93 965.29,880.53 966.07,879.26 966.85,878.18 967.63,877.29 968.41,876.43 969.19,875.66 969.97,875.02 970.76,874.56 971.54,874.28 972.32,874.06 973.1,873.87 973.88,873.7 974.66,873.56 975.44,873.44 976.22,873.32 977,873.22 977.79,873.11 978.57,873.01 979.35,872.9 980.13,872.77 980.91,872.63 981.69,872.48 982.47,872.32 983.25,872.17 984.03,872.01 984.82,871.85 985.6,871.68 986.38,871.52 987.16,871.35 987.94,871.19 988.72,871.02 989.5,870.85 990.28,870.67 991.06,870.5 991.84,870.32 992.63,870.14 993.41,869.96 994.19,869.78 994.97,869.6 995.8,868.4 996.13,821.47 996.79,870.8 1001.44,869 1001.6,868.4 1001.93,821.47 1002.59,870.8 1006.92,869 1007.09,868.4 1007.42,821.47 1008.08,870.8 1012.4,869 1012.57,868.4 1012.9,821.47 1013.56,870.8 1017.89,869 1018.05,868.4 1018.38,821.47 1019.04,870.8 1023.05,869 1023.21,868.4 1023.54,821.47 1024.21,873.21 1032.73,869 1032.89,868.4 1033.22,821.47 1033.88,873.21 1034.54,873.11 1035.2,873.01 1035.86,872.92 1036.53,872.83 1037.19,872.74 1037.85,872.66 1038.51,872.58 1039.17,872.5 1039.83,872.42 1040.49,872.34 1041.15,872.25 1041.81,872.17 1042.47,872.08 1043.13,872 1043.8,871.91 1044.46,871.83 1045.12,871.75 1045.78,871.68 1046.44,871.59 1047.1,871.5 1047.76,871.39 1048.42,871.27 1049.08,871.12 1049.74,870.94 1050.4,870.69 1051.06,870.36 1051.73,869.95 1052.39,869.41 1053.05,868.4 1053.21,868.4 1053.54,821.47 1054.2,873.21 1055.8,873.13 1057.39,873.06 1058.99,872.98 1060.58,872.9 1062.18,872.81 1063.77,872.73 1065.37,872.65 1066.97,872.56 1068.56,872.48 1070.16,872.39 1071.75,872.3 1073.35,872.21 1074.94,872.12 1076.54,872.03 1078.13,871.94 1079.73,871.86 1081.32,871.78 1082.92,871.69 1084.51,871.61 1086.11,871.51 1087.7,871.41 1089.3,871.28 1090.89,871.13 1092.49,870.94 1094.08,870.68 1095.68,870.33 1097.27,869.91 1098.87,869.35 1100.46,868.4 1100.63,868.4 1100.96,821.47 1101.62,873.21 1103.86,873.14 1106.1,873.06 1108.34,872.99 1110.58,872.91 1112.82,872.83 1115.06,872.74 1117.3,872.66 1119.54,872.58 1121.78,872.49 1124.02,872.4 1126.26,872.31 1128.5,872.22 1130.74,872.13 1132.99,872.04 1135.23,871.94 1137.47,871.86 1139.71,871.78 1141.95,871.7 1144.19,871.61 1146.43,871.52 1148.67,871.41 1150.91,871.28 1153.15,871.13 1155.39,870.94 1157.63,870.67 1159.87,870.33 1162.11,869.9 1164.35,869.33 1166.59,868.4 1166.75,868.4 1167.09,821.47 1167.75,873.21 1168.76,873.13 1169.78,873.04 1170.8,872.96 1171.81,872.87 1172.83,872.79 1173.84,872.7 1174.86,872.62 1175.88,872.54 1176.89,872.45 1177.91,872.37 1178.92,872.28 1179.94,872.2 1180.96,872.11 1181.97,872.02 1182.99,871.93 1184.01,871.85 1185.02,871.77 1186.04,871.69 1187.05,871.6 1188.07,871.51 1189.09,871.4 1190.1,871.27 1191.12,871.13 1192.14,870.94 1193.15,870.68 1194.17,870.35 1195.18,869.93 1196.2,869.37 1197.22,868.4" fill="none" stroke="#000" stroke-width="2.4" stroke-linejoin="round" stroke-linecap="butt" clip-path="url(#c12)"/>
<line x1="769.4" y1="833.5" x2="779" y2="833.5" stroke="#000" stroke-width="1.5" stroke-linecap="butt"/>
<line x1="1212.9" y1="833.5" x2="1203.3" y2="833.5" stroke="#000" stroke-width="1.5" stroke-linecap="butt"/>
<line x1="769.4" y1="869.6" x2="779" y2="869.6" stroke="#000" stroke-width="1.5" stroke-linecap="butt"/>
<line x1="1212.9" y1="869.6" x2="1203.3" y2="869.6" stroke="#000" stroke-width="1.5" stroke-linecap="butt"/>
<rect x="769.4" y="813.2" width="443.5" height="82.9" fill="none" stroke="#000" stroke-width="2.2"/>
<text x="767.7" y="848.84" font-size="38.8" text-anchor="end">0</text>
<text x="767.7" y="884.94" font-size="38.8" text-anchor="end">−60</text>
<clipPath id="c13"><rect x="769.4" y="906.8" width="443.5" height="83.2"/></clipPath>
<polyline points="782.5,970.42 783.7,968.99 784.91,968.04 786.11,967.69 787.32,967.41 788.52,967.19 789.73,967.03 790.93,966.91 792.14,966.83 793.34,966.76 794.55,966.71 795.75,966.66 796.96,966.62 798.16,966.58 799.37,966.55 800.57,966.52 801.77,966.49 802.98,966.46 804.18,966.44 805.39,966.42 806.59,966.39 807.8,966.37 809,966.35 810.21,966.33 811.41,966.31 812.62,966.28 813.82,966.25 815.03,966.22 816.23,966.19 817.44,966.16 818.64,966.13 819.84,966.1 821.05,966.08 822.25,966.05 823.46,966.02 824.66,966 825.87,965.98 827.07,965.95 828.28,965.93 829.48,965.9 830.69,965.87 831.89,965.84 833.1,965.81 834.3,965.78 835.51,965.74 836.71,965.7 837.91,965.66 839.12,965.61 840.32,965.56 841.53,965.51 842.73,965.45 843.94,965.38 845.14,965.32 846.35,965.22 847.55,965.06 848.76,964.85 849.96,964.61 851.17,964.34 852.37,964.07 853.58,963.8 855.48,962 855.81,915.07 856.8,966.21 858.79,969.22 862.09,968.61 864.57,967.41 867.05,970.42 870.36,974.33 875.32,975.53 914.19,975.53 915.35,973.49 916.51,971.81 917.67,970.48 918.83,969.3 919.99,968.4 921.16,967.9 922.32,967.57 923.48,967.29 924.64,967.06 925.8,966.87 926.96,966.7 928.13,966.54 929.29,966.4 930.45,966.25 931.61,966.08 932.77,965.92 933.93,965.77 935.09,965.61 936.26,965.46 937.42,965.3 938.58,965.15 939.74,965.01 940.9,964.86 942.06,964.72 943.23,964.59 944.39,964.45 945.55,964.32 946.71,964.2 947.87,964.08 949.03,963.97 950.19,963.86 951.36,963.75 952.52,963.65 953.68,963.56 954.84,963.48 956,963.4 957.16,963.32 958.33,963.26 959.49,963.2 960.31,962 960.64,915.07 961.31,966.81 962.57,966.73 963.83,966.65 965.09,966.57 966.35,966.48 967.61,966.4 968.87,966.32 970.14,966.23 971.4,966.15 972.66,966.07 973.92,965.98 975.18,965.89 976.44,965.8 977.7,965.71 978.97,965.62 980.23,965.53 981.49,965.45 982.75,965.37 984.01,965.29 985.27,965.21 986.54,965.11 987.8,965 989.06,964.88 990.32,964.73 991.58,964.54 992.84,964.28 994.1,963.94 995.37,963.52 996.63,962.96 997.89,962 998.05,962 998.38,915.07 999.05,966.81 1001.1,966.74 1003.15,966.66 1005.2,966.58 1007.25,966.51 1009.3,966.42 1011.35,966.34 1013.4,966.26 1015.46,966.17 1017.51,966.09 1019.56,966 1021.61,965.91 1023.66,965.82 1025.71,965.73 1027.76,965.63 1029.81,965.54 1031.86,965.46 1033.92,965.38 1035.97,965.3 1038.02,965.21 1040.07,965.12 1042.12,965.01 1044.17,964.88 1046.22,964.73 1048.27,964.54 1050.33,964.27 1052.38,963.93 1054.43,963.5 1056.48,962.94 1058.53,962 1058.7,962 1059.03,915.07 1059.69,966.81 1062.12,966.74 1064.55,966.66 1066.98,966.59 1069.41,966.51 1071.83,966.43 1074.26,966.35 1076.69,966.26 1079.12,966.18 1081.55,966.09 1083.98,966 1086.41,965.91 1088.84,965.82 1091.27,965.73 1093.7,965.64 1096.13,965.55 1098.56,965.46 1100.99,965.38 1103.42,965.3 1105.85,965.21 1108.28,965.12 1110.7,965.01 1113.13,964.88 1115.56,964.73 1117.99,964.54 1120.42,964.27 1122.85,963.93 1125.28,963.5 1127.71,962.93 1130.14,962 1130.31,962 1130.64,915.07 1131.3,966.81 1133.57,966.74 1135.84,966.66 1138.12,966.59 1140.39,966.51 1142.66,966.43 1144.94,966.35 1147.21,966.26 1149.48,966.18 1151.75,966.09 1154.03,966 1156.3,965.91 1158.57,965.82 1160.85,965.73 1163.12,965.64 1165.39,965.54 1167.67,965.46 1169.94,965.38 1172.21,965.3 1174.49,965.21 1176.76,965.12 1179.03,965.01 1181.31,964.88 1183.58,964.73 1185.85,964.54 1188.12,964.27 1190.4,963.93 1192.67,963.5 1194.94,962.93 1197.22,962" fill="none" stroke="#000" stroke-width="2.4" stroke-linejoin="round" stroke-linecap="butt" clip-path="url(#c13)"/>
<line x1="769.4" y1="927.1" x2="779" y2="927.1" stroke="#000" stroke-width="1.5" stroke-linecap="butt"/>
<line x1="1212.9" y1="927.1" x2="1203.3" y2="927.1" stroke="#000" stroke-width="1.5" stroke-linecap="butt"/>
<line x1="769.4" y1="963.2" x2="779" y2="963.2" stroke="#000" stroke-width="1.5" stroke-linecap="butt"/>
<line x1="1212.9" y1="963.2" x2="1203.3" y2="963.2" stroke="#000" stroke-width="1.5" stroke-linecap="butt"/>
<rect x="769.4" y="906.8" width="443.5" height="83.2" fill="none" stroke="#000" stroke-width="2.2"/>
<text x="767.7" y="942.44" font-size="38.8" text-anchor="end">0</text>
<text x="767.7" y="978.54" font-size="38.8" text-anchor="end">−60</text>
<clipPath id="c14"><rect x="769.4" y="1001" width="443.5" height="83.2"/></clipPath>
<polyline points="782.5,1064.62 783.7,1063.19 784.91,1062.24 786.11,1061.89 787.32,1061.61 788.52,1061.39 789.73,1061.23 790.93,1061.11 792.14,1061.03 793.34,1060.96 794.55,1060.91 795.75,1060.86 796.96,1060.82 798.16,1060.78 799.37,1060.75 800.57,1060.72 801.77,1060.69 802.98,1060.66 804.18,1060.64 805.39,1060.62 806.59,1060.59 807.8,1060.57 809,1060.55 810.21,1060.53 811.41,1060.51 812.62,1060.48 813.82,1060.45 815.03,1060.42 816.23,1060.39 817.44,1060.36 818.64,1060.33 819.84,1060.3 821.05,1060.28 822.25,1060.25 823.46,1060.22 824.66,1060.2 825.87,1060.18 827.07,1060.15 828.28,1060.13 829.48,1060.1 830.69,1060.07 831.89,1060.04 833.1,1060.01 834.3,1059.98 835.51,1059.94 836.71,1059.9 837.91,1059.86 839.12,1059.81 840.32,1059.76 841.53,1059.71 842.73,1059.65 843.94,1059.58 845.14,1059.52 846.35,1059.42 847.55,1059.26 848.76,1059.05 849.96,1058.81 851.17,1058.54 852.37,1058.27 853.58,1058 855.48,1056.2 855.81,1009.27 856.8,1060.41 858.79,1063.42 862.09,1062.82 864.57,1061.61 867.05,1064.62 870.36,1068.53 875.32,1069.73 914.19,1069.73 915.12,1068.08 916.05,1066.62 916.98,1065.47 917.91,1064.43 918.84,1063.5 919.77,1062.75 920.7,1062.25 921.63,1061.96 922.56,1061.71 923.49,1061.5 924.42,1061.33 925.35,1061.17 926.28,1061.03 927.21,1060.91 928.14,1060.78 929.07,1060.66 930,1060.52 930.93,1060.37 931.86,1060.22 932.79,1060.06 933.72,1059.91 934.65,1059.76 935.58,1059.61 936.51,1059.46 937.44,1059.31 938.37,1059.16 939.3,1059.02 940.23,1058.87 941.16,1058.73 942.09,1058.59 943.02,1058.45 943.95,1058.31 944.88,1058.18 945.81,1058.04 946.74,1057.91 947.67,1057.78 948.6,1057.65 949.53,1057.52 950.46,1057.4 951.28,1056.2 951.61,1009.27 952.27,1058.6 956.92,1056.8 957.09,1056.2 957.42,1009.27 958.08,1058.6 963.7,1056.8 963.86,1056.2 964.19,1009.27 964.85,1058.6 965.25,1059.81 965.64,1060.66 966.04,1060.7 966.43,1060.67 966.82,1060.62 967.22,1060.55 967.61,1060.46 968,1060.37 968.4,1060.26 968.79,1060.16 969.19,1060.05 969.58,1059.94 969.97,1059.85 970.37,1059.76 970.76,1059.68 971.16,1059.61 971.55,1059.53 971.94,1059.46 972.34,1059.37 972.73,1059.28 973.13,1059.17 973.52,1059.05 973.91,1058.91 974.31,1058.73 974.7,1058.5 975.09,1058.2 975.49,1057.8 975.88,1057.28 976.28,1056.2 976.44,1056.2 976.77,1009.27 977.43,1061.01 978.42,1060.92 979.4,1060.84 980.38,1060.75 981.37,1060.67 982.35,1060.58 983.33,1060.5 984.32,1060.42 985.3,1060.33 986.28,1060.25 987.27,1060.17 988.25,1060.08 989.23,1059.99 990.22,1059.9 991.2,1059.81 992.18,1059.73 993.17,1059.64 994.15,1059.57 995.13,1059.49 996.12,1059.4 997.1,1059.31 998.09,1059.2 999.07,1059.07 1000.05,1058.93 1001.04,1058.74 1002.02,1058.48 1003,1058.15 1003.99,1057.73 1004.97,1057.17 1005.95,1056.2 1006.12,1056.2 1006.45,1009.27 1007.11,1061.01 1009.03,1060.94 1010.94,1060.86 1012.86,1060.78 1014.78,1060.7 1016.7,1060.62 1018.62,1060.54 1020.53,1060.46 1022.45,1060.37 1024.37,1060.28 1026.29,1060.2 1028.2,1060.11 1030.12,1060.02 1032.04,1059.93 1033.96,1059.83 1035.88,1059.74 1037.79,1059.66 1039.71,1059.58 1041.63,1059.5 1043.55,1059.41 1045.46,1059.32 1047.38,1059.21 1049.3,1059.08 1051.22,1058.93 1053.14,1058.74 1055.05,1058.48 1056.97,1058.13 1058.89,1057.7 1060.81,1057.14 1062.72,1056.2 1062.89,1056.2 1063.22,1009.27 1063.88,1061.01 1066.23,1060.94 1068.58,1060.86 1070.94,1060.79 1073.29,1060.71 1075.64,1060.63 1077.99,1060.55 1080.34,1060.46 1082.69,1060.38 1085.04,1060.29 1087.4,1060.2 1089.75,1060.11 1092.1,1060.02 1094.45,1059.93 1096.8,1059.84 1099.15,1059.75 1101.51,1059.66 1103.86,1059.58 1106.21,1059.5 1108.56,1059.41 1110.91,1059.32 1113.26,1059.21 1115.61,1059.08 1117.97,1058.93 1120.32,1058.74 1122.67,1058.47 1125.02,1058.13 1127.37,1057.7 1129.72,1057.13 1132.08,1056.2 1132.24,1056.2 1132.57,1009.27 1133.23,1061.01 1135.44,1060.94 1137.64,1060.86 1139.85,1060.79 1142.06,1060.71 1144.26,1060.63 1146.47,1060.54 1148.68,1060.46 1150.88,1060.38 1153.09,1060.29 1155.3,1060.2 1157.5,1060.11 1159.71,1060.02 1161.91,1059.93 1164.12,1059.84 1166.33,1059.74 1168.53,1059.66 1170.74,1059.58 1172.95,1059.5 1175.15,1059.41 1177.36,1059.32 1179.57,1059.21 1181.77,1059.08 1183.98,1058.93 1186.18,1058.74 1188.39,1058.47 1190.6,1058.13 1192.8,1057.7 1195.01,1057.13 1197.22,1056.2" fill="none" stroke="#000" stroke-width="2.4" stroke-linejoin="round" stroke-linecap="butt" clip-path="url(#c14)"/>
<line x1="769.4" y1="1021.3" x2="779" y2="1021.3" stroke="#000" stroke-width="1.5" stroke-linecap="butt"/>
<line x1="1212.9" y1="1021.3" x2="1203.3" y2="1021.3" stroke="#000" stroke-width="1.5" stroke-linecap="butt"/>
<line x1="769.4" y1="1057.4" x2="779" y2="1057.4" stroke="#000" stroke-width="1.5" stroke-linecap="butt"/>
<line x1="1212.9" y1="1057.4" x2="1203.3" y2="1057.4" stroke="#000" stroke-width="1.5" stroke-linecap="butt"/>
<rect x="769.4" y="1001" width="443.5" height="83.2" fill="none" stroke="#000" stroke-width="2.2"/>
<text x="767.7" y="1036.64" font-size="38.8" text-anchor="end">0</text>
<text x="767.7" y="1072.74" font-size="38.8" text-anchor="end">−60</text>
<clipPath id="c15"><rect x="769.4" y="1094.8" width="443.5" height="83.2"/></clipPath>
<polyline points="782.5,1158.42 783.7,1156.99 784.91,1156.04 786.11,1155.69 787.32,1155.41 788.52,1155.19 789.73,1155.03 790.93,1154.91 792.14,1154.83 793.34,1154.76 794.55,1154.71 795.75,1154.66 796.96,1154.62 798.16,1154.58 799.37,1154.55 800.57,1154.52 801.77,1154.49 802.98,1154.46 804.18,1154.44 805.39,1154.42 806.59,1154.39 807.8,1154.37 809,1154.35 810.21,1154.33 811.41,1154.31 812.62,1154.28 813.82,1154.25 815.03,1154.22 816.23,1154.19 817.44,1154.16 818.64,1154.13 819.84,1154.1 821.05,1154.08 822.25,1154.05 823.46,1154.02 824.66,1154 825.87,1153.98 827.07,1153.95 828.28,1153.93 829.48,1153.9 830.69,1153.87 831.89,1153.84 833.1,1153.81 834.3,1153.78 835.51,1153.74 836.71,1153.7 837.91,1153.66 839.12,1153.61 840.32,1153.56 841.53,1153.51 842.73,1153.45 843.94,1153.38 845.14,1153.32 846.35,1153.22 847.55,1153.06 848.76,1152.85 849.96,1152.61 851.17,1152.34 852.37,1152.07 853.58,1151.8 854.79,1150 855.12,1103.07 856.11,1154.21 858.1,1157.22 861.4,1156.62 863.88,1155.41 866.36,1158.42 869.67,1162.33 874.63,1163.53 915,1163.53 915.79,1162.11 916.59,1160.82 917.38,1159.74 918.17,1158.83 918.97,1157.97 919.76,1157.2 920.55,1156.56 921.35,1156.11 922.14,1155.85 922.93,1155.63 923.73,1155.44 924.52,1155.27 925.31,1155.13 926.11,1155.01 926.9,1154.89 927.7,1154.79 928.49,1154.68 929.28,1154.57 930.08,1154.46 930.87,1154.33 931.66,1154.18 932.46,1154.03 933.25,1153.87 934.04,1153.72 934.84,1153.56 935.63,1153.4 936.42,1153.24 937.22,1153.07 938.01,1152.91 938.8,1152.75 939.6,1152.58 940.39,1152.41 941.18,1152.24 941.98,1152.07 942.77,1151.9 943.56,1151.73 944.36,1151.55 945.15,1151.38 945.94,1151.2 946.77,1150 947.1,1103.07 947.76,1152.4 952.05,1150.6 952.22,1150 952.55,1103.07 953.21,1152.4 957.19,1150.6 957.36,1150 957.69,1103.07 958.35,1152.4 962.64,1150.6 962.8,1150 963.14,1103.07 963.8,1152.4 967.78,1150.6 967.95,1150 968.28,1103.07 968.94,1152.4 973.23,1150.6 973.39,1150 973.72,1103.07 974.39,1154.81 974.84,1154.68 975.29,1154.57 975.74,1154.46 976.19,1154.37 976.64,1154.28 977.09,1154.2 977.54,1154.12 977.99,1154.04 978.44,1153.97 978.89,1153.89 979.34,1153.82 979.79,1153.74 980.24,1153.66 980.69,1153.57 981.14,1153.49 981.59,1153.41 982.04,1153.34 982.49,1153.26 982.94,1153.18 983.4,1153.08 983.85,1152.98 984.3,1152.86 984.75,1152.71 985.2,1152.53 985.65,1152.3 986.1,1151.99 986.55,1151.59 987,1151.06 987.45,1150 987.61,1150 987.95,1103.07 988.61,1154.81 989.51,1154.72 990.4,1154.63 991.3,1154.55 992.2,1154.46 993.1,1154.38 994,1154.29 994.9,1154.21 995.8,1154.13 996.7,1154.04 997.6,1153.96 998.5,1153.88 999.4,1153.79 1000.29,1153.7 1001.19,1153.61 1002.09,1153.52 1002.99,1153.44 1003.89,1153.36 1004.79,1153.28 1005.69,1153.2 1006.59,1153.1 1007.49,1153 1008.39,1152.87 1009.28,1152.72 1010.18,1152.54 1011.08,1152.28 1011.98,1151.95 1012.88,1151.53 1013.78,1150.98 1014.68,1150 1014.84,1150 1015.18,1103.07 1015.84,1154.81 1017.78,1154.74 1019.72,1154.66 1021.66,1154.58 1023.61,1154.5 1025.55,1154.42 1027.49,1154.34 1029.43,1154.26 1031.38,1154.17 1033.32,1154.08 1035.26,1154 1037.2,1153.91 1039.14,1153.82 1041.09,1153.73 1043.03,1153.63 1044.97,1153.54 1046.91,1153.46 1048.86,1153.38 1050.8,1153.3 1052.74,1153.21 1054.68,1153.12 1056.63,1153.01 1058.57,1152.88 1060.51,1152.73 1062.45,1152.54 1064.4,1152.28 1066.34,1151.93 1068.28,1151.5 1070.22,1150.94 1072.17,1150 1072.33,1150 1072.66,1103.07 1073.32,1154.81 1075.65,1154.74 1077.98,1154.66 1080.31,1154.59 1082.64,1154.51 1084.96,1154.43 1087.29,1154.35 1089.62,1154.26 1091.95,1154.18 1094.28,1154.09 1096.61,1154 1098.93,1153.91 1101.26,1153.82 1103.59,1153.73 1105.92,1153.64 1108.25,1153.55 1110.58,1153.46 1112.9,1153.38 1115.23,1153.3 1117.56,1153.21 1119.89,1153.12 1122.22,1153.01 1124.55,1152.88 1126.88,1152.73 1129.2,1152.54 1131.53,1152.27 1133.86,1151.93 1136.19,1151.5 1138.52,1150.93 1140.85,1150 1141.01,1150 1141.34,1103.07 1142,1154.81 1143.91,1154.74 1145.81,1154.66 1147.71,1154.58 1149.62,1154.5 1151.52,1154.42 1153.43,1154.34 1155.33,1154.25 1157.23,1154.17 1159.14,1154.08 1161.04,1154 1162.95,1153.91 1164.85,1153.82 1166.75,1153.73 1168.66,1153.63 1170.56,1153.54 1172.47,1153.46 1174.37,1153.38 1176.27,1153.3 1178.18,1153.21 1180.08,1153.12 1181.99,1153.01 1183.89,1152.88 1185.79,1152.73 1187.7,1152.54 1189.6,1152.28 1191.5,1151.93 1193.41,1151.5 1195.31,1150.94 1197.22,1150" fill="none" stroke="#000" stroke-width="2.4" stroke-linejoin="round" stroke-linecap="butt" clip-path="url(#c15)"/>
<line x1="782.5" y1="1178" x2="782.5" y2="1168.4" stroke="#000" stroke-width="1.5" stroke-linecap="butt"/>
<line x1="782.5" y1="1094.8" x2="782.5" y2="1104.4" stroke="#000" stroke-width="1.5" stroke-linecap="butt"/>
<line x1="881.67" y1="1178" x2="881.67" y2="1168.4" stroke="#000" stroke-width="1.5" stroke-linecap="butt"/>
<line x1="881.67" y1="1094.8" x2="881.67" y2="1104.4" stroke="#000" stroke-width="1.5" stroke-linecap="butt"/>
<line x1="980.85" y1="1178" x2="980.85" y2="1168.4" stroke="#000" stroke-width="1.5" stroke-linecap="butt"/>
<line x1="980.85" y1="1094.8" x2="980.85" y2="1104.4" stroke="#000" stroke-width="1.5" stroke-linecap="butt"/>
<line x1="1080.03" y1="1178" x2="1080.03" y2="1168.4" stroke="#000" stroke-width="1.5" stroke-linecap="butt"/>
<line x1="1080.03" y1="1094.8" x2="1080.03" y2="1104.4" stroke="#000" stroke-width="1.5" stroke-linecap="butt"/>
<line x1="1179.2" y1="1178" x2="1179.2" y2="1168.4" stroke="#000" stroke-width="1.5" stroke-linecap="butt"/>
<line x1="1179.2" y1="1094.8" x2="1179.2" y2="1104.4" stroke="#000" stroke-width="1.5" stroke-linecap="butt"/>
<line x1="769.4" y1="1115.1" x2="779" y2="1115.1" stroke="#000" stroke-width="1.5" stroke-linecap="butt"/>
<line x1="1212.9" y1="1115.1" x2="1203.3" y2="1115.1" stroke="#000" stroke-width="1.5" stroke-linecap="butt"/>
<line x1="769.4" y1="1151.2" x2="779" y2="1151.2" stroke="#000" stroke-width="1.5" stroke-linecap="butt"/>
<line x1="1212.9" y1="1151.2" x2="1203.3" y2="1151.2" stroke="#000" stroke-width="1.5" stroke-linecap="butt"/>
<rect x="769.4" y="1094.8" width="443.5" height="83.2" fill="none" stroke="#000" stroke-width="2.2"/>
<text x="785.2" y="1217" font-size="38.8" text-anchor="middle">0</text>
<text x="884.38" y="1217" font-size="38.8" text-anchor="middle">600</text>
<text x="983.55" y="1217" font-size="38.8" text-anchor="middle">1200</text>
<text x="1082.73" y="1217" font-size="38.8" text-anchor="middle">1800</text>
<text x="1181.9" y="1217" font-size="38.8" text-anchor="middle">2400</text>
<text x="767.7" y="1130.44" font-size="38.8" text-anchor="end">0</text>
<text x="767.7" y="1166.54" font-size="38.8" text-anchor="end">−60</text>
<text x="993.12" y="1257.3" font-size="38.8" text-anchor="middle">Time (ms)</text>
<text x="666.6" y="894.31" font-size="38.8" text-anchor="middle" transform="rotate(-90 666.6 894.31)">STN potential (mV)</text>
<clipPath id="c16"><rect x="770.4" y="1296.6" width="443.6" height="82.6"/></clipPath>
<polyline points="783.39,1377.7 807.59,1370.74 830.89,1365.6 854.49,1361.66 878.09,1353.49 901.69,1348.05 925.6,1343.51 949.2,1337.76 972.5,1333.52 996.1,1326.87 1020,1322.03 1043.6,1317.49 1067.2,1313.25 1090.8,1309.62 1114.4,1307.5 1138,1302.06 1161.6,1298.12 1185.2,1298.12" fill="none" stroke="#000" stroke-width="3" stroke-linejoin="round" stroke-linecap="butt" clip-path="url(#c16)"/>
<rect x="779.79" y="1374.1" width="7.2" height="7.2" fill="#000" stroke="none" stroke-width="0" clip-path="url(#c16)"/>
<rect x="803.99" y="1367.14" width="7.2" height="7.2" fill="#000" stroke="none" stroke-width="0" clip-path="url(#c16)"/>
<rect x="827.29" y="1362" width="7.2" height="7.2" fill="#000" stroke="none" stroke-width="0" clip-path="url(#c16)"/>
<rect x="850.89" y="1358.06" width="7.2" height="7.2" fill="#000" stroke="none" stroke-width="0" clip-path="url(#c16)"/>
<rect x="874.49" y="1349.89" width="7.2" height="7.2" fill="#000" stroke="none" stroke-width="0" clip-path="url(#c16)"/>
<rect x="898.09" y="1344.45" width="7.2" height="7.2" fill="#000" stroke="none" stroke-width="0" clip-path="url(#c16)"/>
<rect x="922" y="1339.91" width="7.2" height="7.2" fill="#000" stroke="none" stroke-width="0" clip-path="url(#c16)"/>
<rect x="945.6" y="1334.16" width="7.2" height="7.2" fill="#000" stroke="none" stroke-width="0" clip-path="url(#c16)"/>
<rect x="968.9" y="1329.92" width="7.2" height="7.2" fill="#000" stroke="none" stroke-width="0" clip-path="url(#c16)"/>
<rect x="992.5" y="1323.27" width="7.2" height="7.2" fill="#000" stroke="none" stroke-width="0" clip-path="url(#c16)"/>
<rect x="1016.4" y="1318.43" width="7.2" height="7.2" fill="#000" stroke="none" stroke-width="0" clip-path="url(#c16)"/>
<rect x="1040" y="1313.89" width="7.2" height="7.2" fill="#000" stroke="none" stroke-width="0" clip-path="url(#c16)"/>
<rect x="1063.6" y="1309.65" width="7.2" height="7.2" fill="#000" stroke="none" stroke-width="0" clip-path="url(#c16)"/>
<rect x="1087.2" y="1306.02" width="7.2" height="7.2" fill="#000" stroke="none" stroke-width="0" clip-path="url(#c16)"/>
<rect x="1110.8" y="1303.9" width="7.2" height="7.2" fill="#000" stroke="none" stroke-width="0" clip-path="url(#c16)"/>
<rect x="1134.4" y="1298.46" width="7.2" height="7.2" fill="#000" stroke="none" stroke-width="0" clip-path="url(#c16)"/>
<rect x="1158" y="1294.52" width="7.2" height="7.2" fill="#000" stroke="none" stroke-width="0" clip-path="url(#c16)"/>
<rect x="1181.6" y="1294.52" width="7.2" height="7.2" fill="#000" stroke="none" stroke-width="0" clip-path="url(#c16)"/>
<line x1="783.4" y1="1379.2" x2="783.4" y2="1369.6" stroke="#000" stroke-width="1.5" stroke-linecap="butt"/>
<line x1="783.4" y1="1296.6" x2="783.4" y2="1306.2" stroke="#000" stroke-width="1.5" stroke-linecap="butt"/>
<line x1="877.95" y1="1379.2" x2="877.95" y2="1369.6" stroke="#000" stroke-width="1.5" stroke-linecap="butt"/>
<line x1="877.95" y1="1296.6" x2="877.95" y2="1306.2" stroke="#000" stroke-width="1.5" stroke-linecap="butt"/>
<line x1="972.5" y1="1379.2" x2="972.5" y2="1369.6" stroke="#000" stroke-width="1.5" stroke-linecap="butt"/>
<line x1="972.5" y1="1296.6" x2="972.5" y2="1306.2" stroke="#000" stroke-width="1.5" stroke-linecap="butt"/>
<line x1="1067.05" y1="1379.2" x2="1067.05" y2="1369.6" stroke="#000" stroke-width="1.5" stroke-linecap="butt"/>
<line x1="1067.05" y1="1296.6" x2="1067.05" y2="1306.2" stroke="#000" stroke-width="1.5" stroke-linecap="butt"/>
<line x1="1161.6" y1="1379.2" x2="1161.6" y2="1369.6" stroke="#000" stroke-width="1.5" stroke-linecap="butt"/>
<line x1="1161.6" y1="1296.6" x2="1161.6" y2="1306.2" stroke="#000" stroke-width="1.5" stroke-linecap="butt"/>
<line x1="770.4" y1="1308.7" x2="780" y2="1308.7" stroke="#000" stroke-width="1.5" stroke-linecap="butt"/>
<line x1="1214" y1="1308.7" x2="1204.4" y2="1308.7" stroke="#000" stroke-width="1.5" stroke-linecap="butt"/>
<line x1="770.4" y1="1343.65" x2="780" y2="1343.65" stroke="#000" stroke-width="1.5" stroke-linecap="butt"/>
<line x1="1214" y1="1343.65" x2="1204.4" y2="1343.65" stroke="#000" stroke-width="1.5" stroke-linecap="butt"/>
<line x1="770.4" y1="1378.6" x2="780" y2="1378.6" stroke="#000" stroke-width="1.5" stroke-linecap="butt"/>
<line x1="1214" y1="1378.6" x2="1204.4" y2="1378.6" stroke="#000" stroke-width="1.5" stroke-linecap="butt"/>
<rect x="770.4" y="1296.6" width="443.6" height="82.6" fill="none" stroke="#000" stroke-width="2.2"/>
<text x="786.1" y="1418.2" font-size="38.8" text-anchor="middle">0</text>
<text x="880.65" y="1418.2" font-size="38.8" text-anchor="middle">80</text>
<text x="975.2" y="1418.2" font-size="38.8" text-anchor="middle">160</text>
<text x="1069.75" y="1418.2" font-size="38.8" text-anchor="middle">240</text>
<text x="1164.3" y="1418.2" font-size="38.8" text-anchor="middle">320</text>
<text x="768.7" y="1324.04" font-size="38.8" text-anchor="end">0.60</text>
<text x="768.7" y="1358.99" font-size="38.8" text-anchor="end">0.45</text>
<text x="768.7" y="1393.94" font-size="38.8" text-anchor="end">0.30</text>
<text x="993.98" y="1460" font-size="38.8" text-anchor="middle">Current (pA)</text>
<text x="665" y="1311.64" font-size="38.8" text-anchor="middle" transform="rotate(-90 665 1311.64)">Duration of AHP (s)</text>
<clipPath id="c17"><rect x="144.1" y="1592.3" width="443.2" height="355"/></clipPath>
<rect x="144.1" y="1700.33" width="118.3" height="237.17" fill="#0000ff" stroke="#000" stroke-width="2.2"/>
<rect x="291.8" y="1692.04" width="118.3" height="245.46" fill="#008000" stroke="#000" stroke-width="2.2"/>
<rect x="438.9" y="1855.4" width="118.9" height="82.1" fill="#ff0000" stroke="#000" stroke-width="2.2"/>
<line x1="203.2" y1="1622.38" x2="203.2" y2="1776.63" stroke="#000" stroke-width="2.4" stroke-linecap="butt"/>
<line x1="191.7" y1="1622.38" x2="214.7" y2="1622.38" stroke="#000" stroke-width="2.4" stroke-linecap="butt"/>
<line x1="191.7" y1="1776.63" x2="214.7" y2="1776.63" stroke="#000" stroke-width="2.4" stroke-linecap="butt"/>
<circle cx="203.2" cy="1700.33" r="7.2" fill="#000" stroke="none" stroke-width="0"/>
<line x1="351" y1="1624.04" x2="351" y2="1760.04" stroke="#000" stroke-width="2.4" stroke-linecap="butt"/>
<line x1="339.5" y1="1624.04" x2="362.5" y2="1624.04" stroke="#000" stroke-width="2.4" stroke-linecap="butt"/>
<line x1="339.5" y1="1760.04" x2="362.5" y2="1760.04" stroke="#000" stroke-width="2.4" stroke-linecap="butt"/>
<circle cx="351" cy="1692.04" r="7.2" fill="#000" stroke="none" stroke-width="0"/>
<line x1="498.7" y1="1834.67" x2="498.7" y2="1876.14" stroke="#000" stroke-width="2.4" stroke-linecap="butt"/>
<line x1="487.2" y1="1834.67" x2="510.2" y2="1834.67" stroke="#000" stroke-width="2.4" stroke-linecap="butt"/>
<line x1="487.2" y1="1876.14" x2="510.2" y2="1876.14" stroke="#000" stroke-width="2.4" stroke-linecap="butt"/>
<circle cx="498.7" cy="1855.4" r="7.2" fill="#000" stroke="none" stroke-width="0"/>
<line x1="203.2" y1="1947.3" x2="203.2" y2="1937.7" stroke="#000" stroke-width="1.5" stroke-linecap="butt"/>
<line x1="203.2" y1="1592.3" x2="203.2" y2="1601.9" stroke="#000" stroke-width="1.5" stroke-linecap="butt"/>
<line x1="351" y1="1947.3" x2="351" y2="1937.7" stroke="#000" stroke-width="1.5" stroke-linecap="butt"/>
<line x1="351" y1="1592.3" x2="351" y2="1601.9" stroke="#000" stroke-width="1.5" stroke-linecap="butt"/>
<line x1="498.7" y1="1947.3" x2="498.7" y2="1937.7" stroke="#000" stroke-width="1.5" stroke-linecap="butt"/>
<line x1="498.7" y1="1592.3" x2="498.7" y2="1601.9" stroke="#000" stroke-width="1.5" stroke-linecap="butt"/>
<line x1="144.1" y1="1937.5" x2="153.7" y2="1937.5" stroke="#000" stroke-width="1.5" stroke-linecap="butt"/>
<line x1="587.3" y1="1937.5" x2="577.7" y2="1937.5" stroke="#000" stroke-width="1.5" stroke-linecap="butt"/>
<line x1="144.1" y1="1854.58" x2="153.7" y2="1854.58" stroke="#000" stroke-width="1.5" stroke-linecap="butt"/>
<line x1="587.3" y1="1854.58" x2="577.7" y2="1854.58" stroke="#000" stroke-width="1.5" stroke-linecap="butt"/>
<line x1="144.1" y1="1771.65" x2="153.7" y2="1771.65" stroke="#000" stroke-width="1.5" stroke-linecap="butt"/>
<line x1="587.3" y1="1771.65" x2="577.7" y2="1771.65" stroke="#000" stroke-width="1.5" stroke-linecap="butt"/>
<line x1="144.1" y1="1688.72" x2="153.7" y2="1688.72" stroke="#000" stroke-width="1.5" stroke-linecap="butt"/>
<line x1="587.3" y1="1688.72" x2="577.7" y2="1688.72" stroke="#000" stroke-width="1.5" stroke-linecap="butt"/>
<line x1="144.1" y1="1605.8" x2="153.7" y2="1605.8" stroke="#000" stroke-width="1.5" stroke-linecap="butt"/>
<line x1="587.3" y1="1605.8" x2="577.7" y2="1605.8" stroke="#000" stroke-width="1.5" stroke-linecap="butt"/>
<rect x="144.1" y="1592.3" width="443.2" height="355" fill="none" stroke="#000" stroke-width="2.2"/>
<text x="142.4" y="1952.84" font-size="38.8" text-anchor="end">0</text>
<text x="142.4" y="1869.92" font-size="38.8" text-anchor="end">10</text>
<text x="142.4" y="1786.99" font-size="38.8" text-anchor="end">20</text>
<text x="142.4" y="1704.07" font-size="38.8" text-anchor="end">30</text>
<text x="142.4" y="1621.14" font-size="38.8" text-anchor="end">40</text>
<text x="203.2" y="1985.3" font-size="38.8" text-anchor="middle">SNr</text>
<text x="351" y="1985.3" font-size="38.8" text-anchor="middle">GPe</text>
<text x="498.7" y="1985.3" font-size="38.8" text-anchor="middle">STN</text>
<text x="56.1" y="1746.04" font-size="38.8" text-anchor="middle" transform="rotate(-90 56.1 1746.04)">Rate (spikes/s)</text>
<clipPath id="c18"><rect x="771.1" y="1593" width="442.9" height="355.2"/></clipPath>
<rect x="771.11" y="1871.9" width="16.74" height="31.23" fill="#8080ff" stroke="#808080" stroke-width="2.2" clip-path="url(#c18)"/>
<rect x="787.85" y="1871.9" width="16.74" height="31.23" fill="#0000ff" stroke="#000" stroke-width="2.2" clip-path="url(#c18)"/>
<rect x="804.58" y="1871.9" width="16.74" height="33.89" fill="#80c080" stroke="#808080" stroke-width="2.2" clip-path="url(#c18)"/>
<rect x="821.32" y="1871.9" width="16.74" height="33.89" fill="#008000" stroke="#000" stroke-width="2.2" clip-path="url(#c18)"/>
<rect x="838.05" y="1871.9" width="16.74" height="66.45" fill="#ff8080" stroke="#808080" stroke-width="2.2" clip-path="url(#c18)"/>
<rect x="854.79" y="1871.9" width="16.74" height="66.45" fill="#ff0000" stroke="#000" stroke-width="2.2" clip-path="url(#c18)"/>
<rect x="881.46" y="1662.58" width="16.74" height="209.32" fill="#8080ff" stroke="#808080" stroke-width="2.2" clip-path="url(#c18)"/>
<rect x="898.19" y="1731.69" width="16.74" height="140.21" fill="#0000ff" stroke="#000" stroke-width="2.2" clip-path="url(#c18)"/>
<rect x="914.93" y="1871.9" width="16.74" height="66.45" fill="#80c080" stroke="#808080" stroke-width="2.2" clip-path="url(#c18)"/>
<rect x="931.66" y="1871.9" width="16.74" height="66.45" fill="#008000" stroke="#000" stroke-width="2.2" clip-path="url(#c18)"/>
<rect x="948.4" y="1804.12" width="16.74" height="67.78" fill="#ff8080" stroke="#808080" stroke-width="2.2" clip-path="url(#c18)"/>
<rect x="965.13" y="1804.12" width="16.74" height="67.78" fill="#ff0000" stroke="#000" stroke-width="2.2" clip-path="url(#c18)"/>
<rect x="991.8" y="1866.58" width="16.74" height="5.32" fill="#8080ff" stroke="#808080" stroke-width="2.2" clip-path="url(#c18)"/>
<rect x="1008.54" y="1866.58" width="16.74" height="5.32" fill="#0000ff" stroke="#000" stroke-width="2.2" clip-path="url(#c18)"/>
<rect x="1025.27" y="1871.57" width="16.74" height="0.33" fill="#80c080" stroke="#808080" stroke-width="2.2" clip-path="url(#c18)"/>
<rect x="1042.01" y="1871.57" width="16.74" height="0.33" fill="#008000" stroke="#000" stroke-width="2.2" clip-path="url(#c18)"/>
<rect x="1058.74" y="1871.57" width="16.74" height="0.33" fill="#ff8080" stroke="#808080" stroke-width="2.2" clip-path="url(#c18)"/>
<rect x="1075.48" y="1871.57" width="16.74" height="0.33" fill="#ff0000" stroke="#000" stroke-width="2.2" clip-path="url(#c18)"/>
<rect x="1102.76" y="1871.9" width="16.74" height="3.32" fill="#8080ff" stroke="#808080" stroke-width="2.2" clip-path="url(#c18)"/>
<rect x="1119.49" y="1871.9" width="16.74" height="3.32" fill="#0000ff" stroke="#000" stroke-width="2.2" clip-path="url(#c18)"/>
<rect x="1136.23" y="1869.24" width="16.74" height="2.66" fill="#80c080" stroke="#808080" stroke-width="2.2" clip-path="url(#c18)"/>
<rect x="1152.97" y="1869.24" width="16.74" height="2.66" fill="#008000" stroke="#000" stroke-width="2.2" clip-path="url(#c18)"/>
<rect x="1169.7" y="1871.9" width="16.74" height="3.32" fill="#ff8080" stroke="#808080" stroke-width="2.2" clip-path="url(#c18)"/>
<rect x="1186.44" y="1871.9" width="16.74" height="3.32" fill="#ff0000" stroke="#000" stroke-width="2.2" clip-path="url(#c18)"/>
<line x1="815.25" y1="1948.2" x2="815.25" y2="1938.6" stroke="#000" stroke-width="1.5" stroke-linecap="butt"/>
<line x1="815.25" y1="1593" x2="815.25" y2="1602.6" stroke="#000" stroke-width="1.5" stroke-linecap="butt"/>
<line x1="925.9" y1="1948.2" x2="925.9" y2="1938.6" stroke="#000" stroke-width="1.5" stroke-linecap="butt"/>
<line x1="925.9" y1="1593" x2="925.9" y2="1602.6" stroke="#000" stroke-width="1.5" stroke-linecap="butt"/>
<line x1="1036.55" y1="1948.2" x2="1036.55" y2="1938.6" stroke="#000" stroke-width="1.5" stroke-linecap="butt"/>
<line x1="1036.55" y1="1593" x2="1036.55" y2="1602.6" stroke="#000" stroke-width="1.5" stroke-linecap="butt"/>
<line x1="1147.2" y1="1948.2" x2="1147.2" y2="1938.6" stroke="#000" stroke-width="1.5" stroke-linecap="butt"/>
<line x1="1147.2" y1="1593" x2="1147.2" y2="1602.6" stroke="#000" stroke-width="1.5" stroke-linecap="butt"/>
<line x1="771.1" y1="1606.1" x2="780.7" y2="1606.1" stroke="#000" stroke-width="1.5" stroke-linecap="butt"/>
<line x1="1214" y1="1606.1" x2="1204.4" y2="1606.1" stroke="#000" stroke-width="1.5" stroke-linecap="butt"/>
<line x1="771.1" y1="1672.55" x2="780.7" y2="1672.55" stroke="#000" stroke-width="1.5" stroke-linecap="butt"/>
<line x1="1214" y1="1672.55" x2="1204.4" y2="1672.55" stroke="#000" stroke-width="1.5" stroke-linecap="butt"/>
<line x1="771.1" y1="1739" x2="780.7" y2="1739" stroke="#000" stroke-width="1.5" stroke-linecap="butt"/>
<line x1="1214" y1="1739" x2="1204.4" y2="1739" stroke="#000" stroke-width="1.5" stroke-linecap="butt"/>
<line x1="771.1" y1="1805.45" x2="780.7" y2="1805.45" stroke="#000" stroke-width="1.5" stroke-linecap="butt"/>
<line x1="1214" y1="1805.45" x2="1204.4" y2="1805.45" stroke="#000" stroke-width="1.5" stroke-linecap="butt"/>
<line x1="771.1" y1="1871.9" x2="780.7" y2="1871.9" stroke="#000" stroke-width="1.5" stroke-linecap="butt"/>
<line x1="1214" y1="1871.9" x2="1204.4" y2="1871.9" stroke="#000" stroke-width="1.5" stroke-linecap="butt"/>
<line x1="771.1" y1="1938.35" x2="780.7" y2="1938.35" stroke="#000" stroke-width="1.5" stroke-linecap="butt"/>
<line x1="1214" y1="1938.35" x2="1204.4" y2="1938.35" stroke="#000" stroke-width="1.5" stroke-linecap="butt"/>
<rect x="771.1" y="1593" width="442.9" height="355.2" fill="none" stroke="#000" stroke-width="2.2"/>
<text x="769.4" y="1621.44" font-size="38.8" text-anchor="end">400</text>
<text x="769.4" y="1687.89" font-size="38.8" text-anchor="end">300</text>
<text x="769.4" y="1754.34" font-size="38.8" text-anchor="end">200</text>
<text x="769.4" y="1820.79" font-size="38.8" text-anchor="end">100</text>
<text x="769.4" y="1887.24" font-size="38.8" text-anchor="end">0</text>
<text x="769.4" y="1953.69" font-size="38.8" text-anchor="end">−100</text>
<text x="817.7" y="1985.9" font-size="38.8" text-anchor="middle">STN</text>
<text x="928.05" y="1985.9" font-size="38.8" text-anchor="middle">GPe</text>
<text x="980.94" y="1985.9" font-size="38.8">MSN</text>
<text x="1066.73" y="1995" font-size="26.9" style="font-family:'Liberation Serif', 'DejaVu Serif', serif">D1</text>
<text x="1103.55" y="1985.9" font-size="38.8">MSN</text>
<text x="1188.73" y="1995" font-size="26.9" style="font-family:'Liberation Serif', 'DejaVu Serif', serif">D2</text>
<text x="993.04" y="2038" font-size="38.8" text-anchor="middle">Lesioned nucleus</text>
<text x="650.2" y="1762.74" font-size="38.8" text-anchor="middle" transform="rotate(-90 650.2 1762.74)">Rate change (%)</text>
<text x="792.14" y="1638" font-size="38.8" fill="#0000ff">SNr</text>
<text x="789.42" y="1684" font-size="38.8" fill="#008000">GPe</text>
<text x="790.64" y="1729.3" font-size="38.8" fill="#ff0000">STN</text>
<text x="933.66" y="1628.8" font-size="31">Solid: depressing</text>
<text x="933.66" y="1664.7" font-size="31">STN-SNr</text>
<text x="932.16" y="1705.4" font-size="31">Shaded: static</text>
<text x="932.16" y="1741.3" font-size="31">STN-SNr</text>
<clipPath id="c19"><rect x="1387.7" y="627.1" width="443.9" height="378.4"/></clipPath>
<line x1="1405.13" y1="947.16" x2="1799.45" y2="947.16" stroke="#ff0000" stroke-width="4.6" stroke-linecap="butt" stroke-dasharray="14.5,14.5"/>
<polyline points="1405.13,677.07 1406.48,694.01 1407.84,709.23 1409.19,722.99 1410.54,735.48 1411.9,746.88 1413.25,757.31 1414.6,766.91 1415.96,775.75 1417.31,783.94 1418.66,791.54 1420.02,798.61 1421.37,805.2 1422.72,811.36 1424.08,817.14 1425.43,822.56 1426.78,827.67 1428.14,832.47 1429.49,837.01 1430.84,841.31 1432.2,845.37 1433.55,849.23 1434.9,852.89 1436.26,856.37 1437.61,859.69 1438.96,862.85 1440.32,865.86 1441.67,868.74 1443.02,871.5 1444.38,874.13 1445.73,876.66 1447.08,879.08 1448.44,881.41 1449.79,883.64 1451.14,885.79 1452.5,887.86 1453.85,889.85 1455.2,891.76 1456.56,893.61 1457.91,895.39 1459.26,897.12 1460.62,898.78 1461.97,900.39 1463.32,901.94 1464.67,903.44 1466.03,904.9 1467.38,906.31 1468.73,907.68 1470.09,909 1471.44,910.29 1472.79,911.53 1474.15,912.74 1475.5,913.92 1476.85,915.06 1478.21,916.17 1479.56,917.26 1480.91,918.31 1482.27,919.33 1483.62,920.33 1484.97,921.3 1486.33,922.24 1487.68,923.16 1489.03,924.06 1490.39,924.94 1491.74,925.79 1493.09,926.63 1494.45,927.44 1495.8,928.23 1497.15,929.01 1498.51,929.77 1499.86,930.51 1501.21,931.23 1502.57,931.94 1503.92,932.63 1505.27,933.31 1506.63,933.98 1507.98,934.62 1509.33,935.26 1510.69,935.88 1512.04,936.49 1513.39,937.09 1514.75,937.67 1516.1,938.24 1517.45,938.8 1518.81,939.35 1520.16,939.89 1521.51,940.42 1522.87,940.94 1524.22,941.45 1525.57,941.95 1526.93,942.44 1528.28,942.92 1529.63,943.4 1530.99,943.86 1532.34,944.32 1533.69,944.76 1535.05,945.2 1536.4,945.64 1537.75,946.06 1539.11,946.48 1540.46,946.89 1541.81,947.29 1543.17,947.69 1544.52,948.08 1545.87,948.46 1547.23,948.84 1548.58,949.21 1549.93,949.58 1551.29,949.94 1552.64,950.29 1553.99,950.64 1555.35,950.98 1556.7,951.32 1558.05,951.65 1559.41,951.98 1560.76,952.3 1562.11,952.62 1563.47,952.93 1564.82,953.24 1566.17,953.54 1567.53,953.84 1568.88,954.14 1570.23,954.43 1571.59,954.72 1572.94,955 1574.29,955.28 1575.65,955.55 1577,955.82 1578.35,956.09 1579.71,956.36 1581.06,956.62 1582.41,956.87 1583.77,957.13 1585.12,957.38 1586.47,957.62 1587.83,957.87 1589.18,958.11 1590.53,958.34 1591.89,958.58 1593.24,958.81 1594.59,959.04 1595.95,959.26 1597.3,959.48 1598.65,959.7 1600.01,959.92 1601.36,960.14 1602.71,960.35 1604.07,960.56 1605.42,960.76 1606.77,960.97 1608.13,961.17 1609.48,961.37 1610.83,961.56 1612.19,961.76 1613.54,961.95 1614.89,962.14 1616.25,962.33 1617.6,962.52 1618.95,962.7 1620.31,962.88 1621.66,963.06 1623.01,963.24 1624.37,963.41 1625.72,963.59 1627.07,963.76 1628.43,963.93 1629.78,964.1 1631.13,964.26 1632.49,964.43 1633.84,964.59 1635.19,964.75 1636.55,964.91 1637.9,965.07 1639.25,965.22 1640.61,965.38 1641.96,965.53 1643.31,965.68 1644.67,965.83 1646.02,965.98 1647.37,966.13 1648.73,966.27 1650.08,966.41 1651.43,966.56 1652.79,966.7 1654.14,966.84 1655.49,966.97 1656.85,967.11 1658.2,967.25 1659.55,967.38 1660.91,967.51 1662.26,967.64 1663.61,967.77 1664.97,967.9 1666.32,968.03 1667.67,968.16 1669.03,968.28 1670.38,968.41 1671.73,968.53 1673.09,968.65 1674.44,968.77 1675.79,968.89 1677.15,969.01 1678.5,969.13 1679.85,969.24 1681.21,969.36 1682.56,969.47 1683.91,969.59 1685.27,969.7 1686.62,969.81 1687.97,969.92 1689.33,970.03 1690.68,970.14 1692.03,970.24 1693.39,970.35 1694.74,970.46 1696.09,970.56 1697.45,970.66 1698.8,970.77 1700.15,970.87 1701.51,970.97 1702.86,971.07 1704.21,971.17 1705.57,971.27 1706.92,971.37 1708.27,971.46 1709.63,971.56 1710.98,971.65 1712.33,971.75 1713.69,971.84 1715.04,971.94 1716.39,972.03 1717.75,972.12 1719.1,972.21 1720.45,972.3 1721.81,972.39 1723.16,972.48 1724.51,972.57 1725.87,972.65 1727.22,972.74 1728.57,972.83 1729.93,972.91 1731.28,973 1732.63,973.08 1733.99,973.16 1735.34,973.25 1736.69,973.33 1738.05,973.41 1739.4,973.49 1740.75,973.57 1742.11,973.65 1743.46,973.73 1744.81,973.81 1746.17,973.89 1747.52,973.96 1748.87,974.04 1750.23,974.12 1751.58,974.19 1752.93,974.27 1754.28,974.34 1755.64,974.41 1756.99,974.49 1758.34,974.56 1759.7,974.63 1761.05,974.7 1762.4,974.78 1763.76,974.85 1765.11,974.92 1766.46,974.99 1767.82,975.06 1769.17,975.13 1770.52,975.19 1771.88,975.26 1773.23,975.33 1774.58,975.4 1775.94,975.46 1777.29,975.53 1778.64,975.59 1780,975.66 1781.35,975.72 1782.7,975.79 1784.06,975.85 1785.41,975.92 1786.76,975.98 1788.12,976.04 1789.47,976.1 1790.82,976.16 1792.18,976.23 1793.53,976.29 1794.88,976.35 1796.24,976.41 1797.59,976.47 1798.94,976.53 1800.3,976.59 1801.65,976.64 1803,976.7 1804.36,976.76 1805.71,976.82 1807.06,976.88 1808.42,976.93 1809.77,976.99" fill="none" stroke="#00bfbf" stroke-width="4.6" stroke-linejoin="round" stroke-linecap="butt" clip-path="url(#c19)"/>
<line x1="1401" y1="1005.5" x2="1401" y2="995.9" stroke="#000" stroke-width="1.5" stroke-linecap="butt"/>
<line x1="1401" y1="627.1" x2="1401" y2="636.7" stroke="#000" stroke-width="1.5" stroke-linecap="butt"/>
<line x1="1504.22" y1="1005.5" x2="1504.22" y2="995.9" stroke="#000" stroke-width="1.5" stroke-linecap="butt"/>
<line x1="1504.22" y1="627.1" x2="1504.22" y2="636.7" stroke="#000" stroke-width="1.5" stroke-linecap="butt"/>
<line x1="1607.45" y1="1005.5" x2="1607.45" y2="995.9" stroke="#000" stroke-width="1.5" stroke-linecap="butt"/>
<line x1="1607.45" y1="627.1" x2="1607.45" y2="636.7" stroke="#000" stroke-width="1.5" stroke-linecap="butt"/>
<line x1="1710.68" y1="1005.5" x2="1710.68" y2="995.9" stroke="#000" stroke-width="1.5" stroke-linecap="butt"/>
<line x1="1710.68" y1="627.1" x2="1710.68" y2="636.7" stroke="#000" stroke-width="1.5" stroke-linecap="butt"/>
<line x1="1813.9" y1="1005.5" x2="1813.9" y2="995.9" stroke="#000" stroke-width="1.5" stroke-linecap="butt"/>
<line x1="1813.9" y1="627.1" x2="1813.9" y2="636.7" stroke="#000" stroke-width="1.5" stroke-linecap="butt"/>
<line x1="1387.7" y1="994.8" x2="1397.3" y2="994.8" stroke="#000" stroke-width="1.5" stroke-linecap="butt"/>
<line x1="1831.6" y1="994.8" x2="1822" y2="994.8" stroke="#000" stroke-width="1.5" stroke-linecap="butt"/>
<line x1="1387.7" y1="906.57" x2="1397.3" y2="906.57" stroke="#000" stroke-width="1.5" stroke-linecap="butt"/>
<line x1="1831.6" y1="906.57" x2="1822" y2="906.57" stroke="#000" stroke-width="1.5" stroke-linecap="butt"/>
<line x1="1387.7" y1="818.35" x2="1397.3" y2="818.35" stroke="#000" stroke-width="1.5" stroke-linecap="butt"/>
<line x1="1831.6" y1="818.35" x2="1822" y2="818.35" stroke="#000" stroke-width="1.5" stroke-linecap="butt"/>
<line x1="1387.7" y1="730.12" x2="1397.3" y2="730.12" stroke="#000" stroke-width="1.5" stroke-linecap="butt"/>
<line x1="1831.6" y1="730.12" x2="1822" y2="730.12" stroke="#000" stroke-width="1.5" stroke-linecap="butt"/>
<line x1="1387.7" y1="641.9" x2="1397.3" y2="641.9" stroke="#000" stroke-width="1.5" stroke-linecap="butt"/>
<line x1="1831.6" y1="641.9" x2="1822" y2="641.9" stroke="#000" stroke-width="1.5" stroke-linecap="butt"/>
<rect x="1387.7" y="627.1" width="443.9" height="378.4" fill="none" stroke="#000" stroke-width="2.2"/>
<text x="1403.7" y="1044.5" font-size="38.8" text-anchor="middle">0</text>
<text x="1506.92" y="1044.5" font-size="38.8" text-anchor="middle">25</text>
<text x="1610.15" y="1044.5" font-size="38.8" text-anchor="middle">50</text>
<text x="1713.38" y="1044.5" font-size="38.8" text-anchor="middle">75</text>
<text x="1816.6" y="1044.5" font-size="38.8" text-anchor="middle">100</text>
<text x="1386" y="1010.14" font-size="38.8" text-anchor="end">0.00</text>
<text x="1386" y="921.92" font-size="38.8" text-anchor="end">0.25</text>
<text x="1386" y="833.69" font-size="38.8" text-anchor="end">0.50</text>
<text x="1386" y="745.47" font-size="38.8" text-anchor="end">0.75</text>
<text x="1386" y="657.24" font-size="38.8" text-anchor="end">1.00</text>
<text x="1611.56" y="1081.9" font-size="38.8" text-anchor="middle">Firing rate (spikes/s)</text>
<text transform="translate(1272.5,819.8) rotate(-90)" font-size="31.8" text-anchor="middle">p<tspan font-size="22" dy="10">ss</tspan><tspan dy="-10">/p</tspan><tspan font-size="26" dy="10" style="font-family:'Liberation Serif', 'DejaVu Serif', serif">1</tspan></text>
<text x="1432.12" y="728.6" font-size="43.2" fill="#00bfbf">dep</text>
<text x="1511.66" y="704.9" font-size="34.5" fill="#00bfbf">GPe</text>
<text x="1540.08" y="907.3" font-size="43.2" fill="#ff0000">ref</text>
<text x="1599.06" y="883.3" font-size="34.5" fill="#ff0000">GPe</text>
<text x="1598.33" y="921.3" font-size="35" fill="#ff0000" style="font-family:'Liberation Serif', 'DejaVu Serif', serif">30</text>
<text x="1633.83" y="921.3" font-size="33.5" fill="#ff0000">Hz</text>
<clipPath id="c20"><rect x="2005.8" y="625.5" width="443.2" height="377.4"/></clipPath>
<polyline points="2025.02,644.41 2026.02,648.51 2027.02,652.54 2028.02,656.52 2029.02,660.43 2030.03,664.27 2031.03,668.06 2032.03,671.79 2033.03,675.46 2034.03,679.07 2035.03,682.62 2036.03,686.12 2037.03,689.56 2038.03,692.95 2039.03,696.29 2040.03,699.57 2041.03,702.8 2042.03,705.98 2043.03,709.11 2044.03,712.19 2045.03,715.22 2046.03,718.21 2047.03,721.14 2048.03,724.03 2049.03,726.88 2050.03,729.68 2051.03,732.44 2052.03,735.15 2053.03,737.82 2054.03,740.45 2055.03,743.03 2056.03,745.58 2057.03,748.08 2058.03,750.55 2059.03,752.98 2060.03,755.36 2061.03,757.72 2062.03,760.03 2063.03,762.31 2064.03,764.55 2065.03,766.75 2066.03,768.93 2067.03,771.06 2068.03,773.17 2069.03,775.24 2070.03,777.27 2071.04,779.28 2072.04,781.25 2073.04,783.2 2074.04,785.11 2075.04,786.99 2076.04,788.84 2077.04,790.67 2078.04,792.46 2079.04,794.23 2080.04,795.96 2081.04,797.67 2082.04,799.36 2083.04,801.02 2084.04,802.65 2085.04,804.25 2086.04,805.83 2087.04,807.39 2088.04,808.92 2089.04,810.42 2090.04,811.91 2091.04,813.37 2092.04,814.8 2093.04,816.22 2094.04,817.61 2095.04,818.98 2096.04,820.33 2097.04,821.65 2098.04,822.96 2099.04,824.24 2100.04,825.51 2101.04,826.75 2102.04,827.98 2103.04,829.18 2104.04,830.37 2105.04,831.54 2106.04,832.69 2107.04,833.82 2108.04,834.93 2109.04,836.03 2110.04,837.11 2111.04,838.17 2112.04,839.22 2113.05,840.24 2114.05,841.26 2115.05,842.25 2116.05,843.23 2117.05,844.2 2118.05,845.15 2119.05,846.09 2120.05,847.01 2121.05,847.91 2122.05,848.8 2123.05,849.68 2124.05,850.54 2125.05,851.39 2126.05,852.23 2127.05,853.05 2128.05,853.86 2129.05,854.66 2130.05,855.45 2131.05,856.22 2132.05,856.98 2133.05,857.73 2134.05,858.47 2135.05,859.19 2136.05,859.9 2137.05,860.61 2138.05,861.3 2139.05,861.98 2140.05,862.65 2141.05,863.31 2142.05,863.96 2143.05,864.6 2144.05,865.22 2145.05,865.84 2146.05,866.45 2147.05,867.05 2148.05,867.64 2149.05,868.22 2150.05,868.79 2151.05,869.35 2152.05,869.91 2153.05,870.45 2154.06,870.99 2155.06,871.52 2156.06,872.04 2157.06,872.55 2158.06,873.05 2159.06,873.55 2160.06,874.03 2161.06,874.51 2162.06,874.98 2163.06,875.45 2164.06,875.91 2165.06,876.36 2166.06,876.8 2167.06,877.24 2168.06,877.66 2169.06,878.09 2170.06,878.5 2171.06,878.91 2172.06,879.31 2173.06,879.71 2174.06,880.1 2175.06,880.48 2176.06,880.86 2177.06,881.23 2178.06,881.6 2179.06,881.96 2180.06,882.32 2181.06,882.66 2182.06,883.01 2183.06,883.35 2184.06,883.68 2185.06,884.01 2186.06,884.33 2187.06,884.65 2188.06,884.96 2189.06,885.27 2190.06,885.57 2191.06,885.87 2192.06,886.16 2193.06,886.45 2194.06,886.73 2195.06,887.01 2196.07,887.29 2197.07,887.56 2198.07,887.82 2199.07,888.09 2200.07,888.34 2201.07,888.6 2202.07,888.85 2203.07,889.09 2204.07,889.34 2205.07,889.57 2206.07,889.81 2207.07,890.04 2208.07,890.27 2209.07,890.49 2210.07,890.71 2211.07,890.93 2212.07,891.14 2213.07,891.35 2214.07,891.56 2215.07,891.76 2216.07,891.96 2217.07,892.16 2218.07,892.35 2219.07,892.54 2220.07,892.73 2221.07,892.91 2222.07,893.1 2223.07,893.28 2224.07,893.45 2225.07,893.63 2226.07,893.8 2227.07,893.96 2228.07,894.13 2229.07,894.29 2230.07,894.45 2231.07,894.61 2232.07,894.76 2233.07,894.92 2234.07,895.07 2235.07,895.22 2236.07,895.36 2237.08,895.5 2238.08,895.65 2239.08,895.78 2240.08,895.92 2241.08,896.06 2242.08,896.19 2243.08,896.32 2244.08,896.45 2245.08,896.57 2246.08,896.7 2247.08,896.82 2248.08,896.94 2249.08,897.06 2250.08,897.17 2251.08,897.29 2252.08,897.4 2253.08,897.51 2254.08,897.62 2255.08,897.73 2256.08,897.84 2257.08,897.94 2258.08,898.04 2259.08,898.14 2260.08,898.24 2261.08,898.34 2262.08,898.44 2263.08,898.53 2264.08,898.63 2265.08,898.72 2266.08,898.81 2267.08,898.9 2268.08,898.99 2269.08,899.07 2270.08,899.16 2271.08,899.24 2272.08,899.32 2273.08,899.4 2274.08,899.48 2275.08,899.56 2276.08,899.64 2277.08,899.71 2278.08,899.79 2279.09,899.86 2280.09,899.93 2281.09,900.01 2282.09,900.08 2283.09,900.14 2284.09,900.21 2285.09,900.28 2286.09,900.34 2287.09,900.41 2288.09,900.47 2289.09,900.54 2290.09,900.6 2291.09,900.66 2292.09,900.72 2293.09,900.78 2294.09,900.84 2295.09,900.89 2296.09,900.95 2297.09,901 2298.09,901.06 2299.09,901.11 2300.09,901.16 2301.09,901.22 2302.09,901.27 2303.09,901.32 2304.09,901.37 2305.09,901.41 2306.09,901.46 2307.09,901.51 2308.09,901.56 2309.09,901.6 2310.09,901.65 2311.09,901.69 2312.09,901.73 2313.09,901.78 2314.09,901.82 2315.09,901.86 2316.09,901.9 2317.09,901.94 2318.09,901.98 2319.09,902.02 2320.09,902.06 2321.1,902.1 2322.1,902.13 2323.1,902.17 2324.1,902.21 2325.1,902.24 2326.1,902.28 2327.1,902.31 2328.1,902.34 2329.1,902.38 2330.1,902.41 2331.1,902.44 2332.1,902.47 2333.1,902.51 2334.1,902.54 2335.1,902.57 2336.1,902.6 2337.1,902.62 2338.1,902.65 2339.1,902.68 2340.1,902.71 2341.1,902.74 2342.1,902.76 2343.1,902.79 2344.1,902.82 2345.1,902.84 2346.1,902.87 2347.1,902.89 2348.1,902.92 2349.1,902.94 2350.1,902.97 2351.1,902.99 2352.1,903.01 2353.1,903.03 2354.1,903.06 2355.1,903.08 2356.1,903.1 2357.1,903.12 2358.1,903.14 2359.1,903.16 2360.1,903.18 2361.1,903.2 2362.11,903.22 2363.11,903.24 2364.11,903.26 2365.11,903.28 2366.11,903.3 2367.11,903.32 2368.11,903.33 2369.11,903.35 2370.11,903.37 2371.11,903.39 2372.11,903.4 2373.11,903.42 2374.11,903.44 2375.11,903.45 2376.11,903.47 2377.11,903.48 2378.11,903.5 2379.11,903.51 2380.11,903.53 2381.11,903.54 2382.11,903.56 2383.11,903.57 2384.11,903.59 2385.11,903.6 2386.11,903.61 2387.11,903.63 2388.11,903.64 2389.11,903.65 2390.11,903.66 2391.11,903.68 2392.11,903.69 2393.11,903.7 2394.11,903.71 2395.11,903.72 2396.11,903.74 2397.11,903.75 2398.11,903.76 2399.11,903.77 2400.11,903.78 2401.11,903.79 2402.11,903.8 2403.11,903.81 2404.12,903.82 2405.12,903.83 2406.12,903.84 2407.12,903.85 2408.12,903.86 2409.12,903.87 2410.12,903.88 2411.12,903.89 2412.12,903.9 2413.12,903.9 2414.12,903.91 2415.12,903.92 2416.12,903.93 2417.12,903.94 2418.12,903.95 2419.12,903.95 2420.12,903.96 2421.12,903.97 2422.12,903.98 2423.12,903.98 2424.12,903.99" fill="none" stroke="#bf00bf" stroke-width="4.6" stroke-linejoin="round" stroke-linecap="butt" clip-path="url(#c20)"/>
<polyline points="2025.02,980.26 2026.02,979.18 2027.02,978.11 2028.02,977.06 2029.02,976.02 2030.03,975 2031.03,973.99 2032.03,973 2033.03,972.02 2034.03,971.06 2035.03,970.1 2036.03,969.17 2037.03,968.24 2038.03,967.33 2039.03,966.43 2040.03,965.55 2041.03,964.68 2042.03,963.82 2043.03,962.97 2044.03,962.13 2045.03,961.31 2046.03,960.5 2047.03,959.7 2048.03,958.91 2049.03,958.13 2050.03,957.37 2051.03,956.61 2052.03,955.86 2053.03,955.13 2054.03,954.41 2055.03,953.69 2056.03,952.99 2057.03,952.3 2058.03,951.61 2059.03,950.94 2060.03,950.28 2061.03,949.62 2062.03,948.98 2063.03,948.34 2064.03,947.72 2065.03,947.1 2066.03,946.49 2067.03,945.89 2068.03,945.3 2069.03,944.71 2070.03,944.14 2071.04,943.57 2072.04,943.01 2073.04,942.46 2074.04,941.92 2075.04,941.38 2076.04,940.86 2077.04,940.34 2078.04,939.83 2079.04,939.32 2080.04,938.82 2081.04,938.33 2082.04,937.85 2083.04,937.37 2084.04,936.9 2085.04,936.44 2086.04,935.98 2087.04,935.53 2088.04,935.09 2089.04,934.65 2090.04,934.22 2091.04,933.79 2092.04,933.37 2093.04,932.96 2094.04,932.55 2095.04,932.15 2096.04,931.76 2097.04,931.37 2098.04,930.98 2099.04,930.6 2100.04,930.23 2101.04,929.86 2102.04,929.5 2103.04,929.14 2104.04,928.79 2105.04,928.44 2106.04,928.1 2107.04,927.76 2108.04,927.43 2109.04,927.1 2110.04,926.78 2111.04,926.46 2112.04,926.14 2113.05,925.83 2114.05,925.53 2115.05,925.23 2116.05,924.93 2117.05,924.64 2118.05,924.35 2119.05,924.07 2120.05,923.79 2121.05,923.51 2122.05,923.24 2123.05,922.97 2124.05,922.71 2125.05,922.45 2126.05,922.19 2127.05,921.93 2128.05,921.69 2129.05,921.44 2130.05,921.2 2131.05,920.96 2132.05,920.72 2133.05,920.49 2134.05,920.26 2135.05,920.03 2136.05,919.81 2137.05,919.59 2138.05,919.38 2139.05,919.16 2140.05,918.95 2141.05,918.75 2142.05,918.54 2143.05,918.34 2144.05,918.14 2145.05,917.95 2146.05,917.75 2147.05,917.56 2148.05,917.38 2149.05,917.19 2150.05,917.01 2151.05,916.83 2152.05,916.65 2153.05,916.48 2154.06,916.31 2155.06,916.14 2156.06,915.97 2157.06,915.81 2158.06,915.65 2159.06,915.49 2160.06,915.33 2161.06,915.17 2162.06,915.02 2163.06,914.87 2164.06,914.72 2165.06,914.57 2166.06,914.43 2167.06,914.29 2168.06,914.15 2169.06,914.01 2170.06,913.87 2171.06,913.74 2172.06,913.6 2173.06,913.47 2174.06,913.34 2175.06,913.22 2176.06,913.09 2177.06,912.97 2178.06,912.85 2179.06,912.73 2180.06,912.61 2181.06,912.49 2182.06,912.38 2183.06,912.26 2184.06,912.15 2185.06,912.04 2186.06,911.93 2187.06,911.83 2188.06,911.72 2189.06,911.62 2190.06,911.52 2191.06,911.42 2192.06,911.32 2193.06,911.22 2194.06,911.12 2195.06,911.03 2196.07,910.93 2197.07,910.84 2198.07,910.75 2199.07,910.66 2200.07,910.57 2201.07,910.48 2202.07,910.4 2203.07,910.31 2204.07,910.23 2205.07,910.15 2206.07,910.06 2207.07,909.98 2208.07,909.9 2209.07,909.83 2210.07,909.75 2211.07,909.67 2212.07,909.6 2213.07,909.53 2214.07,909.45 2215.07,909.38 2216.07,909.31 2217.07,909.24 2218.07,909.17 2219.07,909.11 2220.07,909.04 2221.07,908.97 2222.07,908.91 2223.07,908.85 2224.07,908.78 2225.07,908.72 2226.07,908.66 2227.07,908.6 2228.07,908.54 2229.07,908.48 2230.07,908.43 2231.07,908.37 2232.07,908.31 2233.07,908.26 2234.07,908.2 2235.07,908.15 2236.07,908.1 2237.08,908.04 2238.08,907.99 2239.08,907.94 2240.08,907.89 2241.08,907.84 2242.08,907.8 2243.08,907.75 2244.08,907.7 2245.08,907.65 2246.08,907.61 2247.08,907.56 2248.08,907.52 2249.08,907.47 2250.08,907.43 2251.08,907.39 2252.08,907.35 2253.08,907.31 2254.08,907.26 2255.08,907.22 2256.08,907.19 2257.08,907.15 2258.08,907.11 2259.08,907.07 2260.08,907.03 2261.08,907 2262.08,906.96 2263.08,906.92 2264.08,906.89 2265.08,906.85 2266.08,906.82 2267.08,906.78 2268.08,906.75 2269.08,906.72 2270.08,906.69 2271.08,906.65 2272.08,906.62 2273.08,906.59 2274.08,906.56 2275.08,906.53 2276.08,906.5 2277.08,906.47 2278.08,906.44 2279.09,906.41 2280.09,906.39 2281.09,906.36 2282.09,906.33 2283.09,906.3 2284.09,906.28 2285.09,906.25 2286.09,906.23 2287.09,906.2 2288.09,906.18 2289.09,906.15 2290.09,906.13 2291.09,906.1 2292.09,906.08 2293.09,906.06 2294.09,906.03 2295.09,906.01 2296.09,905.99 2297.09,905.97 2298.09,905.95 2299.09,905.92 2300.09,905.9 2301.09,905.88 2302.09,905.86 2303.09,905.84 2304.09,905.82 2305.09,905.8 2306.09,905.78 2307.09,905.76 2308.09,905.74 2309.09,905.73 2310.09,905.71 2311.09,905.69 2312.09,905.67 2313.09,905.65 2314.09,905.64 2315.09,905.62 2316.09,905.6 2317.09,905.59 2318.09,905.57 2319.09,905.56 2320.09,905.54 2321.1,905.52 2322.1,905.51 2323.1,905.49 2324.1,905.48 2325.1,905.46 2326.1,905.45 2327.1,905.44 2328.1,905.42 2329.1,905.41 2330.1,905.39 2331.1,905.38 2332.1,905.37 2333.1,905.35 2334.1,905.34 2335.1,905.33 2336.1,905.32 2337.1,905.3 2338.1,905.29 2339.1,905.28 2340.1,905.27 2341.1,905.26 2342.1,905.24 2343.1,905.23 2344.1,905.22 2345.1,905.21 2346.1,905.2 2347.1,905.19 2348.1,905.18 2349.1,905.17 2350.1,905.16 2351.1,905.15 2352.1,905.14 2353.1,905.13 2354.1,905.12 2355.1,905.11 2356.1,905.1 2357.1,905.09 2358.1,905.08 2359.1,905.07 2360.1,905.06 2361.1,905.05 2362.11,905.05 2363.11,905.04 2364.11,905.03 2365.11,905.02 2366.11,905.01 2367.11,905 2368.11,905 2369.11,904.99 2370.11,904.98 2371.11,904.97 2372.11,904.97 2373.11,904.96 2374.11,904.95 2375.11,904.94 2376.11,904.94 2377.11,904.93 2378.11,904.92 2379.11,904.92 2380.11,904.91 2381.11,904.9 2382.11,904.9 2383.11,904.89 2384.11,904.88 2385.11,904.88 2386.11,904.87 2387.11,904.87 2388.11,904.86 2389.11,904.85 2390.11,904.85 2391.11,904.84 2392.11,904.84 2393.11,904.83 2394.11,904.83 2395.11,904.82 2396.11,904.82 2397.11,904.81 2398.11,904.8 2399.11,904.8 2400.11,904.79 2401.11,904.79 2402.11,904.79 2403.11,904.78 2404.12,904.78 2405.12,904.77 2406.12,904.77 2407.12,904.76 2408.12,904.76 2409.12,904.75 2410.12,904.75 2411.12,904.74 2412.12,904.74 2413.12,904.74 2414.12,904.73 2415.12,904.73 2416.12,904.72 2417.12,904.72 2418.12,904.72 2419.12,904.71 2420.12,904.71 2421.12,904.7 2422.12,904.7 2423.12,904.7 2424.12,904.69" fill="none" stroke="#00bfbf" stroke-width="4.6" stroke-linejoin="round" stroke-linecap="butt" clip-path="url(#c20)"/>
<line x1="2018.4" y1="1002.9" x2="2018.4" y2="993.3" stroke="#000" stroke-width="1.5" stroke-linecap="butt"/>
<line x1="2018.4" y1="625.5" x2="2018.4" y2="635.1" stroke="#000" stroke-width="1.5" stroke-linecap="butt"/>
<line x1="2142.6" y1="1002.9" x2="2142.6" y2="993.3" stroke="#000" stroke-width="1.5" stroke-linecap="butt"/>
<line x1="2142.6" y1="625.5" x2="2142.6" y2="635.1" stroke="#000" stroke-width="1.5" stroke-linecap="butt"/>
<line x1="2266.8" y1="1002.9" x2="2266.8" y2="993.3" stroke="#000" stroke-width="1.5" stroke-linecap="butt"/>
<line x1="2266.8" y1="625.5" x2="2266.8" y2="635.1" stroke="#000" stroke-width="1.5" stroke-linecap="butt"/>
<line x1="2391" y1="1002.9" x2="2391" y2="993.3" stroke="#000" stroke-width="1.5" stroke-linecap="butt"/>
<line x1="2391" y1="625.5" x2="2391" y2="635.1" stroke="#000" stroke-width="1.5" stroke-linecap="butt"/>
<line x1="2005.8" y1="992.6" x2="2015.4" y2="992.6" stroke="#000" stroke-width="1.5" stroke-linecap="butt"/>
<line x1="2449" y1="992.6" x2="2439.4" y2="992.6" stroke="#000" stroke-width="1.5" stroke-linecap="butt"/>
<line x1="2005.8" y1="904.45" x2="2015.4" y2="904.45" stroke="#000" stroke-width="1.5" stroke-linecap="butt"/>
<line x1="2449" y1="904.45" x2="2439.4" y2="904.45" stroke="#000" stroke-width="1.5" stroke-linecap="butt"/>
<line x1="2005.8" y1="816.3" x2="2015.4" y2="816.3" stroke="#000" stroke-width="1.5" stroke-linecap="butt"/>
<line x1="2449" y1="816.3" x2="2439.4" y2="816.3" stroke="#000" stroke-width="1.5" stroke-linecap="butt"/>
<line x1="2005.8" y1="728.15" x2="2015.4" y2="728.15" stroke="#000" stroke-width="1.5" stroke-linecap="butt"/>
<line x1="2449" y1="728.15" x2="2439.4" y2="728.15" stroke="#000" stroke-width="1.5" stroke-linecap="butt"/>
<line x1="2005.8" y1="640" x2="2015.4" y2="640" stroke="#000" stroke-width="1.5" stroke-linecap="butt"/>
<line x1="2449" y1="640" x2="2439.4" y2="640" stroke="#000" stroke-width="1.5" stroke-linecap="butt"/>
<rect x="2005.8" y="625.5" width="443.2" height="377.4" fill="none" stroke="#000" stroke-width="2.2"/>
<text x="2021.1" y="1041.9" font-size="38.8" text-anchor="middle">0</text>
<text x="2145.3" y="1041.9" font-size="38.8" text-anchor="middle">1500</text>
<text x="2269.5" y="1041.9" font-size="38.8" text-anchor="middle">3000</text>
<text x="2393.7" y="1041.9" font-size="38.8" text-anchor="middle">4500</text>
<text x="2004.1" y="1007.94" font-size="38.8" text-anchor="end">0</text>
<text x="2004.1" y="919.79" font-size="38.8" text-anchor="end">1</text>
<text x="2004.1" y="831.64" font-size="38.8" text-anchor="end">2</text>
<text x="2004.1" y="743.49" font-size="38.8" text-anchor="end">3</text>
<text x="2004.1" y="655.34" font-size="38.8" text-anchor="end">4</text>
<text x="2228.26" y="1081.9" font-size="38.8" text-anchor="middle">Inter stimulus interval (ms)</text>
<text x="1963.4" y="805.34" font-size="38.8" text-anchor="middle" transform="rotate(-90 1963.4 805.34)">Pair pulse ratio</text>
<text x="2087.91" y="765.7" font-size="43.2" fill="#bf00bf">fac</text>
<text x="2153.11" y="742.4" font-size="34.5" fill="#bf00bf">MSN</text>
<text x="2234.17" y="752" font-size="25.5" fill="#bf00bf" style="font-family:'Liberation Serif', 'DejaVu Serif', serif">D1</text>
<text x="2157.82" y="975.2" font-size="43.2" fill="#00bfbf">dep</text>
<text x="2237.36" y="951.5" font-size="34.5" fill="#00bfbf">GPe</text>
<text x="1502.49" y="1224" font-size="38.8">MSN D1</text>
<text x="1454.39" y="1275.8" font-size="38.8">Burst 500 ms</text>
<text x="1805.19" y="1223.9" font-size="38.8">MSN D2</text>
<text x="2117.52" y="1223.9" font-size="38.8">Cortex</text>
<rect x="1593" y="1290.9" width="60.1" height="126.1" fill="#fed6d6" stroke="none" stroke-width="0"/>
<rect x="1458.7" y="1287.8" width="251.3" height="242.6" fill="none" stroke="#000" stroke-width="2.6"/>
<line x1="1467.6" y1="1297.1" x2="1467.6" y2="1315.8" stroke="#000" stroke-width="1.7" stroke-linecap="butt"/>
<line x1="1486" y1="1297.1" x2="1486" y2="1315.8" stroke="#000" stroke-width="1.7" stroke-linecap="butt"/>
<line x1="1583.1" y1="1297.1" x2="1583.1" y2="1315.8" stroke="#000" stroke-width="1.7" stroke-linecap="butt"/>
<line x1="1601.3" y1="1297.1" x2="1601.3" y2="1315.8" stroke="#000" stroke-width="1.7" stroke-linecap="butt"/>
<line x1="1606.5" y1="1297.1" x2="1606.5" y2="1315.8" stroke="#000" stroke-width="1.7" stroke-linecap="butt"/>
<line x1="1620" y1="1297.1" x2="1620" y2="1315.8" stroke="#000" stroke-width="1.7" stroke-linecap="butt"/>
<line x1="1630.1" y1="1297.1" x2="1630.1" y2="1315.8" stroke="#000" stroke-width="1.7" stroke-linecap="butt"/>
<line x1="1640.7" y1="1297.1" x2="1640.7" y2="1315.8" stroke="#000" stroke-width="1.7" stroke-linecap="butt"/>
<line x1="1646.7" y1="1297.1" x2="1646.7" y2="1315.8" stroke="#000" stroke-width="1.7" stroke-linecap="butt"/>
<line x1="1694.6" y1="1297.1" x2="1694.6" y2="1315.8" stroke="#000" stroke-width="1.7" stroke-linecap="butt"/>
<line x1="1526" y1="1324.5" x2="1526" y2="1342.3" stroke="#000" stroke-width="1.7" stroke-linecap="butt"/>
<line x1="1575" y1="1324.5" x2="1575" y2="1342.3" stroke="#000" stroke-width="1.7" stroke-linecap="butt"/>
<line x1="1598.2" y1="1324.5" x2="1598.2" y2="1342.3" stroke="#000" stroke-width="1.7" stroke-linecap="butt"/>
<line x1="1605.9" y1="1324.5" x2="1605.9" y2="1342.3" stroke="#000" stroke-width="1.7" stroke-linecap="butt"/>
<line x1="1622" y1="1324.5" x2="1622" y2="1342.3" stroke="#000" stroke-width="1.7" stroke-linecap="butt"/>
<line x1="1627.2" y1="1324.5" x2="1627.2" y2="1342.3" stroke="#000" stroke-width="1.7" stroke-linecap="butt"/>
<line x1="1637.6" y1="1324.5" x2="1637.6" y2="1342.3" stroke="#000" stroke-width="1.7" stroke-linecap="butt"/>
<line x1="1649" y1="1324.5" x2="1649" y2="1342.3" stroke="#000" stroke-width="1.7" stroke-linecap="butt"/>
<line x1="1680.5" y1="1324.5" x2="1680.5" y2="1342.3" stroke="#000" stroke-width="1.7" stroke-linecap="butt"/>
<line x1="1465.5" y1="1396" x2="1465.5" y2="1413.7" stroke="#000" stroke-width="1.7" stroke-linecap="butt"/>
<line x1="1484" y1="1396" x2="1484" y2="1413.7" stroke="#000" stroke-width="1.7" stroke-linecap="butt"/>
<line x1="1548.9" y1="1396" x2="1548.9" y2="1413.7" stroke="#000" stroke-width="1.7" stroke-linecap="butt"/>
<line x1="1602.1" y1="1396" x2="1602.1" y2="1413.7" stroke="#000" stroke-width="1.7" stroke-linecap="butt"/>
<line x1="1612.7" y1="1396" x2="1612.7" y2="1413.7" stroke="#000" stroke-width="1.7" stroke-linecap="butt"/>
<line x1="1620.4" y1="1396" x2="1620.4" y2="1413.7" stroke="#000" stroke-width="1.7" stroke-linecap="butt"/>
<line x1="1627.6" y1="1396" x2="1627.6" y2="1413.7" stroke="#000" stroke-width="1.7" stroke-linecap="butt"/>
<line x1="1638.6" y1="1396" x2="1638.6" y2="1413.7" stroke="#000" stroke-width="1.7" stroke-linecap="butt"/>
<line x1="1652.5" y1="1396" x2="1652.5" y2="1413.7" stroke="#000" stroke-width="1.7" stroke-linecap="butt"/>
<line x1="1692.5" y1="1396" x2="1692.5" y2="1413.7" stroke="#000" stroke-width="1.7" stroke-linecap="butt"/>
<line x1="1469.6" y1="1421.1" x2="1469.6" y2="1439.2" stroke="#000" stroke-width="1.7" stroke-linecap="butt"/>
<line x1="1555.7" y1="1421.1" x2="1555.7" y2="1439.2" stroke="#000" stroke-width="1.7" stroke-linecap="butt"/>
<line x1="1630.7" y1="1421.1" x2="1630.7" y2="1439.2" stroke="#000" stroke-width="1.7" stroke-linecap="butt"/>
<line x1="1665" y1="1421.1" x2="1665" y2="1439.2" stroke="#000" stroke-width="1.7" stroke-linecap="butt"/>
<line x1="1464.9" y1="1448.1" x2="1464.9" y2="1466.1" stroke="#000" stroke-width="1.7" stroke-linecap="butt"/>
<line x1="1483.5" y1="1448.1" x2="1483.5" y2="1466.1" stroke="#000" stroke-width="1.7" stroke-linecap="butt"/>
<line x1="1581" y1="1448.1" x2="1581" y2="1466.1" stroke="#000" stroke-width="1.7" stroke-linecap="butt"/>
<line x1="1609.6" y1="1448.1" x2="1609.6" y2="1466.1" stroke="#000" stroke-width="1.7" stroke-linecap="butt"/>
<line x1="1651.9" y1="1448.1" x2="1651.9" y2="1466.1" stroke="#000" stroke-width="1.7" stroke-linecap="butt"/>
<line x1="1700.2" y1="1448.1" x2="1700.2" y2="1466.1" stroke="#000" stroke-width="1.7" stroke-linecap="butt"/>
<line x1="1467.6" y1="1503.4" x2="1467.6" y2="1521.1" stroke="#000" stroke-width="1.7" stroke-linecap="butt"/>
<line x1="1497" y1="1503.4" x2="1497" y2="1521.1" stroke="#000" stroke-width="1.7" stroke-linecap="butt"/>
<line x1="1526.7" y1="1503.4" x2="1526.7" y2="1521.1" stroke="#000" stroke-width="1.7" stroke-linecap="butt"/>
<line x1="1612.1" y1="1503.4" x2="1612.1" y2="1521.1" stroke="#000" stroke-width="1.7" stroke-linecap="butt"/>
<line x1="1687.1" y1="1503.4" x2="1687.1" y2="1521.1" stroke="#000" stroke-width="1.7" stroke-linecap="butt"/>
<line x1="1702.9" y1="1503.4" x2="1702.9" y2="1521.1" stroke="#000" stroke-width="1.7" stroke-linecap="butt"/>
<circle cx="1582.6" cy="1361.5" r="1.4" fill="#000" stroke="none" stroke-width="0"/>
<circle cx="1582.6" cy="1372.25" r="1.4" fill="#000" stroke="none" stroke-width="0"/>
<circle cx="1582.6" cy="1383" r="1.4" fill="#000" stroke="none" stroke-width="0"/>
<circle cx="1582.6" cy="1480.5" r="1.4" fill="#000" stroke="none" stroke-width="0"/>
<circle cx="1582.6" cy="1492" r="1.4" fill="#000" stroke="none" stroke-width="0"/>
<circle cx="1582.6" cy="1503.5" r="1.4" fill="#000" stroke="none" stroke-width="0"/>
<rect x="1762.3" y="1246.4" width="252.3" height="121.4" fill="none" stroke="#000" stroke-width="2"/>
<line x1="1813.6" y1="1255.4" x2="1813.6" y2="1273.2" stroke="#000" stroke-width="1.7" stroke-linecap="butt"/>
<line x1="1868.7" y1="1255.4" x2="1868.7" y2="1273.2" stroke="#000" stroke-width="1.7" stroke-linecap="butt"/>
<line x1="1887.1" y1="1255.4" x2="1887.1" y2="1273.2" stroke="#000" stroke-width="1.7" stroke-linecap="butt"/>
<line x1="1940.6" y1="1255.4" x2="1940.6" y2="1273.2" stroke="#000" stroke-width="1.7" stroke-linecap="butt"/>
<line x1="1775.2" y1="1278.7" x2="1775.2" y2="1296.5" stroke="#000" stroke-width="1.7" stroke-linecap="butt"/>
<line x1="1833.6" y1="1278.7" x2="1833.6" y2="1296.5" stroke="#000" stroke-width="1.7" stroke-linecap="butt"/>
<line x1="1845.2" y1="1278.7" x2="1845.2" y2="1296.5" stroke="#000" stroke-width="1.7" stroke-linecap="butt"/>
<line x1="1919.5" y1="1278.7" x2="1919.5" y2="1296.5" stroke="#000" stroke-width="1.7" stroke-linecap="butt"/>
<line x1="1950.7" y1="1278.7" x2="1950.7" y2="1296.5" stroke="#000" stroke-width="1.7" stroke-linecap="butt"/>
<line x1="1994.6" y1="1278.7" x2="1994.6" y2="1296.5" stroke="#000" stroke-width="1.7" stroke-linecap="butt"/>
<line x1="2010" y1="1278.7" x2="2010" y2="1296.5" stroke="#000" stroke-width="1.7" stroke-linecap="butt"/>
<line x1="1784" y1="1339.6" x2="1784" y2="1356.9" stroke="#000" stroke-width="1.7" stroke-linecap="butt"/>
<line x1="1845.4" y1="1339.6" x2="1845.4" y2="1356.9" stroke="#000" stroke-width="1.7" stroke-linecap="butt"/>
<line x1="1869.8" y1="1339.6" x2="1869.8" y2="1356.9" stroke="#000" stroke-width="1.7" stroke-linecap="butt"/>
<line x1="1936.5" y1="1339.6" x2="1936.5" y2="1356.9" stroke="#000" stroke-width="1.7" stroke-linecap="butt"/>
<line x1="1944.7" y1="1339.6" x2="1944.7" y2="1356.9" stroke="#000" stroke-width="1.7" stroke-linecap="butt"/>
<line x1="1979" y1="1339.6" x2="1979" y2="1356.9" stroke="#000" stroke-width="1.7" stroke-linecap="butt"/>
<circle cx="1884.9" cy="1311" r="1.4" fill="#000" stroke="none" stroke-width="0"/>
<circle cx="1884.9" cy="1322" r="1.4" fill="#000" stroke="none" stroke-width="0"/>
<circle cx="1884.9" cy="1333" r="1.4" fill="#000" stroke="none" stroke-width="0"/>
<rect x="2066.7" y="1246.4" width="251.8" height="121.4" fill="none" stroke="#000" stroke-width="2"/>
<line x1="2085.7" y1="1255.4" x2="2085.7" y2="1273.2" stroke="#000" stroke-width="1.7" stroke-linecap="butt"/>
<line x1="2116.9" y1="1255.4" x2="2116.9" y2="1273.2" stroke="#000" stroke-width="1.7" stroke-linecap="butt"/>
<line x1="2130.6" y1="1255.4" x2="2130.6" y2="1273.2" stroke="#000" stroke-width="1.7" stroke-linecap="butt"/>
<line x1="2149.5" y1="1255.4" x2="2149.5" y2="1273.2" stroke="#000" stroke-width="1.7" stroke-linecap="butt"/>
<line x1="2172.6" y1="1255.4" x2="2172.6" y2="1273.2" stroke="#000" stroke-width="1.7" stroke-linecap="butt"/>
<line x1="2191.2" y1="1255.4" x2="2191.2" y2="1273.2" stroke="#000" stroke-width="1.7" stroke-linecap="butt"/>
<line x1="2230.7" y1="1255.4" x2="2230.7" y2="1273.2" stroke="#000" stroke-width="1.7" stroke-linecap="butt"/>
<line x1="2244.4" y1="1255.4" x2="2244.4" y2="1273.2" stroke="#000" stroke-width="1.7" stroke-linecap="butt"/>
<line x1="2262.3" y1="1255.4" x2="2262.3" y2="1273.2" stroke="#000" stroke-width="1.7" stroke-linecap="butt"/>
<line x1="2310.2" y1="1255.4" x2="2310.2" y2="1273.2" stroke="#000" stroke-width="1.7" stroke-linecap="butt"/>
<line x1="2079.1" y1="1278.7" x2="2079.1" y2="1296.5" stroke="#000" stroke-width="1.7" stroke-linecap="butt"/>
<line x1="2093.6" y1="1278.7" x2="2093.6" y2="1296.5" stroke="#000" stroke-width="1.7" stroke-linecap="butt"/>
<line x1="2108.1" y1="1278.7" x2="2108.1" y2="1296.5" stroke="#000" stroke-width="1.7" stroke-linecap="butt"/>
<line x1="2137.5" y1="1278.7" x2="2137.5" y2="1296.5" stroke="#000" stroke-width="1.7" stroke-linecap="butt"/>
<line x1="2149" y1="1278.7" x2="2149" y2="1296.5" stroke="#000" stroke-width="1.7" stroke-linecap="butt"/>
<line x1="2179.4" y1="1278.7" x2="2179.4" y2="1296.5" stroke="#000" stroke-width="1.7" stroke-linecap="butt"/>
<line x1="2192" y1="1278.7" x2="2192" y2="1296.5" stroke="#000" stroke-width="1.7" stroke-linecap="butt"/>
<line x1="2223.6" y1="1278.7" x2="2223.6" y2="1296.5" stroke="#000" stroke-width="1.7" stroke-linecap="butt"/>
<line x1="2254" y1="1278.7" x2="2254" y2="1296.5" stroke="#000" stroke-width="1.7" stroke-linecap="butt"/>
<line x1="2298.4" y1="1278.7" x2="2298.4" y2="1296.5" stroke="#000" stroke-width="1.7" stroke-linecap="butt"/>
<line x1="2313.6" y1="1278.7" x2="2313.6" y2="1296.5" stroke="#000" stroke-width="1.7" stroke-linecap="butt"/>
<line x1="2087.8" y1="1339.6" x2="2087.8" y2="1356.9" stroke="#000" stroke-width="1.7" stroke-linecap="butt"/>
<line x1="2112.8" y1="1339.6" x2="2112.8" y2="1356.9" stroke="#000" stroke-width="1.7" stroke-linecap="butt"/>
<line x1="2149" y1="1339.6" x2="2149" y2="1356.9" stroke="#000" stroke-width="1.7" stroke-linecap="butt"/>
<line x1="2164.1" y1="1339.6" x2="2164.1" y2="1356.9" stroke="#000" stroke-width="1.7" stroke-linecap="butt"/>
<line x1="2173.7" y1="1339.6" x2="2173.7" y2="1356.9" stroke="#000" stroke-width="1.7" stroke-linecap="butt"/>
<line x1="2240" y1="1339.6" x2="2240" y2="1356.9" stroke="#000" stroke-width="1.7" stroke-linecap="butt"/>
<line x1="2248.3" y1="1339.6" x2="2248.3" y2="1356.9" stroke="#000" stroke-width="1.7" stroke-linecap="butt"/>
<line x1="2282.8" y1="1339.6" x2="2282.8" y2="1356.9" stroke="#000" stroke-width="1.7" stroke-linecap="butt"/>
<line x1="2287.5" y1="1339.6" x2="2287.5" y2="1356.9" stroke="#000" stroke-width="1.7" stroke-linecap="butt"/>
<circle cx="2189.3" cy="1311" r="1.4" fill="#000" stroke="none" stroke-width="0"/>
<circle cx="2189.3" cy="1322" r="1.4" fill="#000" stroke="none" stroke-width="0"/>
<circle cx="2189.3" cy="1333" r="1.4" fill="#000" stroke="none" stroke-width="0"/>
<line x1="1891.8" y1="1368.8" x2="1890.9" y2="1500" stroke="#00cc44" stroke-width="2.6" stroke-linecap="butt"/>
<line x1="2188.6" y1="1368.8" x2="2188.6" y2="1505" stroke="#000" stroke-width="2.6" stroke-linecap="butt"/>
<line x1="1578.6" y1="1535.2" x2="1832" y2="1826" stroke="#00cc44" stroke-width="2.6" stroke-linecap="butt"/>
<line x1="1890.3" y1="1640" x2="1889.2" y2="1800" stroke="#0055ff" stroke-width="2.6" stroke-linecap="butt"/>
<line x1="2150" y1="1630" x2="1945" y2="1822.5" stroke="#0055ff" stroke-width="2.6" stroke-linecap="butt"/>
<ellipse cx="2037" cy="1584.3" rx="117" ry="28" fill="none" stroke="#000" stroke-width="2.4"/>
<circle cx="1890.9" cy="1510" r="15.2" fill="#000" stroke="none" stroke-width="0"/>
<polygon points="2188.6,1499.2 2171.9,1525.3 2205.3,1525.3" fill="#000"/>
<circle cx="2118" cy="1562.3" r="11.6" fill="#000" stroke="none" stroke-width="0"/>
<polygon points="1940.3,1614.5 1952.2,1591.6 1966.4,1610.1" fill="#000"/>
<circle cx="1889" cy="1805.2" r="11.9" fill="#000" stroke="none" stroke-width="0"/>
<circle cx="1836.7" cy="1831.8" r="11.3" fill="#000" stroke="none" stroke-width="0"/>
<polygon points="1921.9,1826.6 1948,1820.9 1940,1843.1" fill="#000"/>
<circle cx="1888.7" cy="1584.3" r="59" fill="#e9afaf" stroke="#000" stroke-width="4"/>
<circle cx="2187.3" cy="1584.3" r="59" fill="#e9afaf" stroke="#000" stroke-width="4"/>
<circle cx="1888.5" cy="1874.9" r="59" fill="#e9afaf" stroke="#000" stroke-width="4"/>
<text x="1836.31" y="1601" font-size="49.6">GPe</text>
<text x="2137.13" y="1601" font-size="49.6">STN</text>
<text x="1843.03" y="1890.8" font-size="49.6">SNr</text>
<text x="1430.19" y="1809.7" font-size="38.8">Response SNr</text>
<text x="1389.9" y="1891.17" font-size="38.8" text-anchor="middle" transform="rotate(-90 1389.9 1891.17)">Firing rate</text>
<rect x="1409" y="1822" width="301.4" height="153.6" fill="none" stroke="#000" stroke-width="2.4"/>
<polyline points="1424.35,1870.1 1433.1,1858.73 1440.1,1880.59 1449.72,1876.57 1456.72,1861.7 1464.59,1880.59 1480.34,1866.07 1489.08,1870.1 1496.96,1870.1 1505.7,1859.08 1513.58,1872.72 1520.57,1876.57 1528.45,1866.07 1536.32,1869.57 1544.19,1884.44 1552.06,1865.72 1561.69,1873.6 1571.31,1860.13 1577.43,1888.47 1584.43,1878.85 1591.43,1900.71 1597.55,1893.72 1601.92,1917.33 1612.42,1937.45 1620.29,1947.95 1627.29,1938.33 1634.29,1942.7 1640.41,1937.1 1642.16,1855.23 1650.91,1871.32 1663.16,1863.97 1673.3,1881.47 1684.15,1870.45 1692.9,1877.97 1701.99,1870.97" fill="none" stroke="#000" stroke-width="3.4" stroke-linejoin="miter" stroke-linecap="butt"/>
<line x1="1571.8" y1="1822.9" x2="1571.8" y2="1962.8" stroke="#000" stroke-width="3.4" stroke-linecap="butt" stroke-dasharray="15.7,16.7"/>
<line x1="1641.8" y1="1822.9" x2="1641.8" y2="1962.8" stroke="#000" stroke-width="3.4" stroke-linecap="butt" stroke-dasharray="15.7,16.7"/>
<text x="2123.89" y="1845.8" font-size="38.8">Inhibitory</text>
<text x="2123.89" y="1892.4" font-size="38.8">Excitatory</text>
<text x="2123.89" y="1950.3" font-size="38.8">Facilitation</text>
<text x="2123.89" y="1992.1" font-size="38.8">Depression</text>
<line x1="2363.2" y1="1840.5" x2="2405" y2="1840.5" stroke="#000" stroke-width="2.4" stroke-linecap="butt"/>
<circle cx="2414.7" cy="1840.5" r="12.06" fill="#000" stroke="none" stroke-width="0"/>
<line x1="2363.2" y1="1884.4" x2="2405" y2="1884.4" stroke="#000" stroke-width="2.4" stroke-linecap="butt"/>
<polygon points="2401.8,1884.4 2422.7,1872.3 2422.7,1897.3" fill="#000"/>
<line x1="2363.2" y1="1943.1" x2="2414.8" y2="1943.1" stroke="#00cc44" stroke-width="2.8" stroke-linecap="butt"/>
<line x1="2363.2" y1="1981.2" x2="2414.8" y2="1981.2" stroke="#0055ff" stroke-width="2.8" stroke-linecap="butt"/>
</svg></body></html>
